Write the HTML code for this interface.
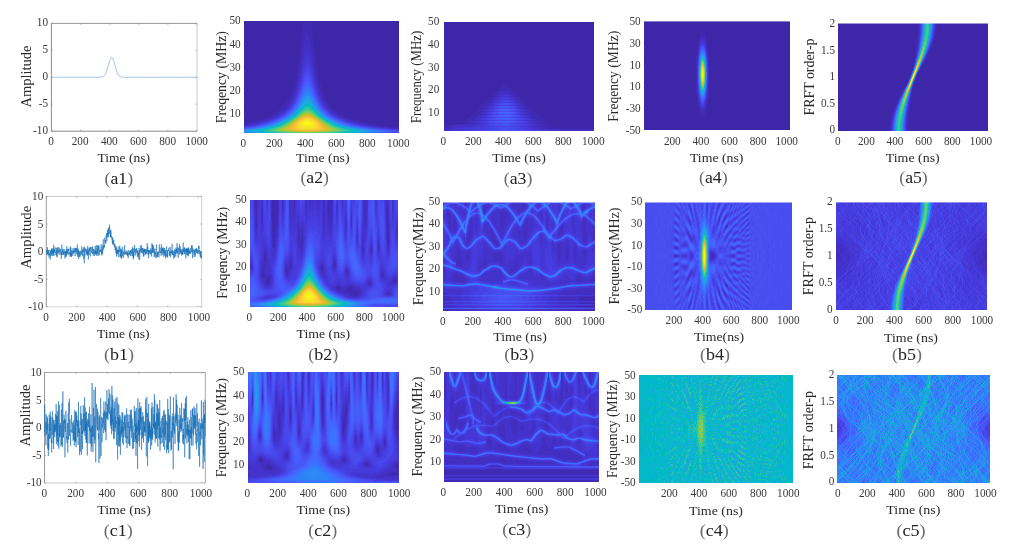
<!DOCTYPE html>
<html><head><meta charset="utf-8"><style>
html,body{margin:0;padding:0;background:#fff;width:1016px;height:552px;overflow:hidden}
canvas{position:absolute;display:block;background:#3e26a8}
svg{position:absolute;left:0;top:0}
text{font-family:"Liberation Serif", serif}
</style></head><body>
<canvas id="a2" width="155" height="112" style="left:244px;top:21px;width:155px;height:112px;background:radial-gradient(ellipse 22px 26px at 64px 104px,#f9fb15 0%,#fcbd3d 35%,#21c1a5 65%,#2f86f2 85%,rgba(62,38,168,0) 100%),radial-gradient(ellipse 80px 14px at 64px 110px,#35a4e8 0%,rgba(62,38,168,0) 100%),#3e26a8"></canvas><canvas id="a3" width="150" height="109" style="left:444px;top:22px;width:150px;height:109px;background:#3f29af"></canvas><canvas id="a4" width="146" height="109" style="left:644px;top:21px;width:146px;height:109px;background:radial-gradient(ellipse 5px 32px at 59px 53px,#f9fb15 0%,#21c1a5 40%,#2f86f2 70%,rgba(62,38,168,0) 100%),#3e26a8"></canvas><canvas id="a5" width="150" height="108" style="left:838px;top:23px;width:150px;height:108px;background:#3e2eab"></canvas><canvas id="b2" width="148" height="107" style="left:250px;top:200px;width:148px;height:107px;background:radial-gradient(ellipse 20px 26px at 58px 100px,#f9fb15 0%,#fcbd3d 35%,#21c1a5 65%,#2f86f2 85%,rgba(72,74,212,0) 100%),#484ad4"></canvas><canvas id="b3" width="152" height="109" style="left:443px;top:202px;width:152px;height:109px;background:#4440db"></canvas><canvas id="b4" width="147" height="108" style="left:645px;top:202px;width:147px;height:108px;background:radial-gradient(ellipse 5px 32px at 59px 54px,#f9fb15 0%,#21c1a5 40%,#2f86f2 70%,rgba(72,81,238,0) 100%),#4851ee"></canvas><canvas id="b5" width="151" height="108" style="left:836px;top:202px;width:151px;height:108px;background:#4745de"></canvas><canvas id="c2" width="151" height="111" style="left:248px;top:372px;width:151px;height:111px;background:#444ce8"></canvas><canvas id="c3" width="155" height="110" style="left:444px;top:372px;width:155px;height:110px;background:#433bd3"></canvas><canvas id="c4" width="154" height="108" style="left:639px;top:375px;width:154px;height:108px;background:#0fb8c6"></canvas><canvas id="c5" width="153" height="108" style="left:837px;top:375px;width:153px;height:108px;background:#2e88f1"></canvas>
<svg width="1016" height="552" viewBox="0 0 1016 552">
<text x="48.0" y="25.9" font-size="12.2" text-anchor="end" fill="#3a3a3a" textLength="11.22" lengthAdjust="spacingAndGlyphs">10</text>
<text x="48.0" y="52.9" font-size="12.2" text-anchor="end" fill="#3a3a3a" textLength="5.61" lengthAdjust="spacingAndGlyphs">5</text>
<text x="48.0" y="79.8" font-size="12.2" text-anchor="end" fill="#3a3a3a" textLength="5.61" lengthAdjust="spacingAndGlyphs">0</text>
<text x="48.0" y="106.8" font-size="12.2" text-anchor="end" fill="#3a3a3a" textLength="9.35" lengthAdjust="spacingAndGlyphs">-5</text>
<text x="48.0" y="133.7" font-size="12.2" text-anchor="end" fill="#3a3a3a" textLength="14.96" lengthAdjust="spacingAndGlyphs">-10</text>
<text x="51.0" y="144.8" font-size="12.2" text-anchor="middle" fill="#3a3a3a" textLength="5.61" lengthAdjust="spacingAndGlyphs">0</text>
<text x="80.1" y="144.8" font-size="12.2" text-anchor="middle" fill="#3a3a3a" textLength="16.84" lengthAdjust="spacingAndGlyphs">200</text>
<text x="109.3" y="144.8" font-size="12.2" text-anchor="middle" fill="#3a3a3a" textLength="16.84" lengthAdjust="spacingAndGlyphs">400</text>
<text x="138.4" y="144.8" font-size="12.2" text-anchor="middle" fill="#3a3a3a" textLength="16.84" lengthAdjust="spacingAndGlyphs">600</text>
<text x="167.6" y="144.8" font-size="12.2" text-anchor="middle" fill="#3a3a3a" textLength="16.84" lengthAdjust="spacingAndGlyphs">800</text>
<text x="196.7" y="144.8" font-size="12.2" text-anchor="middle" fill="#3a3a3a" textLength="22.45" lengthAdjust="spacingAndGlyphs">1000</text>
<text x="123.8" y="162.0" font-size="13.3" text-anchor="middle" fill="#2a2a2a" textLength="52.5" lengthAdjust="spacingAndGlyphs">Time (ns)</text>
<text x="-76.5" y="30.6" font-size="14.0" text-anchor="middle" fill="#2a2a2a" transform="rotate(-90)" textLength="62" lengthAdjust="spacingAndGlyphs">Amplitude</text>
<text x="118.8" y="183.9" font-size="16.5" text-anchor="middle" fill="#222" textLength="28.5" lengthAdjust="spacingAndGlyphs"><tspan fill="#6a6a6a">(</tspan>a1<tspan fill="#6a6a6a">)</tspan></text>
<text x="240.7" y="24.4" font-size="12.2" text-anchor="end" fill="#3a3a3a" textLength="11.22" lengthAdjust="spacingAndGlyphs">50</text>
<text x="240.7" y="47.5" font-size="12.2" text-anchor="end" fill="#3a3a3a" textLength="11.22" lengthAdjust="spacingAndGlyphs">40</text>
<text x="240.7" y="70.6" font-size="12.2" text-anchor="end" fill="#3a3a3a" textLength="11.22" lengthAdjust="spacingAndGlyphs">30</text>
<text x="240.7" y="93.7" font-size="12.2" text-anchor="end" fill="#3a3a3a" textLength="11.22" lengthAdjust="spacingAndGlyphs">20</text>
<text x="240.7" y="116.8" font-size="12.2" text-anchor="end" fill="#3a3a3a" textLength="11.22" lengthAdjust="spacingAndGlyphs">10</text>
<text x="243.3" y="146.6" font-size="12.2" text-anchor="middle" fill="#3a3a3a" textLength="5.61" lengthAdjust="spacingAndGlyphs">0</text>
<text x="274.3" y="146.6" font-size="12.2" text-anchor="middle" fill="#3a3a3a" textLength="16.84" lengthAdjust="spacingAndGlyphs">200</text>
<text x="305.3" y="146.6" font-size="12.2" text-anchor="middle" fill="#3a3a3a" textLength="16.84" lengthAdjust="spacingAndGlyphs">400</text>
<text x="336.3" y="146.6" font-size="12.2" text-anchor="middle" fill="#3a3a3a" textLength="16.84" lengthAdjust="spacingAndGlyphs">600</text>
<text x="367.3" y="146.6" font-size="12.2" text-anchor="middle" fill="#3a3a3a" textLength="16.84" lengthAdjust="spacingAndGlyphs">800</text>
<text x="398.3" y="146.6" font-size="12.2" text-anchor="middle" fill="#3a3a3a" textLength="22.45" lengthAdjust="spacingAndGlyphs">1000</text>
<text x="322.8" y="162.0" font-size="13.3" text-anchor="middle" fill="#2a2a2a" textLength="53.5" lengthAdjust="spacingAndGlyphs">Time (ns)</text>
<text x="-77.2" y="225.5" font-size="14.0" text-anchor="middle" fill="#2a2a2a" transform="rotate(-90)" textLength="92" lengthAdjust="spacingAndGlyphs">Freqency (MHz)</text>
<text x="314.7" y="183.3" font-size="16.5" text-anchor="middle" fill="#222" textLength="28.5" lengthAdjust="spacingAndGlyphs"><tspan fill="#6a6a6a">(</tspan>a2<tspan fill="#6a6a6a">)</tspan></text>
<text x="439.3" y="25.1" font-size="12.2" text-anchor="end" fill="#3a3a3a" textLength="11.22" lengthAdjust="spacingAndGlyphs">50</text>
<text x="439.3" y="47.9" font-size="12.2" text-anchor="end" fill="#3a3a3a" textLength="11.22" lengthAdjust="spacingAndGlyphs">40</text>
<text x="439.3" y="70.6" font-size="12.2" text-anchor="end" fill="#3a3a3a" textLength="11.22" lengthAdjust="spacingAndGlyphs">30</text>
<text x="439.3" y="93.4" font-size="12.2" text-anchor="end" fill="#3a3a3a" textLength="11.22" lengthAdjust="spacingAndGlyphs">20</text>
<text x="439.3" y="116.1" font-size="12.2" text-anchor="end" fill="#3a3a3a" textLength="11.22" lengthAdjust="spacingAndGlyphs">10</text>
<text x="443.3" y="145.1" font-size="12.2" text-anchor="middle" fill="#3a3a3a" textLength="5.61" lengthAdjust="spacingAndGlyphs">0</text>
<text x="473.3" y="145.1" font-size="12.2" text-anchor="middle" fill="#3a3a3a" textLength="16.84" lengthAdjust="spacingAndGlyphs">200</text>
<text x="503.3" y="145.1" font-size="12.2" text-anchor="middle" fill="#3a3a3a" textLength="16.84" lengthAdjust="spacingAndGlyphs">400</text>
<text x="533.3" y="145.1" font-size="12.2" text-anchor="middle" fill="#3a3a3a" textLength="16.84" lengthAdjust="spacingAndGlyphs">600</text>
<text x="563.3" y="145.1" font-size="12.2" text-anchor="middle" fill="#3a3a3a" textLength="16.84" lengthAdjust="spacingAndGlyphs">800</text>
<text x="593.3" y="145.1" font-size="12.2" text-anchor="middle" fill="#3a3a3a" textLength="22.45" lengthAdjust="spacingAndGlyphs">1000</text>
<text x="519.0" y="162.2" font-size="13.3" text-anchor="middle" fill="#2a2a2a" textLength="53.5" lengthAdjust="spacingAndGlyphs">Time (ns)</text>
<text x="-77.0" y="421.3" font-size="14.0" text-anchor="middle" fill="#2a2a2a" transform="rotate(-90)" textLength="92.4" lengthAdjust="spacingAndGlyphs">Frequency (MHz)</text>
<text x="518.1" y="184.3" font-size="16.5" text-anchor="middle" fill="#222" textLength="28.5" lengthAdjust="spacingAndGlyphs"><tspan fill="#6a6a6a">(</tspan>a3<tspan fill="#6a6a6a">)</tspan></text>
<text x="640.7" y="25.1" font-size="12.2" text-anchor="end" fill="#3a3a3a" textLength="11.22" lengthAdjust="spacingAndGlyphs">50</text>
<text x="640.7" y="46.8" font-size="12.2" text-anchor="end" fill="#3a3a3a" textLength="11.22" lengthAdjust="spacingAndGlyphs">30</text>
<text x="640.7" y="68.5" font-size="12.2" text-anchor="end" fill="#3a3a3a" textLength="11.22" lengthAdjust="spacingAndGlyphs">10</text>
<text x="640.7" y="90.2" font-size="12.2" text-anchor="end" fill="#3a3a3a" textLength="11.22" lengthAdjust="spacingAndGlyphs">10</text>
<text x="640.7" y="111.9" font-size="12.2" text-anchor="end" fill="#3a3a3a" textLength="14.96" lengthAdjust="spacingAndGlyphs">-30</text>
<text x="640.7" y="133.6" font-size="12.2" text-anchor="end" fill="#3a3a3a" textLength="14.96" lengthAdjust="spacingAndGlyphs">-50</text>
<text x="672.3" y="144.8" font-size="12.2" text-anchor="middle" fill="#3a3a3a" textLength="16.84" lengthAdjust="spacingAndGlyphs">200</text>
<text x="700.9" y="144.8" font-size="12.2" text-anchor="middle" fill="#3a3a3a" textLength="16.84" lengthAdjust="spacingAndGlyphs">400</text>
<text x="729.5" y="144.8" font-size="12.2" text-anchor="middle" fill="#3a3a3a" textLength="16.84" lengthAdjust="spacingAndGlyphs">600</text>
<text x="758.1" y="144.8" font-size="12.2" text-anchor="middle" fill="#3a3a3a" textLength="16.84" lengthAdjust="spacingAndGlyphs">800</text>
<text x="786.7" y="144.8" font-size="12.2" text-anchor="middle" fill="#3a3a3a" textLength="22.45" lengthAdjust="spacingAndGlyphs">1000</text>
<text x="716.7" y="162.0" font-size="13.3" text-anchor="middle" fill="#2a2a2a" textLength="53.5" lengthAdjust="spacingAndGlyphs">Time (ns)</text>
<text x="-76.2" y="618.0" font-size="14.0" text-anchor="middle" fill="#2a2a2a" transform="rotate(-90)" textLength="91" lengthAdjust="spacingAndGlyphs">Freqency (MHz)</text>
<text x="713.3" y="183.3" font-size="16.5" text-anchor="middle" fill="#222" textLength="28.5" lengthAdjust="spacingAndGlyphs"><tspan fill="#6a6a6a">(</tspan>a4<tspan fill="#6a6a6a">)</tspan></text>
<text x="835.0" y="26.8" font-size="12.2" text-anchor="end" fill="#3a3a3a" textLength="5.61" lengthAdjust="spacingAndGlyphs">2</text>
<text x="835.0" y="53.5" font-size="12.2" text-anchor="end" fill="#3a3a3a" textLength="14.03" lengthAdjust="spacingAndGlyphs">1.5</text>
<text x="835.0" y="80.1" font-size="12.2" text-anchor="end" fill="#3a3a3a" textLength="5.61" lengthAdjust="spacingAndGlyphs">1</text>
<text x="835.0" y="106.8" font-size="12.2" text-anchor="end" fill="#3a3a3a" textLength="14.03" lengthAdjust="spacingAndGlyphs">0.5</text>
<text x="835.0" y="133.4" font-size="12.2" text-anchor="end" fill="#3a3a3a" textLength="5.61" lengthAdjust="spacingAndGlyphs">0</text>
<text x="837.7" y="144.8" font-size="12.2" text-anchor="middle" fill="#3a3a3a" textLength="5.61" lengthAdjust="spacingAndGlyphs">0</text>
<text x="866.4" y="144.8" font-size="12.2" text-anchor="middle" fill="#3a3a3a" textLength="16.84" lengthAdjust="spacingAndGlyphs">200</text>
<text x="895.0" y="144.8" font-size="12.2" text-anchor="middle" fill="#3a3a3a" textLength="16.84" lengthAdjust="spacingAndGlyphs">400</text>
<text x="923.7" y="144.8" font-size="12.2" text-anchor="middle" fill="#3a3a3a" textLength="16.84" lengthAdjust="spacingAndGlyphs">600</text>
<text x="952.3" y="144.8" font-size="12.2" text-anchor="middle" fill="#3a3a3a" textLength="16.84" lengthAdjust="spacingAndGlyphs">800</text>
<text x="981.0" y="144.8" font-size="12.2" text-anchor="middle" fill="#3a3a3a" textLength="22.45" lengthAdjust="spacingAndGlyphs">1000</text>
<text x="912.7" y="162.0" font-size="13.3" text-anchor="middle" fill="#2a2a2a" textLength="54" lengthAdjust="spacingAndGlyphs">Time (ns)</text>
<text x="-77.0" y="813.8" font-size="14.0" text-anchor="middle" fill="#2a2a2a" transform="rotate(-90)" textLength="77" lengthAdjust="spacingAndGlyphs">FRFT order-p</text>
<text x="913.5" y="183.3" font-size="16.5" text-anchor="middle" fill="#222" textLength="28.5" lengthAdjust="spacingAndGlyphs"><tspan fill="#6a6a6a">(</tspan>a5<tspan fill="#6a6a6a">)</tspan></text>
<text x="43.3" y="200.4" font-size="12.2" text-anchor="end" fill="#3a3a3a" textLength="11.22" lengthAdjust="spacingAndGlyphs">10</text>
<text x="43.3" y="227.9" font-size="12.2" text-anchor="end" fill="#3a3a3a" textLength="5.61" lengthAdjust="spacingAndGlyphs">5</text>
<text x="43.3" y="255.4" font-size="12.2" text-anchor="end" fill="#3a3a3a" textLength="5.61" lengthAdjust="spacingAndGlyphs">0</text>
<text x="43.3" y="282.9" font-size="12.2" text-anchor="end" fill="#3a3a3a" textLength="9.35" lengthAdjust="spacingAndGlyphs">-5</text>
<text x="43.3" y="310.4" font-size="12.2" text-anchor="end" fill="#3a3a3a" textLength="14.96" lengthAdjust="spacingAndGlyphs">-10</text>
<text x="46.0" y="320.8" font-size="12.2" text-anchor="middle" fill="#3a3a3a" textLength="5.61" lengthAdjust="spacingAndGlyphs">0</text>
<text x="76.6" y="320.8" font-size="12.2" text-anchor="middle" fill="#3a3a3a" textLength="16.84" lengthAdjust="spacingAndGlyphs">200</text>
<text x="107.2" y="320.8" font-size="12.2" text-anchor="middle" fill="#3a3a3a" textLength="16.84" lengthAdjust="spacingAndGlyphs">400</text>
<text x="137.8" y="320.8" font-size="12.2" text-anchor="middle" fill="#3a3a3a" textLength="16.84" lengthAdjust="spacingAndGlyphs">600</text>
<text x="168.4" y="320.8" font-size="12.2" text-anchor="middle" fill="#3a3a3a" textLength="16.84" lengthAdjust="spacingAndGlyphs">800</text>
<text x="199.0" y="320.8" font-size="12.2" text-anchor="middle" fill="#3a3a3a" textLength="22.45" lengthAdjust="spacingAndGlyphs">1000</text>
<text x="123.3" y="338.3" font-size="13.3" text-anchor="middle" fill="#2a2a2a" textLength="52.5" lengthAdjust="spacingAndGlyphs">Time (ns)</text>
<text x="-237.3" y="30.7" font-size="14.0" text-anchor="middle" fill="#2a2a2a" transform="rotate(-90)" textLength="63" lengthAdjust="spacingAndGlyphs">Amplitude</text>
<text x="119.0" y="360.3" font-size="16.5" text-anchor="middle" fill="#222" textLength="30" lengthAdjust="spacingAndGlyphs"><tspan fill="#6a6a6a">(</tspan>b1<tspan fill="#6a6a6a">)</tspan></text>
<text x="246.7" y="203.1" font-size="12.2" text-anchor="end" fill="#3a3a3a" textLength="11.22" lengthAdjust="spacingAndGlyphs">50</text>
<text x="246.7" y="225.4" font-size="12.2" text-anchor="end" fill="#3a3a3a" textLength="11.22" lengthAdjust="spacingAndGlyphs">40</text>
<text x="246.7" y="247.6" font-size="12.2" text-anchor="end" fill="#3a3a3a" textLength="11.22" lengthAdjust="spacingAndGlyphs">30</text>
<text x="246.7" y="269.9" font-size="12.2" text-anchor="end" fill="#3a3a3a" textLength="11.22" lengthAdjust="spacingAndGlyphs">20</text>
<text x="246.7" y="292.1" font-size="12.2" text-anchor="end" fill="#3a3a3a" textLength="11.22" lengthAdjust="spacingAndGlyphs">10</text>
<text x="249.3" y="321.4" font-size="12.2" text-anchor="middle" fill="#3a3a3a" textLength="5.61" lengthAdjust="spacingAndGlyphs">0</text>
<text x="278.1" y="321.4" font-size="12.2" text-anchor="middle" fill="#3a3a3a" textLength="16.84" lengthAdjust="spacingAndGlyphs">200</text>
<text x="306.9" y="321.4" font-size="12.2" text-anchor="middle" fill="#3a3a3a" textLength="16.84" lengthAdjust="spacingAndGlyphs">400</text>
<text x="335.7" y="321.4" font-size="12.2" text-anchor="middle" fill="#3a3a3a" textLength="16.84" lengthAdjust="spacingAndGlyphs">600</text>
<text x="364.5" y="321.4" font-size="12.2" text-anchor="middle" fill="#3a3a3a" textLength="16.84" lengthAdjust="spacingAndGlyphs">800</text>
<text x="393.3" y="321.4" font-size="12.2" text-anchor="middle" fill="#3a3a3a" textLength="22.45" lengthAdjust="spacingAndGlyphs">1000</text>
<text x="323.3" y="338.3" font-size="13.3" text-anchor="middle" fill="#2a2a2a" textLength="53.5" lengthAdjust="spacingAndGlyphs">Time (ns)</text>
<text x="-252.8" y="227.3" font-size="14.0" text-anchor="middle" fill="#2a2a2a" transform="rotate(-90)" textLength="92" lengthAdjust="spacingAndGlyphs">Freqency (MHz)</text>
<text x="323.3" y="360.3" font-size="16.5" text-anchor="middle" fill="#222" textLength="30" lengthAdjust="spacingAndGlyphs"><tspan fill="#6a6a6a">(</tspan>b2<tspan fill="#6a6a6a">)</tspan></text>
<text x="440.0" y="204.8" font-size="12.2" text-anchor="end" fill="#3a3a3a" textLength="11.22" lengthAdjust="spacingAndGlyphs">50</text>
<text x="440.0" y="227.3" font-size="12.2" text-anchor="end" fill="#3a3a3a" textLength="11.22" lengthAdjust="spacingAndGlyphs">40</text>
<text x="440.0" y="249.8" font-size="12.2" text-anchor="end" fill="#3a3a3a" textLength="11.22" lengthAdjust="spacingAndGlyphs">30</text>
<text x="440.0" y="272.3" font-size="12.2" text-anchor="end" fill="#3a3a3a" textLength="11.22" lengthAdjust="spacingAndGlyphs">20</text>
<text x="440.0" y="294.8" font-size="12.2" text-anchor="end" fill="#3a3a3a" textLength="11.22" lengthAdjust="spacingAndGlyphs">10</text>
<text x="442.7" y="325.4" font-size="12.2" text-anchor="middle" fill="#3a3a3a" textLength="5.61" lengthAdjust="spacingAndGlyphs">0</text>
<text x="472.8" y="325.4" font-size="12.2" text-anchor="middle" fill="#3a3a3a" textLength="16.84" lengthAdjust="spacingAndGlyphs">200</text>
<text x="502.9" y="325.4" font-size="12.2" text-anchor="middle" fill="#3a3a3a" textLength="16.84" lengthAdjust="spacingAndGlyphs">400</text>
<text x="533.1" y="325.4" font-size="12.2" text-anchor="middle" fill="#3a3a3a" textLength="16.84" lengthAdjust="spacingAndGlyphs">600</text>
<text x="563.2" y="325.4" font-size="12.2" text-anchor="middle" fill="#3a3a3a" textLength="16.84" lengthAdjust="spacingAndGlyphs">800</text>
<text x="593.3" y="325.4" font-size="12.2" text-anchor="middle" fill="#3a3a3a" textLength="22.45" lengthAdjust="spacingAndGlyphs">1000</text>
<text x="520.0" y="341.0" font-size="13.3" text-anchor="middle" fill="#2a2a2a" textLength="53.5" lengthAdjust="spacingAndGlyphs">Time (ns)</text>
<text x="-256.2" y="422.9" font-size="14.0" text-anchor="middle" fill="#2a2a2a" transform="rotate(-90)" textLength="98" lengthAdjust="spacingAndGlyphs">Frequency(MHz)</text>
<text x="519.3" y="360.3" font-size="16.5" text-anchor="middle" fill="#222" textLength="30" lengthAdjust="spacingAndGlyphs"><tspan fill="#6a6a6a">(</tspan>b3<tspan fill="#6a6a6a">)</tspan></text>
<text x="642.3" y="205.4" font-size="12.2" text-anchor="end" fill="#3a3a3a" textLength="11.22" lengthAdjust="spacingAndGlyphs">50</text>
<text x="642.3" y="227.0" font-size="12.2" text-anchor="end" fill="#3a3a3a" textLength="11.22" lengthAdjust="spacingAndGlyphs">30</text>
<text x="642.3" y="248.5" font-size="12.2" text-anchor="end" fill="#3a3a3a" textLength="11.22" lengthAdjust="spacingAndGlyphs">10</text>
<text x="642.3" y="270.0" font-size="12.2" text-anchor="end" fill="#3a3a3a" textLength="14.96" lengthAdjust="spacingAndGlyphs">-10</text>
<text x="642.3" y="291.6" font-size="12.2" text-anchor="end" fill="#3a3a3a" textLength="14.96" lengthAdjust="spacingAndGlyphs">-30</text>
<text x="642.3" y="313.1" font-size="12.2" text-anchor="end" fill="#3a3a3a" textLength="14.96" lengthAdjust="spacingAndGlyphs">-50</text>
<text x="674.0" y="324.1" font-size="12.2" text-anchor="middle" fill="#3a3a3a" textLength="16.84" lengthAdjust="spacingAndGlyphs">200</text>
<text x="702.6" y="324.1" font-size="12.2" text-anchor="middle" fill="#3a3a3a" textLength="16.84" lengthAdjust="spacingAndGlyphs">400</text>
<text x="731.1" y="324.1" font-size="12.2" text-anchor="middle" fill="#3a3a3a" textLength="16.84" lengthAdjust="spacingAndGlyphs">600</text>
<text x="759.7" y="324.1" font-size="12.2" text-anchor="middle" fill="#3a3a3a" textLength="16.84" lengthAdjust="spacingAndGlyphs">800</text>
<text x="788.3" y="324.1" font-size="12.2" text-anchor="middle" fill="#3a3a3a" textLength="22.45" lengthAdjust="spacingAndGlyphs">1000</text>
<text x="719.0" y="341.0" font-size="13.3" text-anchor="middle" fill="#2a2a2a" textLength="50" lengthAdjust="spacingAndGlyphs">Time(ns)</text>
<text x="-256.0" y="619.0" font-size="14.0" text-anchor="middle" fill="#2a2a2a" transform="rotate(-90)" textLength="97" lengthAdjust="spacingAndGlyphs">Frequency(MHz)</text>
<text x="715.0" y="360.3" font-size="16.5" text-anchor="middle" fill="#222" textLength="30" lengthAdjust="spacingAndGlyphs"><tspan fill="#6a6a6a">(</tspan>b4<tspan fill="#6a6a6a">)</tspan></text>
<text x="832.7" y="205.4" font-size="12.2" text-anchor="end" fill="#3a3a3a" textLength="5.61" lengthAdjust="spacingAndGlyphs">2</text>
<text x="832.7" y="232.3" font-size="12.2" text-anchor="end" fill="#3a3a3a" textLength="14.03" lengthAdjust="spacingAndGlyphs">1.5</text>
<text x="832.7" y="259.3" font-size="12.2" text-anchor="end" fill="#3a3a3a" textLength="5.61" lengthAdjust="spacingAndGlyphs">1</text>
<text x="832.7" y="286.2" font-size="12.2" text-anchor="end" fill="#3a3a3a" textLength="14.03" lengthAdjust="spacingAndGlyphs">0.5</text>
<text x="832.7" y="313.1" font-size="12.2" text-anchor="end" fill="#3a3a3a" textLength="5.61" lengthAdjust="spacingAndGlyphs">0</text>
<text x="836.0" y="324.1" font-size="12.2" text-anchor="middle" fill="#3a3a3a" textLength="5.61" lengthAdjust="spacingAndGlyphs">0</text>
<text x="865.2" y="324.1" font-size="12.2" text-anchor="middle" fill="#3a3a3a" textLength="16.84" lengthAdjust="spacingAndGlyphs">200</text>
<text x="894.4" y="324.1" font-size="12.2" text-anchor="middle" fill="#3a3a3a" textLength="16.84" lengthAdjust="spacingAndGlyphs">400</text>
<text x="923.6" y="324.1" font-size="12.2" text-anchor="middle" fill="#3a3a3a" textLength="16.84" lengthAdjust="spacingAndGlyphs">600</text>
<text x="952.8" y="324.1" font-size="12.2" text-anchor="middle" fill="#3a3a3a" textLength="16.84" lengthAdjust="spacingAndGlyphs">800</text>
<text x="982.0" y="324.1" font-size="12.2" text-anchor="middle" fill="#3a3a3a" textLength="22.45" lengthAdjust="spacingAndGlyphs">1000</text>
<text x="911.0" y="341.6" font-size="13.3" text-anchor="middle" fill="#2a2a2a" textLength="54" lengthAdjust="spacingAndGlyphs">Time (ns)</text>
<text x="-256.1" y="813.2" font-size="14.0" text-anchor="middle" fill="#2a2a2a" transform="rotate(-90)" textLength="78.5" lengthAdjust="spacingAndGlyphs">FRFT order-p</text>
<text x="907.0" y="360.3" font-size="16.5" text-anchor="middle" fill="#222" textLength="30" lengthAdjust="spacingAndGlyphs"><tspan fill="#6a6a6a">(</tspan>b5<tspan fill="#6a6a6a">)</tspan></text>
<text x="41.7" y="376.1" font-size="12.2" text-anchor="end" fill="#3a3a3a" textLength="11.22" lengthAdjust="spacingAndGlyphs">10</text>
<text x="41.7" y="403.6" font-size="12.2" text-anchor="end" fill="#3a3a3a" textLength="5.61" lengthAdjust="spacingAndGlyphs">5</text>
<text x="41.7" y="431.1" font-size="12.2" text-anchor="end" fill="#3a3a3a" textLength="5.61" lengthAdjust="spacingAndGlyphs">0</text>
<text x="41.7" y="458.6" font-size="12.2" text-anchor="end" fill="#3a3a3a" textLength="9.35" lengthAdjust="spacingAndGlyphs">-5</text>
<text x="41.7" y="486.1" font-size="12.2" text-anchor="end" fill="#3a3a3a" textLength="14.96" lengthAdjust="spacingAndGlyphs">-10</text>
<text x="44.3" y="497.1" font-size="12.2" text-anchor="middle" fill="#3a3a3a" textLength="5.61" lengthAdjust="spacingAndGlyphs">0</text>
<text x="75.6" y="497.1" font-size="12.2" text-anchor="middle" fill="#3a3a3a" textLength="16.84" lengthAdjust="spacingAndGlyphs">200</text>
<text x="107.0" y="497.1" font-size="12.2" text-anchor="middle" fill="#3a3a3a" textLength="16.84" lengthAdjust="spacingAndGlyphs">400</text>
<text x="138.3" y="497.1" font-size="12.2" text-anchor="middle" fill="#3a3a3a" textLength="16.84" lengthAdjust="spacingAndGlyphs">600</text>
<text x="169.7" y="497.1" font-size="12.2" text-anchor="middle" fill="#3a3a3a" textLength="16.84" lengthAdjust="spacingAndGlyphs">800</text>
<text x="201.0" y="497.1" font-size="12.2" text-anchor="middle" fill="#3a3a3a" textLength="22.45" lengthAdjust="spacingAndGlyphs">1000</text>
<text x="124.0" y="514.0" font-size="13.3" text-anchor="middle" fill="#2a2a2a" textLength="53.5" lengthAdjust="spacingAndGlyphs">Time (ns)</text>
<text x="-415.5" y="30.0" font-size="14.0" text-anchor="middle" fill="#2a2a2a" transform="rotate(-90)" textLength="62" lengthAdjust="spacingAndGlyphs">Amplitude</text>
<text x="118.3" y="536.0" font-size="16.5" text-anchor="middle" fill="#222" textLength="29" lengthAdjust="spacingAndGlyphs"><tspan fill="#6a6a6a">(</tspan>c1<tspan fill="#6a6a6a">)</tspan></text>
<text x="244.3" y="375.4" font-size="12.2" text-anchor="end" fill="#3a3a3a" textLength="11.22" lengthAdjust="spacingAndGlyphs">50</text>
<text x="244.3" y="398.6" font-size="12.2" text-anchor="end" fill="#3a3a3a" textLength="11.22" lengthAdjust="spacingAndGlyphs">40</text>
<text x="244.3" y="421.8" font-size="12.2" text-anchor="end" fill="#3a3a3a" textLength="11.22" lengthAdjust="spacingAndGlyphs">30</text>
<text x="244.3" y="444.9" font-size="12.2" text-anchor="end" fill="#3a3a3a" textLength="11.22" lengthAdjust="spacingAndGlyphs">20</text>
<text x="244.3" y="468.1" font-size="12.2" text-anchor="end" fill="#3a3a3a" textLength="11.22" lengthAdjust="spacingAndGlyphs">10</text>
<text x="247.3" y="497.1" font-size="12.2" text-anchor="middle" fill="#3a3a3a" textLength="5.61" lengthAdjust="spacingAndGlyphs">0</text>
<text x="277.7" y="497.1" font-size="12.2" text-anchor="middle" fill="#3a3a3a" textLength="16.84" lengthAdjust="spacingAndGlyphs">200</text>
<text x="308.1" y="497.1" font-size="12.2" text-anchor="middle" fill="#3a3a3a" textLength="16.84" lengthAdjust="spacingAndGlyphs">400</text>
<text x="338.4" y="497.1" font-size="12.2" text-anchor="middle" fill="#3a3a3a" textLength="16.84" lengthAdjust="spacingAndGlyphs">600</text>
<text x="368.8" y="497.1" font-size="12.2" text-anchor="middle" fill="#3a3a3a" textLength="16.84" lengthAdjust="spacingAndGlyphs">800</text>
<text x="399.2" y="497.1" font-size="12.2" text-anchor="middle" fill="#3a3a3a" textLength="22.45" lengthAdjust="spacingAndGlyphs">1000</text>
<text x="323.3" y="514.0" font-size="13.3" text-anchor="middle" fill="#2a2a2a" textLength="53.5" lengthAdjust="spacingAndGlyphs">Time (ns)</text>
<text x="-427.7" y="226.0" font-size="14.0" text-anchor="middle" fill="#2a2a2a" transform="rotate(-90)" textLength="99" lengthAdjust="spacingAndGlyphs">Frequency (MHz)</text>
<text x="322.7" y="536.3" font-size="16.5" text-anchor="middle" fill="#222" textLength="29" lengthAdjust="spacingAndGlyphs"><tspan fill="#6a6a6a">(</tspan>c2<tspan fill="#6a6a6a">)</tspan></text>
<text x="441.0" y="375.4" font-size="12.2" text-anchor="end" fill="#3a3a3a" textLength="11.22" lengthAdjust="spacingAndGlyphs">50</text>
<text x="441.0" y="397.8" font-size="12.2" text-anchor="end" fill="#3a3a3a" textLength="11.22" lengthAdjust="spacingAndGlyphs">40</text>
<text x="441.0" y="420.1" font-size="12.2" text-anchor="end" fill="#3a3a3a" textLength="11.22" lengthAdjust="spacingAndGlyphs">30</text>
<text x="441.0" y="442.5" font-size="12.2" text-anchor="end" fill="#3a3a3a" textLength="11.22" lengthAdjust="spacingAndGlyphs">20</text>
<text x="441.0" y="464.8" font-size="12.2" text-anchor="end" fill="#3a3a3a" textLength="11.22" lengthAdjust="spacingAndGlyphs">10</text>
<text x="443.3" y="496.1" font-size="12.2" text-anchor="middle" fill="#3a3a3a" textLength="5.61" lengthAdjust="spacingAndGlyphs">0</text>
<text x="473.7" y="496.1" font-size="12.2" text-anchor="middle" fill="#3a3a3a" textLength="16.84" lengthAdjust="spacingAndGlyphs">200</text>
<text x="504.2" y="496.1" font-size="12.2" text-anchor="middle" fill="#3a3a3a" textLength="16.84" lengthAdjust="spacingAndGlyphs">400</text>
<text x="534.6" y="496.1" font-size="12.2" text-anchor="middle" fill="#3a3a3a" textLength="16.84" lengthAdjust="spacingAndGlyphs">600</text>
<text x="565.1" y="496.1" font-size="12.2" text-anchor="middle" fill="#3a3a3a" textLength="16.84" lengthAdjust="spacingAndGlyphs">800</text>
<text x="595.5" y="496.1" font-size="12.2" text-anchor="middle" fill="#3a3a3a" textLength="22.45" lengthAdjust="spacingAndGlyphs">1000</text>
<text x="521.7" y="513.0" font-size="13.3" text-anchor="middle" fill="#2a2a2a" textLength="53.5" lengthAdjust="spacingAndGlyphs">Time (ns)</text>
<text x="-426.6" y="421.6" font-size="14.0" text-anchor="middle" fill="#2a2a2a" transform="rotate(-90)" textLength="100" lengthAdjust="spacingAndGlyphs">Frequency (MHz)</text>
<text x="516.7" y="534.5" font-size="16.5" text-anchor="middle" fill="#222" textLength="29" lengthAdjust="spacingAndGlyphs"><tspan fill="#6a6a6a">(</tspan>c3<tspan fill="#6a6a6a">)</tspan></text>
<text x="635.7" y="378.8" font-size="12.2" text-anchor="end" fill="#3a3a3a" textLength="11.22" lengthAdjust="spacingAndGlyphs">50</text>
<text x="635.7" y="400.3" font-size="12.2" text-anchor="end" fill="#3a3a3a" textLength="11.22" lengthAdjust="spacingAndGlyphs">30</text>
<text x="635.7" y="421.7" font-size="12.2" text-anchor="end" fill="#3a3a3a" textLength="11.22" lengthAdjust="spacingAndGlyphs">10</text>
<text x="635.7" y="443.2" font-size="12.2" text-anchor="end" fill="#3a3a3a" textLength="14.96" lengthAdjust="spacingAndGlyphs">-10</text>
<text x="635.7" y="464.7" font-size="12.2" text-anchor="end" fill="#3a3a3a" textLength="14.96" lengthAdjust="spacingAndGlyphs">-30</text>
<text x="635.7" y="486.1" font-size="12.2" text-anchor="end" fill="#3a3a3a" textLength="14.96" lengthAdjust="spacingAndGlyphs">-50</text>
<text x="669.3" y="497.1" font-size="12.2" text-anchor="middle" fill="#3a3a3a" textLength="16.84" lengthAdjust="spacingAndGlyphs">200</text>
<text x="699.0" y="497.1" font-size="12.2" text-anchor="middle" fill="#3a3a3a" textLength="16.84" lengthAdjust="spacingAndGlyphs">400</text>
<text x="728.8" y="497.1" font-size="12.2" text-anchor="middle" fill="#3a3a3a" textLength="16.84" lengthAdjust="spacingAndGlyphs">600</text>
<text x="758.5" y="497.1" font-size="12.2" text-anchor="middle" fill="#3a3a3a" textLength="16.84" lengthAdjust="spacingAndGlyphs">800</text>
<text x="788.3" y="497.1" font-size="12.2" text-anchor="middle" fill="#3a3a3a" textLength="22.45" lengthAdjust="spacingAndGlyphs">1000</text>
<text x="716.0" y="515.0" font-size="13.3" text-anchor="middle" fill="#2a2a2a" textLength="54" lengthAdjust="spacingAndGlyphs">Time (ns)</text>
<text x="-429.0" y="616.8" font-size="14.0" text-anchor="middle" fill="#2a2a2a" transform="rotate(-90)" textLength="98" lengthAdjust="spacingAndGlyphs">Frequency (MHz)</text>
<text x="714.3" y="536.0" font-size="16.5" text-anchor="middle" fill="#222" textLength="29" lengthAdjust="spacingAndGlyphs"><tspan fill="#6a6a6a">(</tspan>c4<tspan fill="#6a6a6a">)</tspan></text>
<text x="834.3" y="377.8" font-size="12.2" text-anchor="end" fill="#3a3a3a" textLength="5.61" lengthAdjust="spacingAndGlyphs">2</text>
<text x="834.3" y="404.7" font-size="12.2" text-anchor="end" fill="#3a3a3a" textLength="14.03" lengthAdjust="spacingAndGlyphs">1.5</text>
<text x="834.3" y="431.6" font-size="12.2" text-anchor="end" fill="#3a3a3a" textLength="5.61" lengthAdjust="spacingAndGlyphs">1</text>
<text x="834.3" y="458.5" font-size="12.2" text-anchor="end" fill="#3a3a3a" textLength="14.03" lengthAdjust="spacingAndGlyphs">0.5</text>
<text x="834.3" y="485.4" font-size="12.2" text-anchor="end" fill="#3a3a3a" textLength="5.61" lengthAdjust="spacingAndGlyphs">0</text>
<text x="837.7" y="497.1" font-size="12.2" text-anchor="middle" fill="#3a3a3a" textLength="5.61" lengthAdjust="spacingAndGlyphs">0</text>
<text x="867.3" y="497.1" font-size="12.2" text-anchor="middle" fill="#3a3a3a" textLength="16.84" lengthAdjust="spacingAndGlyphs">200</text>
<text x="896.8" y="497.1" font-size="12.2" text-anchor="middle" fill="#3a3a3a" textLength="16.84" lengthAdjust="spacingAndGlyphs">400</text>
<text x="926.4" y="497.1" font-size="12.2" text-anchor="middle" fill="#3a3a3a" textLength="16.84" lengthAdjust="spacingAndGlyphs">600</text>
<text x="955.9" y="497.1" font-size="12.2" text-anchor="middle" fill="#3a3a3a" textLength="16.84" lengthAdjust="spacingAndGlyphs">800</text>
<text x="985.5" y="497.1" font-size="12.2" text-anchor="middle" fill="#3a3a3a" textLength="22.45" lengthAdjust="spacingAndGlyphs">1000</text>
<text x="913.3" y="514.0" font-size="13.3" text-anchor="middle" fill="#2a2a2a" textLength="54" lengthAdjust="spacingAndGlyphs">Time (ns)</text>
<text x="-430.1" y="812.6" font-size="14.0" text-anchor="middle" fill="#2a2a2a" transform="rotate(-90)" textLength="78.5" lengthAdjust="spacingAndGlyphs">FRFT order-p</text>
<text x="911.0" y="536.0" font-size="16.5" text-anchor="middle" fill="#222" textLength="29" lengthAdjust="spacingAndGlyphs"><tspan fill="#6a6a6a">(</tspan>c5<tspan fill="#6a6a6a">)</tspan></text>
<path d="M51.4 23.4V131.2" fill="none" stroke="#8a8a8a" stroke-width="1"/>
<path d="M51.4 23.4H197.0" fill="none" stroke="#999" stroke-width="1"/>
<path d="M51.4 131.2H197.0" fill="none" stroke="#8a8a8a" stroke-width="1"/>
<path d="M197.0 23.4V131.2" fill="none" stroke="#c8c8c8" stroke-width="1"/>
<path d="M51.4 131.2v-1.5M51.4 23.4v1.5M80.5 131.2v-1.5M80.5 23.4v1.5M109.6 131.2v-1.5M109.6 23.4v1.5M138.8 131.2v-1.5M138.8 23.4v1.5M167.9 131.2v-1.5M167.9 23.4v1.5M197.0 131.2v-1.5M197.0 23.4v1.5M51.4 23.4h1.5M197.0 23.4h-1.5M51.4 50.3h1.5M197.0 50.3h-1.5M51.4 77.3h1.5M197.0 77.3h-1.5M51.4 104.2h1.5M197.0 104.2h-1.5M51.4 131.2h1.5M197.0 131.2h-1.5" fill="none" stroke="#8a8a8a" stroke-width="0.6"/>
<polyline points="51.4,77.3 51.5,77.3 51.7,77.3 51.8,77.3 52.0,77.3 52.1,77.3 52.3,77.3 52.4,77.3 52.6,77.3 52.7,77.3 52.9,77.3 53.0,77.3 53.1,77.3 53.3,77.3 53.4,77.3 53.6,77.3 53.7,77.3 53.9,77.3 54.0,77.3 54.2,77.3 54.3,77.3 54.5,77.3 54.6,77.3 54.7,77.3 54.9,77.3 55.0,77.3 55.2,77.3 55.3,77.3 55.5,77.3 55.6,77.3 55.8,77.3 55.9,77.3 56.1,77.3 56.2,77.3 56.4,77.3 56.5,77.3 56.6,77.3 56.8,77.3 56.9,77.3 57.1,77.3 57.2,77.3 57.4,77.3 57.5,77.3 57.7,77.3 57.8,77.3 58.0,77.3 58.1,77.3 58.2,77.3 58.4,77.3 58.5,77.3 58.7,77.3 58.8,77.3 59.0,77.3 59.1,77.3 59.3,77.3 59.4,77.3 59.6,77.3 59.7,77.3 59.8,77.3 60.0,77.3 60.1,77.3 60.3,77.3 60.4,77.3 60.6,77.3 60.7,77.3 60.9,77.3 61.0,77.3 61.2,77.3 61.3,77.3 61.4,77.3 61.6,77.3 61.7,77.3 61.9,77.3 62.0,77.3 62.2,77.3 62.3,77.3 62.5,77.3 62.6,77.3 62.8,77.3 62.9,77.3 63.0,77.3 63.2,77.3 63.3,77.3 63.5,77.3 63.6,77.3 63.8,77.3 63.9,77.3 64.1,77.3 64.2,77.3 64.4,77.3 64.5,77.3 64.6,77.3 64.8,77.3 64.9,77.3 65.1,77.3 65.2,77.3 65.4,77.3 65.5,77.3 65.7,77.3 65.8,77.3 66.0,77.3 66.1,77.3 66.3,77.3 66.4,77.3 66.5,77.3 66.7,77.3 66.8,77.3 67.0,77.3 67.1,77.3 67.3,77.3 67.4,77.3 67.6,77.3 67.7,77.3 67.9,77.3 68.0,77.3 68.1,77.3 68.3,77.3 68.4,77.3 68.6,77.3 68.7,77.3 68.9,77.3 69.0,77.3 69.2,77.3 69.3,77.3 69.5,77.3 69.6,77.3 69.7,77.3 69.9,77.3 70.0,77.3 70.2,77.3 70.3,77.3 70.5,77.3 70.6,77.3 70.8,77.3 70.9,77.3 71.1,77.3 71.2,77.3 71.3,77.3 71.5,77.3 71.6,77.3 71.8,77.3 71.9,77.3 72.1,77.3 72.2,77.3 72.4,77.3 72.5,77.3 72.7,77.3 72.8,77.3 72.9,77.3 73.1,77.3 73.2,77.3 73.4,77.3 73.5,77.3 73.7,77.3 73.8,77.3 74.0,77.3 74.1,77.3 74.3,77.3 74.4,77.3 74.6,77.3 74.7,77.3 74.8,77.3 75.0,77.3 75.1,77.3 75.3,77.3 75.4,77.3 75.6,77.3 75.7,77.3 75.9,77.3 76.0,77.3 76.2,77.3 76.3,77.3 76.4,77.3 76.6,77.3 76.7,77.3 76.9,77.3 77.0,77.3 77.2,77.3 77.3,77.3 77.5,77.3 77.6,77.3 77.8,77.3 77.9,77.3 78.0,77.3 78.2,77.3 78.3,77.3 78.5,77.3 78.6,77.3 78.8,77.3 78.9,77.3 79.1,77.3 79.2,77.3 79.4,77.3 79.5,77.3 79.6,77.3 79.8,77.3 79.9,77.3 80.1,77.3 80.2,77.3 80.4,77.3 80.5,77.3 80.7,77.3 80.8,77.3 81.0,77.3 81.1,77.3 81.2,77.3 81.4,77.3 81.5,77.3 81.7,77.3 81.8,77.3 82.0,77.3 82.1,77.3 82.3,77.3 82.4,77.3 82.6,77.3 82.7,77.3 82.8,77.3 83.0,77.3 83.1,77.3 83.3,77.3 83.4,77.3 83.6,77.3 83.7,77.3 83.9,77.3 84.0,77.3 84.2,77.3 84.3,77.3 84.5,77.3 84.6,77.3 84.7,77.3 84.9,77.3 85.0,77.3 85.2,77.3 85.3,77.3 85.5,77.3 85.6,77.3 85.8,77.3 85.9,77.3 86.1,77.3 86.2,77.3 86.3,77.3 86.5,77.3 86.6,77.3 86.8,77.3 86.9,77.3 87.1,77.3 87.2,77.3 87.4,77.3 87.5,77.3 87.7,77.3 87.8,77.3 87.9,77.3 88.1,77.3 88.2,77.3 88.4,77.3 88.5,77.3 88.7,77.3 88.8,77.3 89.0,77.3 89.1,77.3 89.3,77.3 89.4,77.3 89.5,77.3 89.7,77.3 89.8,77.3 90.0,77.3 90.1,77.3 90.3,77.3 90.4,77.3 90.6,77.3 90.7,77.3 90.9,77.3 91.0,77.3 91.1,77.3 91.3,77.3 91.4,77.3 91.6,77.3 91.7,77.3 91.9,77.3 92.0,77.3 92.2,77.3 92.3,77.3 92.5,77.3 92.6,77.3 92.8,77.3 92.9,77.3 93.0,77.3 93.2,77.3 93.3,77.3 93.5,77.3 93.6,77.3 93.8,77.3 93.9,77.3 94.1,77.3 94.2,77.3 94.4,77.3 94.5,77.3 94.6,77.3 94.8,77.3 94.9,77.3 95.1,77.3 95.2,77.3 95.4,77.3 95.5,77.3 95.7,77.3 95.8,77.3 96.0,77.3 96.1,77.3 96.2,77.3 96.4,77.3 96.5,77.3 96.7,77.3 96.8,77.3 97.0,77.3 97.1,77.3 97.3,77.3 97.4,77.3 97.6,77.3 97.7,77.3 97.8,77.3 98.0,77.3 98.1,77.3 98.3,77.3 98.4,77.3 98.6,77.3 98.7,77.3 98.9,77.3 99.0,77.3 99.2,77.3 99.3,77.3 99.4,77.3 99.6,77.3 99.7,77.3 99.9,77.3 100.0,77.3 100.2,77.3 100.3,77.2 100.5,77.2 100.6,77.2 100.8,77.2 100.9,77.2 101.0,77.2 101.2,77.2 101.3,77.2 101.5,77.1 101.6,77.1 101.8,77.1 101.9,77.0 102.1,77.0 102.2,77.0 102.4,76.9 102.5,76.9 102.7,76.8 102.8,76.8 102.9,76.7 103.1,76.6 103.2,76.5 103.4,76.4 103.5,76.3 103.7,76.2 103.8,76.1 104.0,76.0 104.1,75.9 104.3,75.7 104.4,75.5 104.5,75.4 104.7,75.2 104.8,75.0 105.0,74.7 105.1,74.5 105.3,74.3 105.4,74.0 105.6,73.7 105.7,73.4 105.9,73.1 106.0,72.7 106.1,72.4 106.3,72.0 106.4,71.6 106.6,71.2 106.7,70.8 106.9,70.4 107.0,69.9 107.2,69.5 107.3,69.0 107.5,68.5 107.6,68.0 107.7,67.5 107.9,67.0 108.0,66.4 108.2,65.9 108.3,65.4 108.5,64.8 108.6,64.3 108.8,63.8 108.9,63.3 109.1,62.7 109.2,62.2 109.3,61.7 109.5,61.3 109.6,60.8 109.8,60.4 109.9,60.0 110.1,59.6 110.2,59.2 110.4,58.9 110.5,58.6 110.7,58.3 110.8,58.0 111.0,57.8 111.1,57.7 111.2,57.5 111.4,57.4 111.5,57.4 111.7,57.4 111.8,57.4 112.0,57.4 112.1,57.5 112.3,57.7 112.4,57.8 112.6,58.0 112.7,58.3 112.8,58.6 113.0,58.9 113.1,59.2 113.3,59.6 113.4,60.0 113.6,60.4 113.7,60.8 113.9,61.3 114.0,61.7 114.2,62.2 114.3,62.7 114.4,63.3 114.6,63.8 114.7,64.3 114.9,64.8 115.0,65.4 115.2,65.9 115.3,66.4 115.5,67.0 115.6,67.5 115.8,68.0 115.9,68.5 116.0,69.0 116.2,69.5 116.3,69.9 116.5,70.4 116.6,70.8 116.8,71.2 116.9,71.6 117.1,72.0 117.2,72.4 117.4,72.7 117.5,73.1 117.6,73.4 117.8,73.7 117.9,74.0 118.1,74.3 118.2,74.5 118.4,74.7 118.5,75.0 118.7,75.2 118.8,75.4 119.0,75.5 119.1,75.7 119.2,75.9 119.4,76.0 119.5,76.1 119.7,76.2 119.8,76.3 120.0,76.4 120.1,76.5 120.3,76.6 120.4,76.7 120.6,76.8 120.7,76.8 120.9,76.9 121.0,76.9 121.1,77.0 121.3,77.0 121.4,77.0 121.6,77.1 121.7,77.1 121.9,77.1 122.0,77.2 122.2,77.2 122.3,77.2 122.5,77.2 122.6,77.2 122.7,77.2 122.9,77.2 123.0,77.2 123.2,77.3 123.3,77.3 123.5,77.3 123.6,77.3 123.8,77.3 123.9,77.3 124.1,77.3 124.2,77.3 124.3,77.3 124.5,77.3 124.6,77.3 124.8,77.3 124.9,77.3 125.1,77.3 125.2,77.3 125.4,77.3 125.5,77.3 125.7,77.3 125.8,77.3 125.9,77.3 126.1,77.3 126.2,77.3 126.4,77.3 126.5,77.3 126.7,77.3 126.8,77.3 127.0,77.3 127.1,77.3 127.3,77.3 127.4,77.3 127.5,77.3 127.7,77.3 127.8,77.3 128.0,77.3 128.1,77.3 128.3,77.3 128.4,77.3 128.6,77.3 128.7,77.3 128.9,77.3 129.0,77.3 129.2,77.3 129.3,77.3 129.4,77.3 129.6,77.3 129.7,77.3 129.9,77.3 130.0,77.3 130.2,77.3 130.3,77.3 130.5,77.3 130.6,77.3 130.8,77.3 130.9,77.3 131.0,77.3 131.2,77.3 131.3,77.3 131.5,77.3 131.6,77.3 131.8,77.3 131.9,77.3 132.1,77.3 132.2,77.3 132.4,77.3 132.5,77.3 132.6,77.3 132.8,77.3 132.9,77.3 133.1,77.3 133.2,77.3 133.4,77.3 133.5,77.3 133.7,77.3 133.8,77.3 134.0,77.3 134.1,77.3 134.2,77.3 134.4,77.3 134.5,77.3 134.7,77.3 134.8,77.3 135.0,77.3 135.1,77.3 135.3,77.3 135.4,77.3 135.6,77.3 135.7,77.3 135.8,77.3 136.0,77.3 136.1,77.3 136.3,77.3 136.4,77.3 136.6,77.3 136.7,77.3 136.9,77.3 137.0,77.3 137.2,77.3 137.3,77.3 137.4,77.3 137.6,77.3 137.7,77.3 137.9,77.3 138.0,77.3 138.2,77.3 138.3,77.3 138.5,77.3 138.6,77.3 138.8,77.3 138.9,77.3 139.1,77.3 139.2,77.3 139.3,77.3 139.5,77.3 139.6,77.3 139.8,77.3 139.9,77.3 140.1,77.3 140.2,77.3 140.4,77.3 140.5,77.3 140.7,77.3 140.8,77.3 140.9,77.3 141.1,77.3 141.2,77.3 141.4,77.3 141.5,77.3 141.7,77.3 141.8,77.3 142.0,77.3 142.1,77.3 142.3,77.3 142.4,77.3 142.5,77.3 142.7,77.3 142.8,77.3 143.0,77.3 143.1,77.3 143.3,77.3 143.4,77.3 143.6,77.3 143.7,77.3 143.9,77.3 144.0,77.3 144.1,77.3 144.3,77.3 144.4,77.3 144.6,77.3 144.7,77.3 144.9,77.3 145.0,77.3 145.2,77.3 145.3,77.3 145.5,77.3 145.6,77.3 145.7,77.3 145.9,77.3 146.0,77.3 146.2,77.3 146.3,77.3 146.5,77.3 146.6,77.3 146.8,77.3 146.9,77.3 147.1,77.3 147.2,77.3 147.4,77.3 147.5,77.3 147.6,77.3 147.8,77.3 147.9,77.3 148.1,77.3 148.2,77.3 148.4,77.3 148.5,77.3 148.7,77.3 148.8,77.3 149.0,77.3 149.1,77.3 149.2,77.3 149.4,77.3 149.5,77.3 149.7,77.3 149.8,77.3 150.0,77.3 150.1,77.3 150.3,77.3 150.4,77.3 150.6,77.3 150.7,77.3 150.8,77.3 151.0,77.3 151.1,77.3 151.3,77.3 151.4,77.3 151.6,77.3 151.7,77.3 151.9,77.3 152.0,77.3 152.2,77.3 152.3,77.3 152.4,77.3 152.6,77.3 152.7,77.3 152.9,77.3 153.0,77.3 153.2,77.3 153.3,77.3 153.5,77.3 153.6,77.3 153.8,77.3 153.9,77.3 154.0,77.3 154.2,77.3 154.3,77.3 154.5,77.3 154.6,77.3 154.8,77.3 154.9,77.3 155.1,77.3 155.2,77.3 155.4,77.3 155.5,77.3 155.6,77.3 155.8,77.3 155.9,77.3 156.1,77.3 156.2,77.3 156.4,77.3 156.5,77.3 156.7,77.3 156.8,77.3 157.0,77.3 157.1,77.3 157.3,77.3 157.4,77.3 157.5,77.3 157.7,77.3 157.8,77.3 158.0,77.3 158.1,77.3 158.3,77.3 158.4,77.3 158.6,77.3 158.7,77.3 158.9,77.3 159.0,77.3 159.1,77.3 159.3,77.3 159.4,77.3 159.6,77.3 159.7,77.3 159.9,77.3 160.0,77.3 160.2,77.3 160.3,77.3 160.5,77.3 160.6,77.3 160.7,77.3 160.9,77.3 161.0,77.3 161.2,77.3 161.3,77.3 161.5,77.3 161.6,77.3 161.8,77.3 161.9,77.3 162.1,77.3 162.2,77.3 162.3,77.3 162.5,77.3 162.6,77.3 162.8,77.3 162.9,77.3 163.1,77.3 163.2,77.3 163.4,77.3 163.5,77.3 163.7,77.3 163.8,77.3 163.9,77.3 164.1,77.3 164.2,77.3 164.4,77.3 164.5,77.3 164.7,77.3 164.8,77.3 165.0,77.3 165.1,77.3 165.3,77.3 165.4,77.3 165.6,77.3 165.7,77.3 165.8,77.3 166.0,77.3 166.1,77.3 166.3,77.3 166.4,77.3 166.6,77.3 166.7,77.3 166.9,77.3 167.0,77.3 167.2,77.3 167.3,77.3 167.4,77.3 167.6,77.3 167.7,77.3 167.9,77.3 168.0,77.3 168.2,77.3 168.3,77.3 168.5,77.3 168.6,77.3 168.8,77.3 168.9,77.3 169.0,77.3 169.2,77.3 169.3,77.3 169.5,77.3 169.6,77.3 169.8,77.3 169.9,77.3 170.1,77.3 170.2,77.3 170.4,77.3 170.5,77.3 170.6,77.3 170.8,77.3 170.9,77.3 171.1,77.3 171.2,77.3 171.4,77.3 171.5,77.3 171.7,77.3 171.8,77.3 172.0,77.3 172.1,77.3 172.2,77.3 172.4,77.3 172.5,77.3 172.7,77.3 172.8,77.3 173.0,77.3 173.1,77.3 173.3,77.3 173.4,77.3 173.6,77.3 173.7,77.3 173.8,77.3 174.0,77.3 174.1,77.3 174.3,77.3 174.4,77.3 174.6,77.3 174.7,77.3 174.9,77.3 175.0,77.3 175.2,77.3 175.3,77.3 175.5,77.3 175.6,77.3 175.7,77.3 175.9,77.3 176.0,77.3 176.2,77.3 176.3,77.3 176.5,77.3 176.6,77.3 176.8,77.3 176.9,77.3 177.1,77.3 177.2,77.3 177.3,77.3 177.5,77.3 177.6,77.3 177.8,77.3 177.9,77.3 178.1,77.3 178.2,77.3 178.4,77.3 178.5,77.3 178.7,77.3 178.8,77.3 178.9,77.3 179.1,77.3 179.2,77.3 179.4,77.3 179.5,77.3 179.7,77.3 179.8,77.3 180.0,77.3 180.1,77.3 180.3,77.3 180.4,77.3 180.5,77.3 180.7,77.3 180.8,77.3 181.0,77.3 181.1,77.3 181.3,77.3 181.4,77.3 181.6,77.3 181.7,77.3 181.9,77.3 182.0,77.3 182.1,77.3 182.3,77.3 182.4,77.3 182.6,77.3 182.7,77.3 182.9,77.3 183.0,77.3 183.2,77.3 183.3,77.3 183.5,77.3 183.6,77.3 183.8,77.3 183.9,77.3 184.0,77.3 184.2,77.3 184.3,77.3 184.5,77.3 184.6,77.3 184.8,77.3 184.9,77.3 185.1,77.3 185.2,77.3 185.4,77.3 185.5,77.3 185.6,77.3 185.8,77.3 185.9,77.3 186.1,77.3 186.2,77.3 186.4,77.3 186.5,77.3 186.7,77.3 186.8,77.3 187.0,77.3 187.1,77.3 187.2,77.3 187.4,77.3 187.5,77.3 187.7,77.3 187.8,77.3 188.0,77.3 188.1,77.3 188.3,77.3 188.4,77.3 188.6,77.3 188.7,77.3 188.8,77.3 189.0,77.3 189.1,77.3 189.3,77.3 189.4,77.3 189.6,77.3 189.7,77.3 189.9,77.3 190.0,77.3 190.2,77.3 190.3,77.3 190.4,77.3 190.6,77.3 190.7,77.3 190.9,77.3 191.0,77.3 191.2,77.3 191.3,77.3 191.5,77.3 191.6,77.3 191.8,77.3 191.9,77.3 192.0,77.3 192.2,77.3 192.3,77.3 192.5,77.3 192.6,77.3 192.8,77.3 192.9,77.3 193.1,77.3 193.2,77.3 193.4,77.3 193.5,77.3 193.7,77.3 193.8,77.3 193.9,77.3 194.1,77.3 194.2,77.3 194.4,77.3 194.5,77.3 194.7,77.3 194.8,77.3 195.0,77.3 195.1,77.3 195.3,77.3 195.4,77.3 195.5,77.3 195.7,77.3 195.8,77.3 196.0,77.3 196.1,77.3 196.3,77.3 196.4,77.3 196.6,77.3 196.7,77.3 196.9,77.3 197.0,77.3" fill="none" stroke="#6aa5dc" stroke-width="0.7" stroke-linejoin="round"/>
<path d="M46.3 196.4V306.8" fill="none" stroke="#999" stroke-width="1"/>
<path d="M46.3 196.4H201.7" fill="none" stroke="#c8c8c8" stroke-width="1"/>
<path d="M46.3 306.8H201.7" fill="none" stroke="#d8d8d8" stroke-width="1"/>
<path d="M201.7 196.4V306.8" fill="none" stroke="#d0d0d0" stroke-width="1"/>
<path d="M46.3 306.8v-1.5M46.3 196.4v1.5M76.7 306.8v-1.5M76.7 196.4v1.5M107.1 306.8v-1.5M107.1 196.4v1.5M137.4 306.8v-1.5M137.4 196.4v1.5M167.8 306.8v-1.5M167.8 196.4v1.5M198.2 306.8v-1.5M198.2 196.4v1.5M46.3 196.4h1.5M201.7 196.4h-1.5M46.3 224.0h1.5M201.7 224.0h-1.5M46.3 251.6h1.5M201.7 251.6h-1.5M46.3 279.2h1.5M201.7 279.2h-1.5M46.3 306.8h1.5M201.7 306.8h-1.5" fill="none" stroke="#8a8a8a" stroke-width="0.6"/>
<polyline points="46.3,251.6 46.5,250.4 46.6,252.8 46.8,254.4 46.9,253.6 47.1,255.1 47.2,251.2 47.4,247.2 47.5,253.0 47.7,254.0 47.8,250.0 48.0,249.9 48.1,251.6 48.3,254.9 48.4,251.3 48.6,250.0 48.7,255.3 48.9,254.6 49.0,257.2 49.2,257.6 49.3,257.0 49.5,253.7 49.6,255.0 49.8,251.8 49.9,249.9 50.1,253.4 50.2,259.6 50.4,254.6 50.6,250.8 50.7,252.2 50.9,256.2 51.0,253.9 51.2,255.2 51.3,253.9 51.5,248.6 51.6,253.9 51.8,251.9 51.9,248.7 52.1,253.2 52.2,252.6 52.4,250.6 52.5,251.8 52.7,256.0 52.8,250.7 53.0,248.0 53.1,255.7 53.3,249.5 53.4,250.9 53.6,253.5 53.7,244.9 53.9,248.6 54.0,255.7 54.2,251.6 54.4,249.6 54.5,251.7 54.7,249.8 54.8,251.5 55.0,248.9 55.1,247.3 55.3,252.9 55.4,252.0 55.6,252.3 55.7,252.1 55.9,255.1 56.0,254.3 56.2,252.1 56.3,248.1 56.5,247.8 56.6,256.3 56.8,254.0 56.9,250.3 57.1,257.4 57.2,254.6 57.4,251.0 57.5,247.5 57.7,249.0 57.8,252.6 58.0,253.5 58.1,251.7 58.3,247.0 58.5,252.4 58.6,253.0 58.8,250.5 58.9,251.6 59.1,253.0 59.2,254.8 59.4,252.5 59.5,252.4 59.7,247.9 59.8,249.2 60.0,251.2 60.1,250.1 60.3,251.7 60.4,249.1 60.6,250.2 60.7,251.1 60.9,254.7 61.0,251.6 61.2,257.2 61.3,258.9 61.5,253.0 61.6,254.9 61.8,250.4 61.9,244.5 62.1,253.5 62.3,254.7 62.4,250.5 62.6,249.9 62.7,252.3 62.9,252.4 63.0,248.8 63.2,250.1 63.3,255.0 63.5,252.0 63.6,251.9 63.8,254.5 63.9,252.0 64.1,253.4 64.2,249.2 64.4,250.1 64.5,252.0 64.7,252.9 64.8,252.8 65.0,258.6 65.1,255.1 65.3,251.9 65.4,256.9 65.6,251.4 65.7,255.1 65.9,251.2 66.0,253.1 66.2,249.4 66.4,251.3 66.5,256.5 66.7,247.7 66.8,246.1 67.0,251.9 67.1,252.4 67.3,252.9 67.4,253.9 67.6,249.1 67.7,252.2 67.9,252.9 68.0,253.5 68.2,255.0 68.3,254.8 68.5,248.7 68.6,250.7 68.8,249.0 68.9,251.1 69.1,254.1 69.2,253.0 69.4,253.2 69.5,252.1 69.7,252.5 69.8,252.8 70.0,256.9 70.1,253.8 70.3,246.5 70.5,253.2 70.6,256.2 70.8,249.5 70.9,247.5 71.1,255.8 71.2,253.0 71.4,254.0 71.5,257.1 71.7,250.1 71.8,250.5 72.0,252.3 72.1,253.5 72.3,250.9 72.4,252.7 72.6,252.5 72.7,255.9 72.9,255.0 73.0,248.1 73.2,252.2 73.3,251.4 73.5,251.2 73.6,253.6 73.8,252.9 73.9,249.9 74.1,252.1 74.3,252.7 74.4,251.0 74.6,247.8 74.7,248.8 74.9,250.2 75.0,254.0 75.2,256.1 75.3,248.6 75.5,247.9 75.6,252.0 75.8,249.9 75.9,248.7 76.1,248.1 76.2,249.4 76.4,251.5 76.5,248.2 76.7,254.2 76.8,249.8 77.0,249.0 77.1,248.9 77.3,244.5 77.4,246.3 77.6,256.1 77.7,256.9 77.9,249.6 78.0,254.5 78.2,251.9 78.4,248.6 78.5,257.5 78.7,259.1 78.8,251.1 79.0,251.1 79.1,252.6 79.3,251.5 79.4,254.8 79.6,256.8 79.7,252.5 79.9,255.2 80.0,257.0 80.2,250.7 80.3,250.7 80.5,251.1 80.6,254.5 80.8,254.3 80.9,255.3 81.1,254.4 81.2,251.7 81.4,253.4 81.5,251.7 81.7,248.6 81.8,246.3 82.0,254.5 82.1,250.3 82.3,250.4 82.5,252.6 82.6,256.3 82.8,253.4 82.9,249.1 83.1,251.3 83.2,252.0 83.4,252.1 83.5,247.5 83.7,252.1 83.8,258.9 84.0,254.7 84.1,258.5 84.3,263.3 84.4,253.7 84.6,246.7 84.7,251.2 84.9,256.4 85.0,254.3 85.2,248.2 85.3,250.5 85.5,251.7 85.6,251.8 85.8,251.3 85.9,249.1 86.1,249.0 86.3,251.6 86.4,254.2 86.6,251.3 86.7,252.2 86.9,249.4 87.0,255.0 87.2,252.4 87.3,252.1 87.5,255.6 87.6,245.9 87.8,246.2 87.9,253.1 88.1,248.6 88.2,251.1 88.4,259.6 88.5,252.3 88.7,250.5 88.8,252.2 89.0,254.8 89.1,253.3 89.3,251.5 89.4,247.7 89.6,250.5 89.7,250.9 89.9,247.3 90.0,252.0 90.2,254.7 90.4,256.5 90.5,247.3 90.7,247.1 90.8,248.7 91.0,249.1 91.1,251.0 91.3,251.1 91.4,252.3 91.6,252.7 91.7,250.9 91.9,246.7 92.0,249.2 92.2,251.8 92.3,254.1 92.5,253.1 92.6,246.6 92.8,249.2 92.9,251.6 93.1,252.9 93.2,255.6 93.4,251.7 93.5,248.9 93.7,252.4 93.8,253.1 94.0,251.6 94.2,252.2 94.3,256.1 94.5,254.0 94.6,253.1 94.8,249.8 94.9,253.5 95.1,249.9 95.2,246.1 95.4,252.5 95.5,254.0 95.7,250.7 95.8,251.7 96.0,255.3 96.1,249.6 96.3,245.0 96.4,251.5 96.6,253.6 96.7,254.1 96.9,251.2 97.0,256.1 97.2,254.7 97.3,248.2 97.5,253.5 97.6,248.5 97.8,245.6 97.9,250.8 98.1,249.0 98.3,245.2 98.4,251.2 98.6,254.4 98.7,255.8 98.9,251.5 99.0,245.8 99.2,248.1 99.3,254.3 99.5,254.8 99.6,252.5 99.8,250.4 99.9,251.5 100.1,250.3 100.2,249.8 100.4,251.8 100.5,251.0 100.7,249.8 100.8,251.0 101.0,248.2 101.1,244.1 101.3,246.9 101.4,251.2 101.6,254.4 101.7,249.5 101.9,255.6 102.0,254.6 102.2,246.1 102.4,245.6 102.5,249.8 102.7,253.6 102.8,249.9 103.0,249.8 103.1,244.9 103.3,239.2 103.4,245.2 103.6,249.6 103.7,249.7 103.9,245.5 104.0,246.1 104.2,247.7 104.3,244.9 104.5,246.4 104.6,240.3 104.8,237.6 104.9,239.1 105.1,242.3 105.2,239.9 105.4,240.6 105.5,241.4 105.7,240.5 105.8,243.9 106.0,242.8 106.2,235.6 106.3,237.5 106.5,235.6 106.6,233.3 106.8,241.1 106.9,238.8 107.1,233.5 107.2,233.3 107.4,234.8 107.5,230.1 107.7,232.0 107.8,237.3 108.0,235.9 108.1,228.7 108.3,231.3 108.4,236.9 108.6,228.5 108.7,227.4 108.9,227.9 109.0,231.1 109.2,234.0 109.3,233.0 109.5,224.7 109.6,229.3 109.8,228.2 109.9,231.9 110.1,232.8 110.3,237.4 110.4,233.7 110.6,230.0 110.7,236.4 110.9,230.6 111.0,232.2 111.2,237.9 111.3,237.0 111.5,236.4 111.6,236.0 111.8,238.2 111.9,239.5 112.1,238.4 112.2,241.4 112.4,243.2 112.5,238.4 112.7,237.1 112.8,244.4 113.0,241.3 113.1,243.2 113.3,244.3 113.4,240.5 113.6,242.5 113.7,239.6 113.9,244.8 114.1,243.6 114.2,245.1 114.4,247.3 114.5,243.9 114.7,245.7 114.8,244.3 115.0,246.9 115.1,250.3 115.3,248.4 115.4,246.4 115.6,245.7 115.7,249.8 115.9,250.5 116.0,253.2 116.2,248.0 116.3,252.3 116.5,256.5 116.6,249.3 116.8,246.6 116.9,254.7 117.1,254.6 117.2,253.0 117.4,253.9 117.5,249.8 117.7,253.4 117.8,252.8 118.0,249.8 118.2,252.4 118.3,250.7 118.5,253.2 118.6,257.1 118.8,255.9 118.9,246.4 119.1,250.7 119.2,251.6 119.4,250.5 119.5,251.8 119.7,250.0 119.8,245.8 120.0,254.3 120.1,257.5 120.3,255.3 120.4,255.9 120.6,249.1 120.7,248.6 120.9,254.6 121.0,257.5 121.2,251.2 121.3,248.9 121.5,258.9 121.6,252.7 121.8,252.7 121.9,250.1 122.1,253.7 122.3,253.7 122.4,256.5 122.6,255.2 122.7,246.8 122.9,248.5 123.0,252.8 123.2,255.3 123.3,257.8 123.5,253.6 123.6,251.5 123.8,251.7 123.9,252.4 124.1,255.0 124.2,252.4 124.4,251.4 124.5,246.9 124.7,245.1 124.8,251.9 125.0,254.4 125.1,251.9 125.3,253.8 125.4,253.9 125.6,252.7 125.7,254.3 125.9,250.5 126.1,251.2 126.2,251.2 126.4,252.0 126.5,254.5 126.7,254.7 126.8,252.9 127.0,253.2 127.1,250.8 127.3,252.1 127.4,255.6 127.6,252.4 127.7,255.8 127.9,253.8 128.0,253.4 128.2,258.1 128.3,252.2 128.5,250.4 128.6,252.6 128.8,252.8 128.9,253.4 129.1,254.5 129.2,253.4 129.4,252.6 129.5,252.3 129.7,255.0 129.8,251.5 130.0,250.4 130.2,252.9 130.3,252.1 130.5,251.0 130.6,256.1 130.8,251.2 130.9,250.0 131.1,250.7 131.2,250.4 131.4,253.8 131.5,252.5 131.7,249.7 131.8,249.4 132.0,251.7 132.1,256.1 132.3,250.5 132.4,247.0 132.6,247.6 132.7,251.6 132.9,256.4 133.0,248.5 133.2,252.7 133.3,259.5 133.5,251.9 133.6,255.5 133.8,257.6 133.9,252.9 134.1,247.8 134.3,252.3 134.4,251.1 134.6,244.9 134.7,246.2 134.9,251.5 135.0,253.0 135.2,255.7 135.3,254.3 135.5,249.9 135.6,250.5 135.8,250.6 135.9,248.8 136.1,253.6 136.2,252.2 136.4,249.0 136.5,249.2 136.7,247.9 136.8,250.3 137.0,252.4 137.1,250.5 137.3,255.4 137.4,256.9 137.6,250.6 137.7,250.5 137.9,251.8 138.1,256.6 138.2,254.0 138.4,252.9 138.5,255.5 138.7,259.2 138.8,253.3 139.0,248.0 139.1,250.3 139.3,254.1 139.4,250.7 139.6,250.3 139.7,260.1 139.9,253.2 140.0,249.1 140.2,249.1 140.3,245.7 140.5,247.2 140.6,250.7 140.8,250.2 140.9,249.2 141.1,253.0 141.2,252.5 141.4,247.6 141.5,245.3 141.7,251.3 141.8,252.7 142.0,249.8 142.2,248.0 142.3,250.2 142.5,247.9 142.6,253.6 142.8,253.3 142.9,252.0 143.1,248.5 143.2,248.3 143.4,256.6 143.5,255.2 143.7,250.1 143.8,254.4 144.0,256.3 144.1,248.9 144.3,248.7 144.4,251.0 144.6,252.1 144.7,249.3 144.9,251.0 145.0,248.9 145.2,254.2 145.3,254.7 145.5,251.4 145.6,253.5 145.8,249.5 146.0,250.8 146.1,254.3 146.3,252.3 146.4,251.8 146.6,249.2 146.7,253.3 146.9,253.4 147.0,247.3 147.2,243.2 147.3,244.6 147.5,251.4 147.6,250.6 147.8,246.4 147.9,251.7 148.1,255.3 148.2,251.1 148.4,250.0 148.5,254.3 148.7,258.2 148.8,255.9 149.0,250.2 149.1,253.4 149.3,252.9 149.4,250.1 149.6,250.1 149.7,251.9 149.9,250.9 150.1,253.6 150.2,254.2 150.4,254.1 150.5,248.4 150.7,251.2 150.8,254.3 151.0,253.3 151.1,251.6 151.3,250.1 151.4,256.2 151.6,256.6 151.7,251.8 151.9,243.3 152.0,247.4 152.2,252.6 152.3,248.4 152.5,244.7 152.6,252.1 152.8,252.9 152.9,247.7 153.1,248.9 153.2,250.3 153.4,252.4 153.5,245.2 153.7,245.5 153.8,248.7 154.0,250.7 154.2,257.1 154.3,250.9 154.5,251.2 154.6,250.6 154.8,248.6 154.9,253.6 155.1,256.6 155.2,251.5 155.4,253.2 155.5,253.8 155.7,252.6 155.8,254.4 156.0,258.1 156.1,248.9 156.3,249.5 156.4,248.0 156.6,244.4 156.7,251.6 156.9,257.7 157.0,255.4 157.2,255.7 157.3,253.0 157.5,252.5 157.6,257.0 157.8,252.3 158.0,255.4 158.1,251.7 158.3,251.4 158.4,252.8 158.6,252.1 158.7,253.1 158.9,254.3 159.0,257.3 159.2,251.9 159.3,244.8 159.5,244.5 159.6,246.4 159.8,249.9 159.9,252.8 160.1,247.6 160.2,250.8 160.4,252.5 160.5,252.1 160.7,251.8 160.8,252.6 161.0,252.2 161.1,255.7 161.3,252.3 161.4,244.3 161.6,250.9 161.7,253.3 161.9,249.0 162.1,249.5 162.2,255.2 162.4,252.7 162.5,248.0 162.7,251.1 162.8,250.4 163.0,247.2 163.1,252.5 163.3,253.2 163.4,251.4 163.6,248.3 163.7,256.8 163.9,255.6 164.0,252.3 164.2,250.3 164.3,248.0 164.5,248.3 164.6,255.4 164.8,250.4 164.9,252.0 165.1,254.0 165.2,249.8 165.4,255.1 165.5,258.4 165.7,254.0 165.9,256.2 166.0,254.2 166.2,250.6 166.3,249.8 166.5,246.4 166.6,252.2 166.8,257.0 166.9,254.4 167.1,255.1 167.2,255.7 167.4,250.2 167.5,254.3 167.7,257.8 167.8,250.3 168.0,250.9 168.1,251.2 168.3,250.5 168.4,250.0 168.6,250.7 168.7,247.8 168.9,249.8 169.0,249.9 169.2,250.8 169.3,256.0 169.5,253.3 169.6,251.3 169.8,252.3 170.0,255.0 170.1,247.0 170.3,250.2 170.4,256.7 170.6,257.4 170.7,252.7 170.9,252.2 171.0,253.6 171.2,252.2 171.3,252.9 171.5,250.6 171.6,253.2 171.8,252.8 171.9,246.8 172.1,243.8 172.2,253.6 172.4,255.0 172.5,253.0 172.7,250.1 172.8,254.9 173.0,253.8 173.1,251.5 173.3,255.3 173.4,254.8 173.6,253.9 173.7,258.6 173.9,257.3 174.1,253.0 174.2,250.8 174.4,252.7 174.5,257.6 174.7,253.5 174.8,248.8 175.0,249.2 175.1,252.5 175.3,254.0 175.4,250.1 175.6,252.9 175.7,256.6 175.9,253.6 176.0,247.6 176.2,249.3 176.3,249.1 176.5,251.8 176.6,249.3 176.8,253.4 176.9,251.9 177.1,243.1 177.2,248.4 177.4,253.5 177.5,252.3 177.7,249.9 177.9,247.6 178.0,253.3 178.2,257.7 178.3,252.9 178.5,251.6 178.6,250.7 178.8,247.8 178.9,249.3 179.1,249.8 179.2,254.7 179.4,248.9 179.5,244.0 179.7,248.3 179.8,251.5 180.0,249.9 180.1,246.4 180.3,253.8 180.4,253.0 180.6,249.2 180.7,249.6 180.9,252.5 181.0,251.2 181.2,252.1 181.3,251.3 181.5,252.2 181.6,255.6 181.8,251.5 182.0,248.9 182.1,254.7 182.3,252.4 182.4,250.0 182.6,254.1 182.7,252.4 182.9,254.3 183.0,248.3 183.2,242.5 183.3,245.1 183.5,251.6 183.6,249.5 183.8,251.2 183.9,250.3 184.1,247.7 184.2,254.3 184.4,249.9 184.5,250.2 184.7,247.4 184.8,250.6 185.0,254.1 185.1,250.5 185.3,249.2 185.4,251.3 185.6,249.7 185.7,254.1 185.9,258.4 186.1,249.4 186.2,248.2 186.4,251.8 186.5,250.8 186.7,248.4 186.8,252.7 187.0,255.0 187.1,251.0 187.3,249.0 187.4,254.8 187.6,248.7 187.7,253.2 187.9,255.5 188.0,247.6 188.2,251.5 188.3,256.4 188.5,253.2 188.6,247.7 188.8,247.8 188.9,252.8 189.1,250.2 189.2,249.3 189.4,253.4 189.5,250.9 189.7,251.3 189.9,253.7 190.0,253.4 190.2,251.3 190.3,251.4 190.5,253.9 190.6,252.6 190.8,248.2 190.9,250.4 191.1,248.4 191.2,247.9 191.4,248.1 191.5,245.3 191.7,252.4 191.8,250.6 192.0,251.6 192.1,245.2 192.3,245.8 192.4,258.1 192.6,255.6 192.7,249.1 192.9,248.5 193.0,249.3 193.2,251.6 193.3,249.8 193.5,250.0 193.6,250.4 193.8,250.0 194.0,257.3 194.1,251.8 194.3,253.3 194.4,249.4 194.6,252.0 194.7,254.5 194.9,251.0 195.0,254.0 195.2,255.7 195.3,256.6 195.5,252.4 195.6,249.0 195.8,248.8 195.9,251.2 196.1,248.6 196.2,250.9 196.4,252.4 196.5,249.1 196.7,248.2 196.8,252.3 197.0,253.1 197.1,251.5 197.3,252.2 197.4,253.6 197.6,249.3 197.8,251.5 197.9,251.3 198.1,253.7 198.2,250.6 198.4,250.7 198.5,251.9 198.7,245.8 198.8,248.9 199.0,246.0 199.1,247.9 199.3,253.9 199.4,253.0 199.6,250.1 199.7,251.3 199.9,251.2 200.0,253.5 200.2,256.6 200.3,254.3 200.5,257.7 200.6,251.8 200.8,253.1 200.9,254.9 201.1,251.9 201.2,251.1 201.4,256.3 201.5,258.3 201.7,255.3" fill="none" stroke="#0b66b3" stroke-width="0.5" stroke-linejoin="round"/>
<path d="M44.5 372.5V483.0" fill="none" stroke="#999" stroke-width="1"/>
<path d="M44.5 372.5H205.3" fill="none" stroke="#aaa" stroke-width="1"/>
<path d="M44.5 483.0H205.3" fill="none" stroke="#c8c8c8" stroke-width="1"/>
<path d="M205.3 372.5V483.0" fill="none" stroke="#aaa" stroke-width="1"/>
<path d="M44.5 483.0v-1.5M44.5 372.5v1.5M75.9 483.0v-1.5M75.9 372.5v1.5M107.4 483.0v-1.5M107.4 372.5v1.5M138.8 483.0v-1.5M138.8 372.5v1.5M170.2 483.0v-1.5M170.2 372.5v1.5M201.7 483.0v-1.5M201.7 372.5v1.5M44.5 372.5h1.5M205.3 372.5h-1.5M44.5 400.1h1.5M205.3 400.1h-1.5M44.5 427.8h1.5M205.3 427.8h-1.5M44.5 455.4h1.5M205.3 455.4h-1.5M44.5 483.0h1.5M205.3 483.0h-1.5" fill="none" stroke="#8a8a8a" stroke-width="0.6"/>
<polyline points="44.5,431.7 44.7,404.6 44.8,412.1 45.0,432.6 45.1,435.5 45.3,431.6 45.4,424.3 45.6,422.0 45.8,425.2 45.9,445.3 46.1,414.0 46.2,421.8 46.4,422.2 46.5,427.6 46.7,434.4 46.9,420.0 47.0,416.2 47.2,430.6 47.3,429.6 47.5,418.0 47.6,441.1 47.8,448.7 48.0,423.7 48.1,436.6 48.3,456.1 48.4,440.7 48.6,433.7 48.7,445.9 48.9,449.9 49.1,427.0 49.2,414.5 49.4,431.2 49.5,439.0 49.7,421.4 49.8,418.1 50.0,431.2 50.2,420.5 50.3,411.8 50.5,431.4 50.6,438.4 50.8,425.6 50.9,419.5 51.1,416.6 51.3,442.7 51.4,439.3 51.6,440.6 51.7,452.4 51.9,425.7 52.0,422.2 52.2,434.9 52.4,411.2 52.5,412.2 52.7,421.7 52.8,418.0 53.0,418.1 53.1,443.5 53.3,420.3 53.5,420.5 53.6,449.2 53.8,428.8 53.9,425.8 54.1,420.1 54.2,432.5 54.4,427.7 54.6,424.8 54.7,437.1 54.9,423.5 55.0,424.5 55.2,424.8 55.3,432.1 55.5,414.0 55.7,417.7 55.8,429.9 56.0,421.0 56.1,404.1 56.3,407.8 56.4,444.3 56.6,420.5 56.8,415.8 56.9,434.4 57.1,436.4 57.2,415.8 57.4,441.5 57.5,420.7 57.7,411.2 57.9,446.0 58.0,438.1 58.2,442.3 58.3,428.1 58.5,401.3 58.6,402.6 58.8,448.8 59.0,440.7 59.1,414.7 59.3,405.0 59.4,422.2 59.6,437.4 59.7,425.0 59.9,426.1 60.1,432.9 60.2,436.7 60.4,423.2 60.5,423.3 60.7,428.1 60.8,432.1 61.0,446.5 61.2,434.6 61.3,409.7 61.5,432.5 61.6,444.8 61.8,414.1 61.9,413.1 62.1,403.1 62.3,421.2 62.4,438.8 62.6,446.9 62.7,408.1 62.9,391.4 63.0,438.0 63.2,437.7 63.4,420.7 63.5,437.1 63.7,434.2 63.8,432.3 64.0,423.5 64.1,414.6 64.3,423.2 64.5,419.3 64.6,428.5 64.8,427.4 64.9,457.3 65.1,448.3 65.2,419.4 65.4,432.0 65.6,423.3 65.7,416.4 65.9,410.7 66.0,413.6 66.2,414.5 66.3,428.0 66.5,439.2 66.7,437.6 66.8,436.1 67.0,443.2 67.1,437.0 67.3,428.7 67.4,423.0 67.6,435.4 67.8,452.6 67.9,432.4 68.1,421.8 68.2,413.1 68.4,417.9 68.5,439.7 68.7,434.5 68.9,402.6 69.0,413.3 69.2,400.9 69.3,398.8 69.5,435.8 69.6,425.7 69.8,419.0 70.0,419.6 70.1,421.1 70.3,422.3 70.4,428.6 70.6,445.7 70.7,434.9 70.9,434.3 71.1,429.7 71.2,431.9 71.4,420.2 71.5,415.0 71.7,423.3 71.9,422.8 72.0,427.3 72.2,432.7 72.3,432.4 72.5,432.4 72.6,425.4 72.8,422.9 73.0,425.2 73.1,440.7 73.3,420.6 73.4,435.1 73.6,439.9 73.7,431.5 73.9,434.3 74.1,425.3 74.2,434.5 74.4,445.5 74.5,438.1 74.7,410.0 74.8,427.3 75.0,441.4 75.2,435.3 75.3,440.3 75.5,412.0 75.6,442.2 75.8,424.6 75.9,419.7 76.1,447.2 76.3,425.5 76.4,411.5 76.6,421.7 76.7,422.8 76.9,415.4 77.0,422.9 77.2,426.1 77.4,425.4 77.5,423.3 77.7,436.7 77.8,420.1 78.0,432.7 78.1,445.0 78.3,422.2 78.5,402.0 78.6,415.1 78.8,432.7 78.9,420.4 79.1,432.8 79.2,428.3 79.4,431.2 79.6,455.2 79.7,431.7 79.9,437.9 80.0,441.3 80.2,447.5 80.3,451.6 80.5,441.4 80.7,414.2 80.8,405.9 81.0,425.0 81.1,413.4 81.3,431.8 81.4,454.6 81.6,427.1 81.8,420.4 81.9,434.0 82.1,423.7 82.2,418.8 82.4,440.9 82.5,449.2 82.7,431.5 82.9,430.5 83.0,433.6 83.2,411.6 83.3,404.9 83.5,430.7 83.6,419.8 83.8,413.5 84.0,415.5 84.1,414.7 84.3,431.6 84.4,417.8 84.6,397.3 84.7,416.4 84.9,436.0 85.1,419.8 85.2,407.4 85.4,425.6 85.5,430.4 85.7,412.3 85.8,439.4 86.0,424.1 86.2,428.0 86.3,443.0 86.5,411.7 86.6,422.8 86.8,442.9 86.9,421.2 87.1,433.1 87.3,455.4 87.4,439.3 87.6,422.7 87.7,418.8 87.9,425.7 88.0,425.6 88.2,423.5 88.4,427.3 88.5,413.5 88.7,423.8 88.8,423.5 89.0,420.4 89.1,443.4 89.3,437.0 89.5,406.9 89.6,421.8 89.8,431.2 89.9,425.2 90.1,431.0 90.2,428.6 90.4,431.5 90.6,430.8 90.7,443.8 90.9,414.2 91.0,431.8 91.2,451.4 91.3,433.5 91.5,429.9 91.7,427.4 91.8,446.3 92.0,416.1 92.1,383.0 92.3,436.7 92.4,431.7 92.6,425.5 92.8,429.5 92.9,452.2 93.1,444.6 93.2,423.9 93.4,423.4 93.5,407.9 93.7,436.8 93.9,422.6 94.0,389.7 94.2,434.3 94.3,443.6 94.5,428.2 94.6,427.3 94.8,416.4 95.0,425.0 95.1,439.5 95.3,424.7 95.4,387.0 95.6,413.1 95.7,462.3 95.9,437.9 96.1,432.6 96.2,425.7 96.4,424.3 96.5,404.0 96.7,410.2 96.8,417.2 97.0,423.2 97.2,429.5 97.3,421.9 97.5,408.7 97.6,420.6 97.8,430.7 97.9,411.9 98.1,421.4 98.3,431.0 98.4,439.3 98.6,433.3 98.7,442.0 98.9,463.0 99.0,417.4 99.2,416.6 99.4,429.9 99.5,415.4 99.7,415.5 99.8,427.6 100.0,458.6 100.1,434.8 100.3,416.0 100.5,405.5 100.6,398.1 100.8,405.9 100.9,445.2 101.1,455.9 101.2,422.5 101.4,420.7 101.6,417.1 101.7,422.5 101.9,428.0 102.0,442.1 102.2,424.1 102.3,427.6 102.5,421.7 102.7,418.0 102.8,424.4 103.0,421.4 103.1,422.5 103.3,413.1 103.4,414.5 103.6,433.2 103.8,426.9 103.9,401.6 104.1,417.6 104.2,410.4 104.4,412.5 104.5,429.8 104.7,429.4 104.9,419.7 105.0,411.8 105.2,412.8 105.3,432.2 105.5,431.4 105.6,410.6 105.8,401.6 106.0,440.3 106.1,418.1 106.3,414.8 106.4,412.4 106.6,418.4 106.7,407.5 106.9,390.2 107.1,405.6 107.2,404.6 107.4,407.2 107.5,418.6 107.7,404.6 107.8,411.5 108.0,420.4 108.2,411.6 108.3,409.7 108.5,398.1 108.6,409.4 108.8,413.3 108.9,389.2 109.1,389.9 109.3,390.6 109.4,397.4 109.6,408.9 109.7,414.3 109.9,410.6 110.0,393.5 110.2,407.9 110.4,425.5 110.5,414.6 110.7,423.2 110.8,410.4 111.0,424.5 111.1,428.8 111.3,406.7 111.5,412.8 111.6,434.2 111.8,397.6 111.9,385.8 112.1,424.1 112.2,395.1 112.4,416.6 112.6,422.1 112.7,419.4 112.9,431.1 113.0,399.4 113.2,407.2 113.3,425.6 113.5,423.2 113.7,438.3 113.8,421.4 114.0,408.3 114.1,439.3 114.3,429.4 114.4,416.0 114.6,404.3 114.8,401.6 114.9,427.6 115.1,431.8 115.2,416.4 115.4,426.7 115.5,428.0 115.7,406.6 115.9,398.4 116.0,420.9 116.2,423.9 116.3,421.3 116.5,444.9 116.6,434.2 116.8,431.8 117.0,397.1 117.1,411.3 117.3,423.0 117.4,432.5 117.6,459.5 117.7,417.3 117.9,403.4 118.1,435.2 118.2,417.1 118.4,418.2 118.5,446.1 118.7,416.5 118.8,404.8 119.0,425.5 119.2,425.3 119.3,419.6 119.5,446.7 119.6,426.5 119.8,414.9 119.9,440.9 120.1,416.5 120.3,433.5 120.4,454.9 120.6,435.0 120.7,435.1 120.9,430.3 121.0,437.3 121.2,419.6 121.4,432.2 121.5,426.8 121.7,434.6 121.8,432.2 122.0,412.0 122.1,421.5 122.3,437.1 122.5,443.0 122.6,412.7 122.8,416.4 122.9,431.4 123.1,426.5 123.2,440.3 123.4,445.0 123.6,438.9 123.7,422.2 123.9,424.8 124.0,436.9 124.2,418.1 124.3,416.3 124.5,423.5 124.7,414.7 124.8,430.2 125.0,429.4 125.1,423.2 125.3,423.2 125.5,423.1 125.6,437.9 125.8,415.2 125.9,431.4 126.1,436.8 126.2,443.3 126.4,421.7 126.6,408.3 126.7,410.3 126.9,418.3 127.0,448.2 127.2,440.2 127.3,436.1 127.5,438.4 127.7,414.3 127.8,423.3 128.0,427.8 128.1,422.4 128.3,439.3 128.4,443.9 128.6,438.5 128.8,421.9 128.9,422.7 129.1,417.4 129.2,414.7 129.4,445.3 129.5,437.0 129.7,426.4 129.9,446.2 130.0,436.4 130.2,413.4 130.3,409.9 130.5,412.6 130.6,428.0 130.8,428.5 131.0,414.6 131.1,431.4 131.3,423.0 131.4,409.2 131.6,431.6 131.7,438.2 131.9,427.3 132.1,418.4 132.2,422.2 132.4,422.9 132.5,422.4 132.7,449.0 132.8,441.7 133.0,425.6 133.2,440.4 133.3,448.3 133.5,446.4 133.6,439.3 133.8,432.6 133.9,442.1 134.1,422.8 134.3,406.0 134.4,426.1 134.6,411.6 134.7,423.0 134.9,442.0 135.0,436.6 135.2,435.2 135.4,424.0 135.5,438.8 135.7,411.0 135.8,419.6 136.0,456.0 136.1,416.4 136.3,407.9 136.5,432.3 136.6,423.2 136.8,443.1 136.9,434.8 137.1,443.6 137.2,426.5 137.4,451.0 137.6,468.9 137.7,419.0 137.9,398.5 138.0,431.0 138.2,420.3 138.3,422.9 138.5,435.0 138.7,415.1 138.8,408.5 139.0,441.0 139.1,422.0 139.3,423.4 139.4,446.6 139.6,404.3 139.8,402.2 139.9,435.5 140.1,408.3 140.2,423.5 140.4,430.0 140.5,407.9 140.7,422.2 140.9,423.3 141.0,406.8 141.2,406.4 141.3,415.6 141.5,449.9 141.6,446.9 141.8,417.2 142.0,434.4 142.1,432.7 142.3,436.5 142.4,438.2 142.6,438.3 142.7,412.3 142.9,434.7 143.1,436.9 143.2,423.8 143.4,416.4 143.5,442.5 143.7,433.6 143.8,427.4 144.0,421.0 144.2,421.7 144.3,432.5 144.5,426.7 144.6,431.0 144.8,422.5 144.9,428.7 145.1,436.2 145.3,431.5 145.4,417.5 145.6,399.1 145.7,432.0 145.9,423.0 146.0,409.3 146.2,454.1 146.4,456.4 146.5,446.0 146.7,425.3 146.8,397.2 147.0,417.1 147.1,412.9 147.3,429.2 147.5,466.2 147.6,459.8 147.8,413.8 147.9,426.9 148.1,441.3 148.2,419.2 148.4,442.9 148.6,416.0 148.7,403.9 148.9,440.8 149.0,440.6 149.2,422.0 149.3,434.8 149.5,424.5 149.7,437.6 149.8,421.4 150.0,422.1 150.1,438.4 150.3,436.0 150.4,429.9 150.6,449.7 150.8,438.3 150.9,426.4 151.1,425.7 151.2,438.7 151.4,408.3 151.5,429.1 151.7,445.4 151.9,407.6 152.0,402.5 152.2,431.1 152.3,440.2 152.5,428.1 152.6,438.2 152.8,430.8 153.0,407.0 153.1,420.1 153.3,426.1 153.4,423.3 153.6,427.8 153.7,415.6 153.9,414.5 154.1,434.4 154.2,424.0 154.4,394.1 154.5,421.0 154.7,429.0 154.8,399.6 155.0,426.7 155.2,442.3 155.3,421.3 155.5,437.6 155.6,436.9 155.8,422.9 155.9,429.3 156.1,438.1 156.3,438.9 156.4,432.6 156.6,413.4 156.7,438.4 156.9,432.7 157.0,403.6 157.2,429.3 157.4,411.1 157.5,404.8 157.7,432.2 157.8,446.6 158.0,424.0 158.1,414.2 158.3,416.4 158.5,425.6 158.6,408.4 158.8,411.1 158.9,438.1 159.1,412.0 159.2,420.6 159.4,439.3 159.6,430.8 159.7,399.9 159.9,415.1 160.0,450.9 160.2,430.2 160.3,427.4 160.5,430.2 160.7,438.5 160.8,444.0 161.0,420.8 161.1,437.0 161.3,435.8 161.4,436.3 161.6,437.6 161.8,418.0 161.9,421.4 162.1,437.4 162.2,443.0 162.4,432.8 162.5,415.7 162.7,423.6 162.9,425.9 163.0,432.8 163.2,428.4 163.3,430.9 163.5,446.8 163.6,411.5 163.8,434.8 164.0,436.9 164.1,409.9 164.3,422.2 164.4,427.9 164.6,437.3 164.7,450.0 164.9,423.7 165.1,414.6 165.2,434.1 165.4,414.5 165.5,439.8 165.7,439.8 165.8,421.9 166.0,424.7 166.2,420.8 166.3,435.6 166.5,445.9 166.6,453.4 166.8,445.9 166.9,445.1 167.1,447.2 167.3,422.8 167.4,441.7 167.6,449.9 167.7,398.9 167.9,434.2 168.0,449.0 168.2,408.9 168.4,411.0 168.5,442.8 168.7,453.2 168.8,438.4 169.0,414.7 169.1,429.4 169.3,442.6 169.5,424.3 169.6,415.6 169.8,440.9 169.9,441.6 170.1,440.7 170.2,401.6 170.4,396.2 170.6,418.1 170.7,424.1 170.9,425.3 171.0,450.7 171.2,430.9 171.3,442.8 171.5,449.3 171.7,438.2 171.8,432.2 172.0,420.1 172.1,416.1 172.3,426.5 172.4,437.4 172.6,422.9 172.8,424.9 172.9,413.2 173.1,440.1 173.2,469.2 173.4,434.0 173.5,397.2 173.7,419.7 173.9,430.6 174.0,416.1 174.2,418.0 174.3,423.2 174.5,433.7 174.6,427.5 174.8,424.4 175.0,437.6 175.1,443.9 175.3,426.1 175.4,413.5 175.6,416.8 175.7,423.5 175.9,415.7 176.1,394.3 176.2,420.5 176.4,413.4 176.5,399.8 176.7,424.9 176.8,426.1 177.0,410.2 177.2,404.6 177.3,422.0 177.5,421.8 177.6,429.1 177.8,441.7 177.9,414.4 178.1,430.9 178.3,450.8 178.4,433.8 178.6,450.4 178.7,442.5 178.9,431.2 179.1,434.8 179.2,419.4 179.4,442.6 179.5,428.9 179.7,416.1 179.8,407.8 180.0,413.4 180.2,423.5 180.3,428.6 180.5,424.8 180.6,415.5 180.8,432.4 180.9,424.6 181.1,424.3 181.3,429.4 181.4,425.0 181.6,403.0 181.7,430.9 181.9,428.6 182.0,420.9 182.2,419.2 182.4,422.1 182.5,418.3 182.7,418.0 182.8,443.3 183.0,434.6 183.1,439.4 183.3,429.0 183.5,441.6 183.6,444.4 183.8,426.3 183.9,408.2 184.1,419.3 184.2,421.3 184.4,409.0 184.6,440.7 184.7,457.4 184.9,435.8 185.0,431.4 185.2,405.9 185.3,402.9 185.5,438.4 185.7,399.0 185.8,398.0 186.0,420.2 186.1,417.5 186.3,395.9 186.4,423.5 186.6,434.7 186.8,428.3 186.9,443.3 187.1,424.7 187.2,427.1 187.4,421.5 187.5,426.5 187.7,436.1 187.9,417.2 188.0,432.4 188.2,424.6 188.3,441.9 188.5,429.5 188.6,434.6 188.8,429.5 189.0,436.8 189.1,458.8 189.3,445.7 189.4,424.8 189.6,419.6 189.7,448.5 189.9,459.2 190.1,440.8 190.2,429.8 190.4,438.0 190.5,438.0 190.7,417.0 190.8,410.3 191.0,419.8 191.2,438.8 191.3,427.0 191.5,432.2 191.6,445.5 191.8,417.1 191.9,425.6 192.1,433.2 192.3,409.0 192.4,413.9 192.6,416.5 192.7,408.4 192.9,418.1 193.0,445.7 193.2,432.4 193.4,415.3 193.5,435.3 193.7,430.4 193.8,419.2 194.0,407.9 194.1,406.4 194.3,416.7 194.5,427.8 194.6,415.4 194.8,419.9 194.9,428.8 195.1,408.1 195.2,421.7 195.4,434.5 195.6,415.4 195.7,423.7 195.9,426.1 196.0,443.8 196.2,433.5 196.3,435.6 196.5,449.1 196.7,447.7 196.8,403.6 197.0,424.3 197.1,426.0 197.3,412.9 197.4,425.0 197.6,425.7 197.8,442.1 197.9,429.3 198.1,430.6 198.2,421.8 198.4,424.5 198.5,447.8 198.7,456.1 198.9,440.9 199.0,419.2 199.2,418.6 199.3,423.6 199.5,456.9 199.6,466.9 199.8,437.7 200.0,432.3 200.1,436.2 200.3,423.1 200.4,429.7 200.6,445.4 200.7,440.9 200.9,424.6 201.1,429.3 201.2,424.0 201.4,400.4 201.5,425.2 201.7,431.0 201.8,439.2 202.0,434.8 202.2,418.7 202.3,420.4 202.5,428.9 202.6,423.4 202.8,424.2 202.9,460.5 203.1,469.0 203.3,402.0 203.4,408.2 203.6,432.3 203.7,454.6 203.9,441.3 204.0,415.2 204.2,462.0 204.4,437.0 204.5,414.3 204.7,422.2 204.8,423.1 205.0,421.6 205.1,400.3 205.3,436.5" fill="none" stroke="#0b66b3" stroke-width="0.5" stroke-linejoin="round"/>
<rect x="838" y="23" width="150" height="1" fill="#fff" fill-opacity="0.5"/>
<rect x="443" y="202" width="152" height="1" fill="#fff" fill-opacity="0.5"/>
<rect x="645" y="202" width="147" height="1" fill="#fff" fill-opacity="0.5"/>
<rect x="644" y="21" width="146" height="1" fill="#fff" fill-opacity="0.4"/>
<rect x="836" y="202" width="151" height="1" fill="#fff" fill-opacity="0.4"/>
</svg>
<script>
var P=[62,38,168,64,42,180,66,46,192,67,50,203,69,55,213,70,60,222,71,65,229,71,71,235,72,77,240,72,82,244,71,88,248,70,94,251,69,99,253,66,105,254,62,111,255,56,117,254,50,124,252,47,129,250,46,135,247,45,140,243,43,145,239,39,151,235,37,155,232,35,160,229,32,165,227,28,169,223,24,173,219,18,177,214,8,181,208,1,184,202,2,186,195,11,189,189,25,191,182,36,193,174,44,196,167,49,198,159,55,200,151,63,202,142,74,203,132,87,204,122,100,205,111,114,205,100,129,204,89,143,203,78,157,201,67,171,199,57,185,196,49,197,194,42,209,191,39,220,189,41,230,187,45,240,186,54,248,186,61,254,190,60,254,195,56,254,201,52,252,207,48,250,214,45,247,220,42,245,227,39,245,233,36,246,239,32,247,245,27,249,251,21];var D={"a2": "00000000000000000000000000000000000000000000000000000000000111111110000000000000000000000000000000000000000000000000000000000000000000000000000000000000000000000000000000000000000000000000000000000000000000000000001111111110000000000000000000000000000000000000000000000000000000000000000000000000000000000000000000000000000000000000000000000000000000000000000000000000011111111100000000000000000000000000000000000000000000000000000000000000000000000000000000000000000000000000000000000000000000000000000000000000000000000000111111111000000000000000000000000000000000000000000000000000000000000000000000000000000000000000000000000000000000000000000000000000000000000000000000000001111111110000000000000000000000000000000000000000000000000000000000000000000000000000000000000000000000000000000000000000000000000000000000000000000000000011111111100000000000000000000000000000000000000000000000000000000000000000000000000000000000000000000000000000000000000000000000000000000000000000000000000111111111000000000000000000000000000000000000000000000000000000000000000000000000000000000000000000000000000000000000000000000000000000000000000000000000011111111110000000000000000000000000000000000000000000000000000000000000000000000000000000000000000000000000000000000000000000000000000000000000000000000000111111111100000000000000000000000000000000000000000000000000000000000000000000000000000000000000000000000000000000000000000000000000000000000000000000000001111111111100000000000000000000000000000000000000000000000000000000000000000000000000000000000000000000000000000000000000000000000000000000000000000000000011111111111000000000000000000000000000000000000000000000000000000000000000000000000000000000000000000000000000000000000000000000000000000000000000000000000111111111110000000000000000000000000000000000000000000000000000000000000000000000000000000000000000000000000000000000000000000000000000000000000000000000001111111111100000000000000000000000000000000000000000000000000000000000000000000000000000000000000000000000000000000000000000000000000000000000000000000000011112211111000000000000000000000000000000000000000000000000000000000000000000000000000000000000000000000000000000000000000000000000000000000000000000000000111122211110000000000000000000000000000000000000000000000000000000000000000000000000000000000000000000000000000000000000000000000000000000000000000000000001111222111100000000000000000000000000000000000000000000000000000000000000000000000000000000000000000000000000000000000000000000000000000000000000000000000011122221111000000000000000000000000000000000000000000000000000000000000000000000000000000000000000000000000000000000000000000000000000000000000000000000001111222221110000000000000000000000000000000000000000000000000000000000000000000000000000000000000000000000000000000000000000000000000000000000000000000000011112222211110000000000000000000000000000000000000000000000000000000000000000000000000000000000000000000000000000000000000000000000000000000000000000000000111122222111100000000000000000000000000000000000000000000000000000000000000000000000000000000000000000000000000000000000000000000000000000000000000000000001112222221111000000000000000000000000000000000000000000000000000000000000000000000000000000000000000000000000000000000000000000000000000000000000000000000011122222211110000000000000000000000000000000000000000000000000000000000000000000000000000000000000000000000000000000000000000000000000000000000000000000000111222222211100000000000000000000000000000000000000000000000000000000000000000000000000000000000000000000000000000000000000000000000000000000000000000000001112222222111000000000000000000000000000000000000000000000000000000000000000000000000000000000000000000000000000000000000000000000000000000000000000000000011122222221110000000000000000000000000000000000000000000000000000000000000000000000000000000000000000000000000000000000000000000000000000000000000000000000111222222211100000000000000000000000000000000000000000000000000000000000000000000000000000000000000000000000000000000000000000000000000000000000000000000011122223222111000000000000000000000000000000000000000000000000000000000000000000000000000000000000000000000000000000000000000000000000000000000000000000000111222333222111000000000000000000000000000000000000000000000000000000000000000000000000000000000000000000000000000000000000000000000000000000000000000000001112223332221110000000000000000000000000000000000000000000000000000000000000000000000000000000000000000000000000000000000000000000000000000000000000000000011122333322211100000000000000000000000000000000000000000000000000000000000000000000000000000000000000000000000000000000000000000000000000000000000000000000111223333322111000000000000000000000000000000000000000000000000000000000000000000000000000000000000000000000000000000000000000000000000000000000000000000001112233333221110000000000000000000000000000000000000000000000000000000000000000000000000000000000000000000000000000000000000000000000000000000000000000000011223333332211100000000000000000000000000000000000000000000000000000000000000000000000000000000000000000000000000000000000000000000000000000000000000000000112233333332211000000000000000000000000000000000000000000000000000000000000000000000000000000000000000000000000000000000000000000000000000000000000000000011122333433322110000000000000000000000000000000000000000000000000000000000000000000000000000000000000000000000000000000000000000000000000000000000000000000111223344433221110000000000000000000000000000000000000000000000000000000000000000000000000000000000000000000000000000000000000000000000000000000000000000001112233444332211100000000000000000000000000000000000000000000000000000000000000000000000000000000000000000000000000000000000000000000000000000000000000000011123344444322111000000000000000000000000000000000000000000000000000000000000000000000000000000000000000000000000000000000000000000000000000000000000000000112233444443321110000000000000000000000000000000000000000000000000000000000000000000000000000000000000000000000000000000000000000000000000000000000000000001122334444433211100000000000000000000000000000000000000000000000000000000000000000000000000000000000000000000000000000000000000000000000000000000000000000011223444544332211000000000000000000000000000000000000000000000000000000000000000000000000000000000000000000000000000000000000000000000000000000000000000001112234455544322110000000000000000000000000000000000000000000000000000000000000000000000000000000000000000000000000000000000000000000000000000000000000000011123344555443221100000000000000000000000000000000000000000000000000000000000000000000000000000000000000000000000000000000000000000000000000000000000000000111233455555433211100000000000000000000000000000000000000000000000000000000000000000000000000000000000000000000000000000000000000000000000000000000000000001112344555554332111000000000000000000000000000000000000000000000000000000000000000000000000000000000000000000000000000000000000000000000000000000000000000011223445565544321110000000000000000000000000000000000000000000000000000000000000000000000000000000000000000000000000000000000000000000000000000000000000000112234556665543221100000000000000000000000000000000000000000000000000000000000000000000000000000000000000000000000000000000000000000000000000000000000000001122345666655432211000000000000000000000000000000000000000000000000000000000000000000000000000000000000000000000000000000000000000000000000000000000000000111233456666654322110000000000000000000000000000000000000000000000000000000000000000000000000000000000000000000000000000000000000000000000000000000000000001112345566766543321110000000000000000000000000000000000000000000000000000000000000000000000000000000000000000000000000000000000000000000000000000000000000011223456677765543211100000000000000000000000000000000000000000000000000000000000000000000000000000000000000000000000000000000000000000000000000000000000000112234567777665432111000000000000000000000000000000000000000000000000000000000000000000000000000000000000000000000000000000000000000000000000000000000000001122345677777654322110000000000000000000000000000000000000000000000000000000000000000000000000000000000000000000000000000000000000000000000000000000000000111234456788876543221100000000000000000000000000000000000000000000000000000000000000000000000000000000000000000000000000000000000000000000000000000000000001112345677888776543211100000000000000000000000000000000000000000000000000000000000000000000000000000000000000000000000000000000000000000000000000000000000011123456788888765432111000000000000000000000000000000000000000000000000000000000000000000000000000000000000000000000000000000000000000000000000000000000000112234567899987654321110000000000000000000000000000000000000000000000000000000000000000000000000000000000000000000000000000000000000000000000000000000000001122346789999876543221100000000000000000000000000000000000000000000000000000000000000000000000000000000000000000000000000000000000000000000000000000000000111234567899A998764322110000000000000000000000000000000000000000000000000000000000000000000000000000000000000000000000000000000000000000000000000000000000011123456789AAA9876543211100000000000000000000000000000000000000000000000000000000000000000000000000000000000000000000000000000000000000000000000000000000001122345789AAAAA976543211100000000000000000000000000000000000000000000000000000000000000000000000000000000000000000000000000000000000000000000000000000000001122346789ABBBA98754322110000000000000000000000000000000000000000000000000000000000000000000000000000000000000000000000000000000000000000000000000000000001112345679ABBBBA98764322110000000000000000000000000000000000000000000000000000000000000000000000000000000000000000000000000000000000000000000000000000000001112345689ABCCCBA9765432111000000000000000000000000000000000000000000000000000000000000000000000000000000000000000000000000000000000000000000000000000000001122345789BCCCCBA986543211100000000000000000000000000000000000000000000000000000000000000000000000000000000000000000000000000000000000000000000000000000000112234679ABCDDDCBA87543221100000000000000000000000000000000000000000000000000000000000000000000000000000000000000000000000000000000000000000000000000000001112345689BCDDEDDCA9765322111000000000000000000000000000000000000000000000000000000000000000000000000000000000000000000000000000000000000000000000000000000111234578ABCDEEEDCB9865432111000000000000000000000000000000000000000000000000000000000000000000000000000000000000000000000000000000000000000000000000000000112234679ACDEFFFEDBA875432211000000000000000000000000000000000000000000000000000000000000000000000000000000000000000000000000000000000000000000000000000001112345689BCEFFFFEDCA97643221110000000000000000000000000000000000000000000000000000000000000000000000000000000000000000000000000000000000000000000000000000111234578ABDEFGGGFEDB98654321110000000000000000000000000000000000000000000000000000000000000000000000000000000000000000000000000000000000000000000000000000112234679ACEFGHHHGFDCA8754322110000000000000000000000000000000000000000000000000000000000000000000000000000000000000000000000000000000000000000000000000001112345689BDEGHHIHHGECB976432211100000000000000000000000000000000000000000000000000000000000000000000000000000000000000000000000000000000000000000000000000112234578ACEFHIIIIHGFDBA86543211100000000000000000000000000000000000000000000000000000000000000000000000000000000000000000000000000000000000000000000000001112234679BDEGHIJJJIHGECA9754322111000000000000000000000000000000000000000000000000000000000000000000000000000000000000000000000000000000000000000000000000111234568ABDFHIJKKKJIGFDB9865432111000000000000000000000000000000000000000000000000000000000000000000000000000000000000000000000000000000000000000000000001112234579ACEGIJKLLLKJHGECA875432211100000000000000000000000000000000000000000000000000000000000000000000000000000000000000000000000000000000000000000000001112345689BDFHJKLMMMLKIHFDB97643321110000000000000000000000000000000000000000000000000000000000000000000000000000000000000000000000000000000000000000000001112234578ACEGIKLMNNNMLJIGECA8654322111000000000000000000000000000000000000000000000000000000000000000000000000000000000000000000000000000000000000000000001112345679BDFHJLMNOOONMKJHFDB976433211100000000000000000000000000000000000000000000000000000000000000000000000000000000000000000000000000000000000000000001112234578ACEGIKMNOPPPONMKIGECA86543221110000000000000000000000000000000000000000000000000000000000000000000000000000000000000000000000000000000000000000011122345679BDFHJLNPQQQQPONLJHFDB9764332111000000000000000000000000000000000000000000000000000000000000000000000000000000000000000000000000000000000000000001112234578ACEGJLNOQRRSRRQOMKIGECA875432211100000000000000000000000000000000000000000000000000000000000000000000000000000000000000000000000000000000000000011122345689BDFIKMOQRSTTTSRPOMJHFDB97654322111000000000000000000000000000000000000000000000000000000000000000000000000000000000000000000000000000000000000011122345679BCFHJLNPRSUUUUTSRPNLJGECA875433211110000000000000000000000000000000000000000000000000000000000000000000000000000000000000000000000000000000000011112334578ACEGILNPRTUVWWWVUSQOMKIGDBA86543221111000000000000000000000000000000000000000000000000000000000000000000000000000000000000000000000000000000000111122345689BDFIKMORTUWXXXXWVUSQOMJHFDB9765432211110000000000000000000000000000000000000000000000000000000000000000000000000000000000000000000000000000000111122345679BDFHJMOQSUWXYZZZYXWUSQNLJGECA97654322111100000000000000000000000000000000000000000000000000000000000000000000000000000000000000000000000000000111122345679ACEGJLNQSUWYZabbbaZXWUSPNLIGECA876543221111000000000000000000000000000000000000000000000000000000000000000000000000000000000000000000000000000111122345679ACEGILNPSUWYabcddccbZYWURPNKIGECA8765432211110000000000000000000000000000000000000000000000000000000000000000000000000000000000000000000000001111222345679ACEGIKNPSUWYacdeffeedbaYWURPMKIFDBA87654322111100000000000000000000000000000000000000000000000000000000000000000000000000000000000000000000001111223345679ACEGIKNPSUWZbcefghhhgfecaYWTRPMKHFDBA876543322111100000000000000000000000000000000000000000000000000000000000000000000000000000000000000000011111223345679ACEGIKNPSUWZbdfghijjjihgedbYWURPMKIFDCA8765433221111000000000000000000000000000000000000000000000000000000000000000000000000000000000000000011112233456789BCEGIKNPSUXZbdfhikklllkjihfdbYWURPMKIGECA9865443222111100000000000000000000000000000000000000000000000000000000000000000000000000000000000011112223345678ABDFHJLNPSUXZcegijlmnnnnmmkjhfdbZWURPNKIGECB98765433221111100000000000000000000000000000000000000000000000000000000000000000000000000000000111122233456789ACDFHJLOQSVXacegikmnoppppponlkigecZXUSQNLJHFDBA9765543322111110000000000000000000000000000000000000000000000000000000000000000000000000001111122233455678ABDEGIKMPRTWYadfhjlnoqrrsssrqponljhfcaYVTQOMKIGECB9876544332211111100000000000000000000000000000000000000000000000000000000000000000000001111122233455678ABCEGHJLNQSUXZbegikmoqrstuuuuutsrpomkigdbZWURPNLJHFECB987654433222111110000000000000000000000000000000000000000000000000000000000000000111111222334456678ABCEFHJLNPRTWYadfhjmoprtuvwwxxxwwvusrpnljhfcaYVTROMKIHFDCB98765543332221111100000000000000000000000000000000000000000000000000000000001111112223334556789ABCEFHJKMOQSVXZbegikmoqstuwxxyyyyyxwvutrqomkifdbZWUSQOMKIHFDCBA987654433222211111100000000000000000000000000000000000000000000000000111111122233344566789ABDEFHJKMOQSUWYacegikmoqstvwxyyzzzzzyxxvutrqomkigecaXVTRPNMKIHFECBA9876654433222211111100000000000000000000000000000000000000000001111111222233445566789ABCDFGHJKMOQSTVXZbdfhjlnpqstvwxyzz+++++zyyxwutsqonljhfdbZXVTRPOMKJHGEDCBA9876654433322221111111000000000000000000000000000000000011111112222333445567789ABCDEFHIKLNOQSTVXZbdfgikmoprsuvwxyz+++///++zzyxwvtsqpnlkigecaZXVTRQOMLJIGFEDCBA9876655443332222111111100000000000000000000000000000111122223334455667889ABCDEFGIJKMNPQSTVXYacefhjkmnpqstuvwxyzz+++++++zzyxwvutsqpnmkihfdcaYWVTRQONLKJHGFEDCBA988766554433322221111111110000000000000000000000022233344455667889ABBCDEFGIJKLNOPRSUVXYabdeghjkmnpqrstuvwxyyzzzzzzzzyyxxwvutsrqonmkjhgedbZYWVTSQPOMLKJHGFEDCBAA988766554443332222211111111100000000000000000444556677889AABCDDEFGHIJLMNOPRSTVWXZabdeghiklmnoqrsttuvwwxxyyyyyyyyyxxwwvutsrqponmljihfedbaYXWUTSQPONLKJIHGFEDCCBA998776655544433322222111111111100000000006778899ABBCDDEFGHIJKLMNOPQRSUVWXYabcdeghijklmnopqrstuuvvwwxxxxxxxxxxxwwvvuttsrqponmlkjihfedcbZYXWVTSRQPONMLKJIHGFEDDCBAA99887766555444333322222211111111111ABBCCDEEFGHIIJKLMNOPQRSTUVWXYZabcdefghijklmnoppqrssttuuvvwwwwwwxwwwwwwvvuuttssrqpponmlkjihgfedcbaZYXWVUTSRQPONMLKJIHHGFEEDCCBAA9988777665554444333322222221FFGHHIJKKLMNNOPQRSSTUVWXYYZabcdeffghijjklmmnooppqqrrsssttttuuuuuuuuuttttsssrrqqpponnmllkjiihgfeedcbaZYXXWVUTSRRQPONMMLKJJIHHGFFEDDCCBBAA9988877666555544443KKLMMNNOPPQRRSTTUVVWXYYZaabbcddeffgghiijjkkkllmmmnnnoooopppppppppppppppoooonnnmmmllkkjjiihhggffeddcbbaZZYXXWVVUTTSRRQPPONNMLLKKJIIHHGGFFEEDDCCBBAAA99988877JJKKLMMNNOPPQQRSSTTUVVWWXYYZZaabccddeefffgghhhiiijjjkkkkkklllllllllllkkkkkjjjjiiihhhggffeeeddcbbaaZZYXXWWVVUTTSRRQQPOONNMMLKKJJIIHHGGFFEEDDCCBBBAAA99888877HHIIJJKKLLMMNNOPPQQRRSSTTUUVVWWXXYYZZaabbbcccdddeeeefffffffgggggggggfffffffeeeedddcccbbaaaZZYYXXWWVVUUTTSSRRQQPOONNMMLLKKJJIIHHGGFFEEDDDCCBBBAAA99988877766", "a3": "000000000000000000000000000000000000000000000000000000000000000000000000000000000000000000000000000000000000000000000000000000000000000000000000000000000000000000000000000000000000000000000000000000000000000000000000000000000000000000000000000000000000000000000000000000000000000000000000000000000000000000000000000000000000000000000000000000000000000000000000000000000000000000000000000000000000000000000000000000000000000000000000000000000000000000000000000000000000000000000000000000000000000000000000000000000000000000000000000000000000000000000000000000000000000000000000000000000000000000000000000000000000000000000000000000000000000000000000000000000000000000000000000000000000000000000000000000000000000000000000000000000000000000000000000000000000000000000000000000000000000000000000000000000000000000000000000000000000000000000000000000000000000000000000000000000000000000000000000000000000000000000000000000000000000000000000000000000000000000000000000000000000000000000000000000000000000000000000000000000000000000000000000000000000000000000000000000000000000000000000000000000000000000000000000000000000000000000000000000000000000000000000000000000000000000000000000000000000000000000000000000000000000000000000000000000000000000000000000000000000000000000000000000000000000000000000000000000000000000000000000000000000000000000000000000000000000000000000000000000000000000000000000000000000000000000000000000000000000000000000000000000000000000000000000000000000000000000000000000000000000000000000000000000000000000000000000000000000000000000000000000000000000000000000000000000000000000000000000000000000000000000000000000000000000000000000000000000000000000000000000000000000000000000000000000000000000000000000000000000000000000000000000000000000000000000000000000000000000000000000000000000000000000000000000000000000000000000000000000000000000000000000000000000000000000000000000000000000000000000000000000000000000000000000000000000000000000000000000000000000000000000000000000000000000000000000000000000000000000000000000000000000000000000000000000000000000000000000000000000000000000000000000000000000000000000000000000000000000000000000000000000000000000000000000000000000000000000000000000000000000000000000000000000000000000000000000000000000000000000000000000000000000000000000000000000000000000000000000000000000000000000000000000000000000000000000000000000000000000000000000000000000000000000000000000000000000000000000000000000000000000000000000000000000000000000000000000000000000000000000000000000000000000000000000000000000000000000000000000000000000000000000000000000000000000000000000000000000000000000000000000000000000000000000000000000000000000000000000000000000000000000000000000000000000000000000000000000000000000000000000000000000000000000000000000000000000000000000000000000000000000000000000000000000000000000000000000000000000000000000000000000000000000000000000000000000000000000000000000000000000000000000000000000000000000000000000000000000000000000000000000000000000000000000000000000000000000000000000000000000000000000000000000000000000000000000000000000000000000000000000000000000000000000000000000000000000000000000000000000000000000000000000000000000000000000000000000000000000000000000000000000000000000000000000000000000000000000000000000000000000000000000000000000000000000000000000000000000000000000000000000000000000000000000000000000000000000000000000000000000000000000000000000000000000000000000000000000000000000000000000000000000000000000000000000000000000000000000000000000000000000000000000000000000000000000000000000000000000000000000000000000000000000000000000000000000000000000000000000000000000000000000000000000000000000000000000000000000000000000000000000000000000000000000000000000000000000000000000000000000000000000000000000000000000000000000000000000000000000000000000000000000000000000000000000000000000000000000000000000000000000000000000000000000000000000000000000000000000000000000000000000000000000000000000000000000000000000000000000000000000000000000000000000000000000000000000000000000000000000000000000000000000000000000000000000000000000000000000000000000000000000000000000000000000000000000000000000000000000000000000000000000000000000000000000000000000000000000000000000000000000000000000000000000000000000000000000000000000000000000000000000000000000000000000000000000000000000000000000000000000000000000000000000000000000000000000000000000000000000000000000000000000000000000000000000000000000000000000000000000000000000000000000000000000000000000000000000000000000000000000000000000000000000000000000000000000000000000000000000000000000000000000000000000000000000000000000000000000000000000000000000000000000000000000000000000000000000000000000000000000000000000000000000000000000000000000000000000000000000000000000000000000000000000000000000000000000000000000000000000000000000000000000000000000000000000000000000000000000000000000000000000000000000000000000000000000000000000000000000000000000000000000000000000000000000000000000000000000000000000000000000000000000000000000000000000000000000000000000000000000000000000000000000000000000000000000000000000000000000000000000000000000000000000000000000000000000000000000000000000000000000000000000000000000000000000000000000000000000000000000000000000000000000000000000000000000000000000000000000000000000000000000000000000000000000000000000000000000000000000000000000000000000000000000000000000000000000000000000000000000000000000000000000000000000000000000000000000000000000000000000000000000000000000000000000000000000000000000000000000000000000000000000000000000000000000000000000000000000000000000000000000000000000000000000000000000000000000000000000000000000000000000000000000000000000000000000000000000000000000000000000000000000000000000000000000000000000000000000000000000000000000000000000000000000000000000000000000000000000000000000000000000000000000000000000000000000000000000000000000000000000000000000000000000000000000000000000000000000000000000000000000000000000000000000000000000000000000000000000000000000000000000000000000000000000000000000000000000000000000000000000000000000000000000000000000000000000000000000000000000000000000000000000000000000000000000000000000000000000000000000000000000000000000000000000000000000000000000000000000000000000000000000000000000000000000000000000000000000000000000000000000000000000000000000000000000000000000000000000000000000000000000000000000000000000000000000000000000000000000000000000000000000000000000000000000000000000000000000000000000000000000000000000000000000000000000000000000000000000000000000000000000000000000000000000000000000000000000000000000000000000000000000000000000000000000000000000000000000000000000000000000000000000000000000000000000000000000000000000000000000000000000000000000000000000000000000000000000000000000000000000000000000000000000000000000000000000000000000000000000000000000000000000000000000000000000000000000000000000000000000000000000000000000000000000000000000000000000000000000000000000000000000000000000000000000000000000000000000000000000000000000000000000000000000000000000000000000000000000000000000000000000000000000000000000000000000000000000000000000000000000000000000000000000000000000000000000000000000000000000000000000000000000000000000000000000000000000000000000000000000000000000000000000000000000000000000000000000000000000000000000000000000000000000000000000000000000000000000000000000000000000000000000000000000000000000000000000000000000000000000000000000000000000000000000000000000000000000000000000000000000000000000000000000000000000000000000000000000000000000000000000000000000000000000000000000000000000000000000000000000000000000000000000000000000000000000000000000000000000000000000000000000000000000000000000000000000000000000000000000000000000000000000000000000000000000000000000000000000000000000000000000000000000000000000000000000000000000000000000000000000000000000000000000000000000000000000000000000000000000000000000000000000000000000000000000000000000000000000000000000000000000000000000000000000000000000000000000000000000000000000000000000000000000000000000000000000000000000000000000000000000000000000000000000000000000000000000000000000000000000000000000000000000000000000000000000000000000000000000000000000000000000000000000000000000000000000000000000000000000000000000000000000000000000000000000000000000000000000000000000000000000000000000000000000000000000000000000000000000000000000000000000000000000000000000000000000000000000000000000000000000000000000000000000000000000000000000000000000000000000000000000000000000000000000000000000000000000000000000000000000000000000000000000000000000000000000000000000000000000000000000000000000000000000000000000000000000000000000000000000000000000000000000000000000000000000000000000000000000000000000000000000000000000000000000000000000000000000000000000000000000000000000000000000000000000000000000000000000000000000000000000000000000000000000000000000000000000000000000000000000000000000000000000000000000000000000000000000000000000000000000000000000000000000000000000000000000000000000000000000000000000000000000000000000000000000000000000000000000000000000000000000000000000000000000000000000000000000000000000000000000000000000000000000000000000000000000000000000000000000000000000000000000000000000000000000000000000000000000000000000000000000000000000000000000000000000000000000000000000000000000000000000000000000000000000000000000000000000000000000000000000000000000000011111100000000000000000000000000000000000000000000000000000000000000000000000000000000000000000000000000000000000000000000000000000000000000000000000111111110000000000000000000000000000000000000000000000000000000000000000000000000000000000000000000000000000000000000000000000000000000000000000000000011111110000000000000000000000000000000000000000000000000000000000000000000000000000000000000000000000000000000000000000000000000000000000000000000011111111111110000000000000000000000000000000000000000000000000000000000000000000000000000000000000000000000000000000000000000000000000000000000000000111111111111110000000000000000000000000000000000000000000000000000000000000000000000000000000000000000000000000000000000000000000000000000000000000000111111111111110000000000000000000000000000000000000000000000000000000000000000000000000000000000000000000000000000000000000000000000000000000000000111112222222222111110000000000000000000000000000000000000000000000000000000000000000000000000000000000000000000000000000000000000000000000000000000000111122222222222211111000000000000000000000000000000000000000000000000000000000000000000000000000000000000000000000000000000000000000000000000000000000111111222222221111110000000000000000000000000000000000000000000000000000000000000000000000000000000000000000000000000000000000000000000000000000000111112223333333333222111110000000000000000000000000000000000000000000000000000000000000000000000000000000000000000000000000000000000000000000000000001111122233333443333322211111000000000000000000000000000000000000000000000000000000000000000000000000000000000000000000000000000000000000000000000000000111112222233333322222111110000000000000000000000000000000000000000000000000000000000000000000000000000000000000000000000000000000000000000000000000111112233344455555544433322111110000000000000000000000000000000000000000000000000000000000000000000000000000000000000000000000000000000000000000000001111122233444555555554443322211111000000000000000000000000000000000000000000000000000000000000000000000000000000000000000000000000000000000000000000000111112223333444444443333222111110000000000000000000000000000000000000000000000000000000000000000000000000000000000000000000000000000000000000000000111112233344556666776666554433322111110000000000000000000000000000000000000000000000000000000000000000000000000000000000000000000000000000000000000001111122233445556667777666655443322211111000000000000000000000000000000000000000000000000000000000000000000000000000000000000000000000000000000000000000111112223334444555555554444333222111110000000000000000000000000000000000000000000000000000000000000000000000000000000000000000000000000000000000000111112223344566777888888888776654433322111110000000000000000000000000000000000000000000000000000000000000000000000000000000000000000000000000000000001111122233445566778888888888776655443322211111000000000000000000000000000000000000000000000000000000000000000000000000000000000000000000000000000000000111112222334445556666666666555444332222111110000000000000000000000000000000000000000000000000000000000000000000000000000000000000000000000000000000111112223344556778899AAAAAAAA99887765544332221111100000000000000000000000000000000000000000000000000000000000000000000000000000000000000000000000000011111122233445567788999AAAAAA99988776554433222111111000000000000000000000000000000000000000000000000000000000000000000000000000000000000000000000000000111111222333444556667777777777666555443332221111110000000000000000000000000000000000000000000000000000000000000000000000000000000000000000000000000111111222334455677899AABBBBCCBBBBAA99877655443322211111100000000000000000000000000000000000000000000000000000000000000000000000000000000000000000000001111122233344556778899AABBBBBBBBAA9988776554433322211111000000000000000000000000000000000000000000000000000000000000000000000000000000000000000000000001111112223334445566677778888887777666554443332221111110000000000000000000000000000000000000000000000000000000000000000000000000000000000000000000001111112223344556678899ABBBCCCCCCCCBBBAA98876655443322211111100000000000000000000000000000000000000000000000000000000000000000000000000000000000000000111111222233445566778899AABBBBBBBBBBAAA9987766554433222211111100000000000000000000000000000000000000000000000000000000000000000000000000000000000000000111111122223334455566677778888888877776665554433322221111111000000000000000000000000000000000000000000000000000000000000000000000000000000000000001111111222333445566778899AABBCCCCCCCCCCBBAAA988776655443332221111111000000000000000000000000000000000000000000000000000000000000000000000000000000000111111122223334455667788899AAABBBBBBBBBBAAA999887766554433322221111111000000000000000000000000000000000000000000000000000000000000000000000000000000000111111112222333344455566677777888888887777766655544433332222111111110000000000000000000000000000000000000000000000000000000000000000000000000000001111111222233344455666778899AAABBBBCCCCCCBBBBAAA998877766554443332222111111100000000000000000000000000000000000000000000000000000000000000000000000001111111122223334445556677788999AAAAABBBBBBAAAAA9998877766555444333222211111111000000000000000000000000000000000000000000000000000000000000000000000000011111111122222333344445555666677777777777777776666555544443333222221111111110000000000000000000000000000000000000000000000000000000000000000000000111111112222233344455566677888999AAAABBBBBBBBBBAAAA9998887766655544433322222111111110000000000000000000000000000000000000000000000000000000000000000011111111122222333344455566677788889999AAAAAAAAAA999998887776665554443333222221111111110000000000000000000000000000000000000000000000000000000000000000001111111111222222333334444555556666666677777766666666555554444433332222221111111111000000000000000000000000000000000000000000000000000000000001111111111112222222333344445556667778888999999AAAAAAAAA9999988887776665554444333322222111111111100000000000000000000000000000000000000000001111122222222333333333333333333344444455556666777788888889999999988888887777666655544443333322222111111111100000000000000000000000000000000000000000001111111222222222222222222222233333333333444444455555555666666666666555555554444443333332222222111111111110000000000000000000000000000000000000000000001111222222333333333444444444444445555555666667777788888888888888888888877777666655554444333332222221111111111100000000000000000000000000000000000000001222222233333344444444444444455555555555566666667777777788888888877777777666666555544444333333222222211111111111111000000000000000000000000000000000002222222333333333333333344444444444455555555566666666666777777777777666666666655555555444444443333333333322222222222222222222222222222222222222222222223333333344444444444445555555566666677777888889999999AAAAAAAAAAAAAAAAAA99999998888877777666666555555544444444444443333333333333333333333333333333333333", "a4": "0000000000000000000000000000000000000000000000000000000000000000000000000000000000000000000000000000000000000000000000000000000000000000000000000000000000000000000000000000000000000000000000000000000000000000000000000000000000000000000000000000000000000000000000000000000000000000000000000000000000000000000000000000000000000000000000000000000000000000000000000000000000000000000000000000000000000000000000000000000000000000000000000000000000000000000000000000000000000000000000000000000000000000000000000000000000000000000000000000000000000000000000000000000000000000000000000000000000000000000000000000000000000000000000000000000000000000000000000000000000000000000000000000000000000000000000000000000000000000000000000000000000000000000000000000000000000000000000000000000000000000000000000000000000000000000000000000000000000000000000000000000000000000000000000000000000000000000000000000000000000000000000000000000000000000000000000000000000000000000000000000000000000000000000000000000000000000000000000000000000000000000000000000000000000000000000000000000000000000000000000000000000000000000000000000000000000000000000000000000000000000000000000000000000000000000000000000000000000000000000000000000000000000000000000000000000000000000000000000000000000000000000000000000000000000000000000000000000000000000000000000000000000000000000000000000000000000000000000000000000000000000000000000000000000000000000000000000000000000000000000000000000000000000000000000000000000000000000000000000000000000000000000000000000000000000000000000000000000000000000000000000000000000000000000000000000000000000000000000000000000000000000000000000000000000000000000000000111000000000000000000000000000000000000000000000000000000000000000000000000000000000000000000000000000000000000000000000000000000000000000000000001111000000000000000000000000000000000000000000000000000000000000000000000000000000000000000000000000000000000000000000000000000000000000000000000111110000000000000000000000000000000000000000000000000000000000000000000000000000000000000000000000000000000000000000000000000000000000000000000001111100000000000000000000000000000000000000000000000000000000000000000000000000000000000000000000000000000000000000000000000000000000000000000000011111100000000000000000000000000000000000000000000000000000000000000000000000000000000000000000000000000000000000000000000000000000000000000000001112211000000000000000000000000000000000000000000000000000000000000000000000000000000000000000000000000000000000000000000000000000000000000000000011222110000000000000000000000000000000000000000000000000000000000000000000000000000000000000000000000000000000000000000000000000000000000000000000122222110000000000000000000000000000000000000000000000000000000000000000000000000000000000000000000000000000000000000000000000000000000000000000001233321100000000000000000000000000000000000000000000000000000000000000000000000000000000000000000000000000000000000000000000000000000000000000000112343321000000000000000000000000000000000000000000000000000000000000000000000000000000000000000000000000000000000000000000000000000000000000000001234443210000000000000000000000000000000000000000000000000000000000000000000000000000000000000000000000000000000000000000000000000000000000000000012345542100000000000000000000000000000000000000000000000000000000000000000000000000000000000000000000000000000000000000000000000000000000000000000124565431100000000000000000000000000000000000000000000000000000000000000000000000000000000000000000000000000000000000000000000000000000000000000001246765311000000000000000000000000000000000000000000000000000000000000000000000000000000000000000000000000000000000000000000000000000000000000000113578763210000000000000000000000000000000000000000000000000000000000000000000000000000000000000000000000000000000000000000000000000000000000000001236899742100000000000000000000000000000000000000000000000000000000000000000000000000000000000000000000000000000000000000000000000000000000000000012479BA75210000000000000000000000000000000000000000000000000000000000000000000000000000000000000000000000000000000000000000000000000000000000000001248BCB95310000000000000000000000000000000000000000000000000000000000000000000000000000000000000000000000000000000000000000000000000000000000000001259CEDA631000000000000000000000000000000000000000000000000000000000000000000000000000000000000000000000000000000000000000000000000000000000000000136AEGFB731000000000000000000000000000000000000000000000000000000000000000000000000000000000000000000000000000000000000000000000000000000000000000136BFIGC842100000000000000000000000000000000000000000000000000000000000000000000000000000000000000000000000000000000000000000000000000000000000000137CHKIE942100000000000000000000000000000000000000000000000000000000000000000000000000000000000000000000000000000000000000000000000000000000000000148EJMKFA52100000000000000000000000000000000000000000000000000000000000000000000000000000000000000000000000000000000000000000000000000000000000000249FLONHB5210000000000000000000000000000000000000000000000000000000000000000000000000000000000000000000000000000000000000000000000000000000000000125AHNRPJC6210000000000000000000000000000000000000000000000000000000000000000000000000000000000000000000000000000000000000000000000000000000000000125BIQTRLD6310000000000000000000000000000000000000000000000000000000000000000000000000000000000000000000000000000000000000000000000000000000000000125BKSWUNE7310000000000000000000000000000000000000000000000000000000000000000000000000000000000000000000000000000000000000000000000000000000000000126CMUZWPF8310000000000000000000000000000000000000000000000000000000000000000000000000000000000000000000000000000000000000000000000000000000000000126DNXcZRG8310000000000000000000000000000000000000000000000000000000000000000000000000000000000000000000000000000000000000000000000000000000000000137EPZecSI9410000000000000000000000000000000000000000000000000000000000000000000000000000000000000000000000000000000000000000000000000000000000000137FRcheUJ9410000000000000000000000000000000000000000000000000000000000000000000000000000000000000000000000000000000000000000000000000000000000000138GSekhWKA410000000000000000000000000000000000000000000000000000000000000000000000000000000000000000000000000000000000000000000000000000000000000138HUgmjYLB410000000000000000000000000000000000000000000000000000000000000000000000000000000000000000000000000000000000000000000000000000000000000139IWiplaMB510000000000000000000000000000000000000000000000000000000000000000000000000000000000000000000000000000000000000000000000000000000000000139JXkrocNC520000000000000000000000000000000000000000000000000000000000000000000000000000000000000000000000000000000000000000000000000000000000000149KYmtqdOC52000000000000000000000000000000000000000000000000000000000000000000000000000000000000000000000000000000000000000000000000000000000000014AKZovrePC52000000000000000000000000000000000000000000000000000000000000000000000000000000000000000000000000000000000000000000000000000000000000014ALbpxtgQD52000000000000000000000000000000000000000000000000000000000000000000000000000000000000000000000000000000000000000000000000000000000000014AMbryuhQD52000000000000000000000000000000000000000000000000000000000000000000000000000000000000000000000000000000000000000000000000000000000000014AMcszvhRD52000000000000000000000000000000000000000000000000000000000000000000000000000000000000000000000000000000000000000000000000000000000000014AMds+wiRE62000000000000000000000000000000000000000000000000000000000000000000000000000000000000000000000000000000000000000000000000000000000000014BMdt/wiRE62000000000000000000000000000000000000000000000000000000000000000000000000000000000000000000000000000000000000000000000000000000000000014BMdt/xiRE62000000000000000000000000000000000000000000000000000000000000000000000000000000000000000000000000000000000000000000000000000000000000014BMdt/wiRE62000000000000000000000000000000000000000000000000000000000000000000000000000000000000000000000000000000000000000000000000000000000000014AMcs+wiRE52000000000000000000000000000000000000000000000000000000000000000000000000000000000000000000000000000000000000000000000000000000000000014AMcrzvhRD52000000000000000000000000000000000000000000000000000000000000000000000000000000000000000000000000000000000000000000000000000000000000014ALbqyugQD52000000000000000000000000000000000000000000000000000000000000000000000000000000000000000000000000000000000000000000000000000000000000014ALapxtfPD52000000000000000000000000000000000000000000000000000000000000000000000000000000000000000000000000000000000000000000000000000000000000014AKZovrePC520000000000000000000000000000000000000000000000000000000000000000000000000000000000000000000000000000000000000000000000000000000000000149KYmtpdOC520000000000000000000000000000000000000000000000000000000000000000000000000000000000000000000000000000000000000000000000000000000000000139JXkrnbNB520000000000000000000000000000000000000000000000000000000000000000000000000000000000000000000000000000000000000000000000000000000000000138IViolaMB410000000000000000000000000000000000000000000000000000000000000000000000000000000000000000000000000000000000000000000000000000000000000138HUgmjYLA410000000000000000000000000000000000000000000000000000000000000000000000000000000000000000000000000000000000000000000000000000000000000138GSejgWKA410000000000000000000000000000000000000000000000000000000000000000000000000000000000000000000000000000000000000000000000000000000000000137FQbheUJ9410000000000000000000000000000000000000000000000000000000000000000000000000000000000000000000000000000000000000000000000000000000000000137EPZebSH9410000000000000000000000000000000000000000000000000000000000000000000000000000000000000000000000000000000000000000000000000000000000000126DNWbZQG8310000000000000000000000000000000000000000000000000000000000000000000000000000000000000000000000000000000000000000000000000000000000000126CLUYWOF7310000000000000000000000000000000000000000000000000000000000000000000000000000000000000000000000000000000000000000000000000000000000000125BKSWTME7310000000000000000000000000000000000000000000000000000000000000000000000000000000000000000000000000000000000000000000000000000000000000125AIPTRKD63100000000000000000000000000000000000000000000000000000000000000000000000000000000000000000000000000000000000000000000000000000000000001249GNQPJB62100000000000000000000000000000000000000000000000000000000000000000000000000000000000000000000000000000000000000000000000000000000000000249FLOMHA52100000000000000000000000000000000000000000000000000000000000000000000000000000000000000000000000000000000000000000000000000000000000000148DJMKF952100000000000000000000000000000000000000000000000000000000000000000000000000000000000000000000000000000000000000000000000000000000000000137CHJIE842100000000000000000000000000000000000000000000000000000000000000000000000000000000000000000000000000000000000000000000000000000000000000136BFHGC7421000000000000000000000000000000000000000000000000000000000000000000000000000000000000000000000000000000000000000000000000000000000000001359DFEB7310000000000000000000000000000000000000000000000000000000000000000000000000000000000000000000000000000000000000000000000000000000000000001258CDDA6310000000000000000000000000000000000000000000000000000000000000000000000000000000000000000000000000000000000000000000000000000000000000001247ACB853100000000000000000000000000000000000000000000000000000000000000000000000000000000000000000000000000000000000000000000000000000000000000012469AA742100000000000000000000000000000000000000000000000000000000000000000000000000000000000000000000000000000000000000000000000000000000000000012368986421000000000000000000000000000000000000000000000000000000000000000000000000000000000000000000000000000000000000000000000000000000000000000013578753210000000000000000000000000000000000000000000000000000000000000000000000000000000000000000000000000000000000000000000000000000000000000000124676531100000000000000000000000000000000000000000000000000000000000000000000000000000000000000000000000000000000000000000000000000000000000000001245654211000000000000000000000000000000000000000000000000000000000000000000000000000000000000000000000000000000000000000000000000000000000000000012345532100000000000000000000000000000000000000000000000000000000000000000000000000000000000000000000000000000000000000000000000000000000000000000113444321000000000000000000000000000000000000000000000000000000000000000000000000000000000000000000000000000000000000000000000000000000000000000001123332110000000000000000000000000000000000000000000000000000000000000000000000000000000000000000000000000000000000000000000000000000000000000000001233321100000000000000000000000000000000000000000000000000000000000000000000000000000000000000000000000000000000000000000000000000000000000000000011222211000000000000000000000000000000000000000000000000000000000000000000000000000000000000000000000000000000000000000000000000000000000000000000112221100000000000000000000000000000000000000000000000000000000000000000000000000000000000000000000000000000000000000000000000000000000000000000001112211000000000000000000000000000000000000000000000000000000000000000000000000000000000000000000000000000000000000000000000000000000000000000000001111110000000000000000000000000000000000000000000000000000000000000000000000000000000000000000000000000000000000000000000000000000000000000000000011111000000000000000000000000000000000000000000000000000000000000000000000000000000000000000000000000000000000000000000000000000000000000000000000111110000000000000000000000000000000000000000000000000000000000000000000000000000000000000000000000000000000000000000000000000000000000000000000000111100000000000000000000000000000000000000000000000000000000000000000000000000000000000000000000000000000000000000000000000000000000000000000000001110000000000000000000000000000000000000000000000000000000000000000000000000000000000000000000000000000000000000000000000000000000000000000000000000000000000000000000000000000000000000000000000000000000000000000000000000000000000000000000000000000000000000000000000000000000000000000000000000000000000000000000000000000000000000000000000000000000000000000000000000000000000000000000000000000000000000000000000000000000000000000000000000000000000000000000000000000000000000000000000000000000000000000000000000000000000000000000000000000000000000000000000000000000000000000000000000000000000000000000000000000000000000000000000000000000000000000000000000000000000000000000000000000000000000000000000000000000000000000000000000000000000000000000000000000000000000000000000000000000000000000000000000000000000000000000000000000000000000000000000000000000000000000000000000000000000000000000000000000000000000000000000000000000000000000000000000000000000000000000000000000000000000000000000000000000000000000000000000000000000000000000000000000000000000000000000000000000000000000000000000000000000000000000000000000000000000000000000000000000000000000000000000000000000000000000000000000000000000000000000000000000000000000000000000000000000000000000000000000000000000000000000000000000000000000000000000000000000000000000000000000000000000000000000000000000000000000000000000000000000000000000000000000000000000000000000000000000000000000000000000000000000000000000000000000000000000000000000000000000000000000000000000000000000000000000000000000000000000000000000000000000000000000000000000000000000000000000000000000000000000000000000000000000000000000000000000000000000000000000000000000000000000000000000000000000000000000000000000000000000000000000000000000000000000000000000000000000000000000000000000000000000000000000000000000000000000000000000000000000000000000000000000000000000000000000000000000000000000000000000000000000000000000000000000000000000000000000000000000000000000000", "a5": "000000000000000000000000000000000000000000000000000000000000000000000000000000001247CIPUZbZUPIC7421000000000000000000000000000000000000000000000000000000000000000000000000000000000000000000000000000000000000000000000000000000000001247CIPUZbZUOIC7421000000000000000000000000000000000000000000000000000000000000000000000000000000000000000000000000000000000000000000000000000000000001247CIPVZbZUOIC7421000000000000000000000000000000000000000000000000000000000000000000000000000000000000000000000000000000000000000000000000000000000001248CJPVZbZUOIC7421000000000000000000000000000000000000000000000000000000000000000000000000000000000000000000000000000000000000000000000000000000000001248DJPVabZUOHB7421000000000000000000000000000000000000000000000000000000000000000000000000000000000000000000000000000000000000000000000000000000000001248DJQWabZTNHB6321000000000000000000000000000000000000000000000000000000000000000000000000000000000000000000000000000000000000000000000000000000000001248DKQWabYTNGA6321000000000000000000000000000000000000000000000000000000000000000000000000000000000000000000000000000000000000000000000000000000000011258EKRWabYSMGA6311000000000000000000000000000000000000000000000000000000000000000000000000000000000000000000000000000000000000000000000000000000000011259ELRXbbYSLF95311000000000000000000000000000000000000000000000000000000000000000000000000000000000000000000000000000000000000000000000000000000000011359FMSYbbXRKE95210000000000000000000000000000000000000000000000000000000000000000000000000000000000000000000000000000000000000000000000000000000000011359FMTYbbXQJD8421000000000000000000000000000000000000000000000000000000000000000000000000000000000000000000000000000000000000000000000000000000000001136AGNUZcaWPIC7421000000000000000000000000000000000000000000000000000000000000000000000000000000000000000000000000000000000000000000000000000000000001136AHOVacaVOHB6311000000000000000000000000000000000000000000000000000000000000000000000000000000000000000000000000000000000000000000000000000000000001236BIPWacaUNGA6310000000000000000000000000000000000000000000000000000000000000000000000000000000000000000000000000000000000000000000000000000000000001237CJQXbcZTLE95210000000000000000000000000000000000000000000000000000000000000000000000000000000000000000000000000000000000000000000000000000000000001247DKSYccYRKD84210000000000000000000000000000000000000000000000000000000000000000000000000000000000000000000000000000000000000000000000000000000000001248ELTZccXQIB73110000000000000000000000000000000000000000000000000000000000000000000000000000000000000000000000000000000000000000000000000000000000001248FMUadcWOGA63100000000000000000000000000000000000000000000000000000000000000000000000000000000000000000000000000000000000000000000000000000000000001259GOWbdbVME84210000000000000000000000000000000000000000000000000000000000000000000000000000000000000000000000000000000000000000000000000000000000000135AHQYdeaTKC74110000000000000000000000000000000000000000000000000000000000000000000000000000000000000000000000000000000000000000000000000000000000000136BJRZedZRIA63100000000000000000000000000000000000000000000000000000000000000000000000000000000000000000000000000000000000000000000000000000000000001137CKTbedXOG942100000000000000000000000000000000000000000000000000000000000000000000000000000000000000000000000000000000000000000000000000000000000001247EMVcfcVMD731000000000000000000000000000000000000000000000000000000000000000000000000000000000000000000000000000000000000000000000000000000000000001248FOYefbTJB521000000000000000000000000000000000000000000000000000000000000000000000000000000000000000000000000000000000000000000000000000000000000001259HRaffZQG942100000000000000000000000000000000000000000000000000000000000000000000000000000000000000000000000000000000000000000000000000000000000000125BJTcgeXND731000000000000000000000000000000000000000000000000000000000000000000000000000000000000000000000000000000000000000000000000000000000000000136CMWehcUJB521000000000000000000000000000000000000000000000000000000000000000000000000000000000000000000000000000000000000000000000000000000000000000137EOZggaRG8310000000000000000000000000000000000000000000000000000000000000000000000000000000000000000000000000000000000000000000000000000000000000000149GRchfXND621000000000000000000000000000000000000000000000000000000000000000000000000000000000000000000000000000000000000000000000000000000000000000025AJVfieUJ9410000000000000000000000000000000000000000000000000000000000000000000000000000000000000000000000000000000000000000000000000000000000000000126CMYhibQF7210000000000000000000000000000000000000000000000000000000000000000000000000000000000000000000000000000000000000000000000000000000000000000127EPcjhXLB4100000000000000000000000000000000000000000000000000000000000000000000000000000000000000000000000000000000000000000000000000000000000000000138HTfkfSG8310000000000000000000000000000000000000000000000000000000000000000000000000000000000000000000000000000000000000000000000000000000000000000014ALYjkbNC5100000000000000000000000000000000000000000000000000000000000000000000000000000000000000000000000000000000000000000000000000000000000000000015DPcljWI83100000000000000000000000000000000000000000000000000000000000000000000000000000000000000000000000000000000000000000000000000000000000000000026GThmfRD52000000000000000000000000000000000000000000000000000000000000000000000000000000000000000000000000000000000000000000000000000000000000000000138KZlmbK83100000000000000000000000000000000000000000000000000000000000000000000000000000000000000000000000000000000000000000000000000000000000000000013BPeokUE51000000000000000000000000000000000000000000000000000000000000000000000000000000000000000000000000000000000000000000000000000000000000000000015EUkpfN931000000000000000000000000000000000000000000000000000000000000000000000000000000000000000000000000000000000000000000000000000000000000000000026IbooYG510000000000000000000000000000000000000000000000000000000000000000000000000000000000000000000000000000000000000000000000000000000000000000000029OhrkQA30000000000000000000000000000000000000000000000000000000000000000000000000000000000000000000000000000000000000000000000000000000000000000000013CUnrdI610000000000000000000000000000000000000000000000000000000000000000000000000000000000000000000000000000000000000000000000000000000000000000000015HcsnUB300000000000000000000000000000000000000000000000000000000000000000000000000000000000000000000000000000000000000000000000000000000000000000000017NktgL610000000000000000000000000000000000000000000000000000000000000000000000000000000000000000000000000000000000000000000000000000000000000000000002BWrrWC300000000000000000000000000000000000000000000000000000000000000000000000000000000000000000000000000000000000000000000000000000000000000000000014GfwjL6100000000000000000000000000000000000000000000000000000000000000000000000000000000000000000000000000000000000000000000000000000000000000000000017OpvZC300000000000000000000000000000000000000000000000000000000000000000000000000000000000000000000000000000000000000000000000000000000000000000000002BYwpN6100000000000000000000000000000000000000000000000000000000000000000000000000000000000000000000000000000000000000000000000000000000000000000000004IkyeD2000000000000000000000000000000000000000000000000000000000000000000000000000000000000000000000000000000000000000000000000000000000000000000000018SuuR6100000000000000000000000000000000000000000000000000000000000000000000000000000000000000000000000000000000000000000000000000000000000000000000002Ef+kG2000000000000000000000000000000000000000000000000000000000000000000000000000000000000000000000000000000000000000000000000000000000000000000000004OrzX81000000000000000000000000000000000000000000000000000000000000000000000000000000000000000000000000000000000000000000000000000000000000000000000019a+qK3000000000000000000000000000000000000000000000000000000000000000000000000000000000000000000000000000000000000000000000000000000000000000000000003Hn/dB1000000000000000000000000000000000000000000000000000000000000000000000000000000000000000000000000000000000000000000000000000000000000000000000016TyuQ5000000000000000000000000000000000000000000000000000000000000000000000000000000000000000000000000000000000000000000000000000000000000000000000002Dh/hF2000000000000000000000000000000000000000000000000000000000000000000000000000000000000000000000000000000000000000000000000000000000000000000000004OtwU8100000000000000000000000000000000000000000000000000000000000000000000000000000000000000000000000000000000000000000000000000000000000000000000001AbzmI4000000000000000000000000000000000000000000000000000000000000000000000000000000000000000000000000000000000000000000000000000000000000000000000004JnyZB2000000000000000000000000000000000000000000000000000000000000000000000000000000000000000000000000000000000000000000000000000000000000000000000018VwrO6100000000000000000000000000000000000000000000000000000000000000000000000000000000000000000000000000000000000000000000000000000000000000000000003GhyhG3000000000000000000000000000000000000000000000000000000000000000000000000000000000000000000000000000000000000000000000000000000000000000000000018RruWA200000000000000000000000000000000000000000000000000000000000000000000000000000000000000000000000000000000000000000000000000000000000000000000004FcvmN6100000000000000000000000000000000000000000000000000000000000000000000000000000000000000000000000000000000000000000000000000000000000000000000018PmudG410000000000000000000000000000000000000000000000000000000000000000000000000000000000000000000000000000000000000000000000000000000000000000000014FZrpUB200000000000000000000000000000000000000000000000000000000000000000000000000000000000000000000000000000000000000000000000000000000000000000000028OitiM710000000000000000000000000000000000000000000000000000000000000000000000000000000000000000000000000000000000000000000000000000000000000000000014EXoqbH510000000000000000000000000000000000000000000000000000000000000000000000000000000000000000000000000000000000000000000000000000000000000000000027LfrmTC31000000000000000000000000000000000000000000000000000000000000000000000000000000000000000000000000000000000000000000000000000000000000000000014CTkqgN920000000000000000000000000000000000000000000000000000000000000000000000000000000000000000000000000000000000000000000000000000000000000000000027JannZI72000000000000000000000000000000000000000000000000000000000000000000000000000000000000000000000000000000000000000000000000000000000000000000013BPgoiTE51000000000000000000000000000000000000000000000000000000000000000000000000000000000000000000000000000000000000000000000000000000000000000000026GWkmdOB4100000000000000000000000000000000000000000000000000000000000000000000000000000000000000000000000000000000000000000000000000000000000000000013AMcmjYK83100000000000000000000000000000000000000000000000000000000000000000000000000000000000000000000000000000000000000000000000000000000000000000026ESgmgTG72100000000000000000000000000000000000000000000000000000000000000000000000000000000000000000000000000000000000000000000000000000000000000000149JXikbOD5200000000000000000000000000000000000000000000000000000000000000000000000000000000000000000000000000000000000000000000000000000000000000000026DPckiXLB4100000000000000000000000000000000000000000000000000000000000000000000000000000000000000000000000000000000000000000000000000000000000000000139ITfjfTH9310000000000000000000000000000000000000000000000000000000000000000000000000000000000000000000000000000000000000000000000000000000000000000025CMYhibPF7310000000000000000000000000000000000000000000000000000000000000000000000000000000000000000000000000000000000000000000000000000000000000000137GQbigYMC621000000000000000000000000000000000000000000000000000000000000000000000000000000000000000000000000000000000000000000000000000000000000000024AKUdieVJB521000000000000000000000000000000000000000000000000000000000000000000000000000000000000000000000000000000000000000000000000000000000000000126DNYfhbRH9421000000000000000000000000000000000000000000000000000000000000000000000000000000000000000000000000000000000000000000000000000000000000000149HRaggZPF841000000000000000000000000000000000000000000000000000000000000000000000000000000000000000000000000000000000000000000000000000000000000000125BKUcgeWMD731000000000000000000000000000000000000000000000000000000000000000000000000000000000000000000000000000000000000000000000000000000000000000137ENXegcUKB631000000000000000000000000000000000000000000000000000000000000000000000000000000000000000000000000000000000000000000000000000000000000001249GQZefaRIA52100000000000000000000000000000000000000000000000000000000000000000000000000000000000000000000000000000000000000000000000000000000000000136BJSbfeYPG952100000000000000000000000000000000000000000000000000000000000000000000000000000000000000000000000000000000000000000000000000000000000001237DMVcecWNE842100000000000000000000000000000000000000000000000000000000000000000000000000000000000000000000000000000000000000000000000000000000000001259GOXdebULD74210000000000000000000000000000000000000000000000000000000000000000000000000000000000000000000000000000000000000000000000000000000000000136BIQYddZSKC63110000000000000000000000000000000000000000000000000000000000000000000000000000000000000000000000000000000000000000000000000000000000001247CKSZddYQIB63110000000000000000000000000000000000000000000000000000000000000000000000000000000000000000000000000000000000000000000000000000000000001258EMUadcWPHA5310000000000000000000000000000000000000000000000000000000000000000000000000000000000000000000000000000000000000000000000000000000000000135AGOVbdbVNG95210000000000000000000000000000000000000000000000000000000000000000000000000000000000000000000000000000000000000000000000000000000000001136BHPXbcZUMF95210000000000000000000000000000000000000000000000000000000000000000000000000000000000000000000000000000000000000000000000000000000000001247CJRYccYSLE84210000000000000000000000000000000000000000000000000000000000000000000000000000000000000000000000000000000000000000000000000000000000001259EKSYcbXRKD7421000000000000000000000000000000000000000000000000000000000000000000000000000000000000000000000000000000000000000000000000000000000000135AFMTZcbWQJC7421000000000000000000000000000000000000000000000000000000000000000000000000000000000000000000000000000000000000000000000000000000000001136BGNUZcaWPIB7321000000000000000000000000000000000000000000000000000000000000000000000000000000000000000000000000000000000000000000000000000000000001237BHOVacZVOHB6321000000000000000000000000000000000000000000000000000000000000000000000000000000000000000000000000000000000000000000000000000000000001247CIPWabZUOHA6321000000000000000000000000000000000000000000000000000000000000000000000000000000000000000000000000000000000000000000000000000000000001248DJQWabYTNGA6311000000000000000000000000000000000000000000000000000000000000000000000000000000000000000000000000000000000000000000000000000000000001258EKQXabYTMFA6311000000000000000000000000000000000000000000000000000000000000000000000000000000000000000000000000000000000000000000000000000000000011359ELRXabXSMF95311000000000000000000000000000000000000000000000000000000000000000000000000000000000000000000000000000000000000000000000000000000000011359FLSXbaXSLF9531100000000000000000000000000000000000000000000000000000000000000000000000000000000000000000000000000000000000000000000000000000000001136AFMSYbaXRLE9531100000000000000000000000000000000000000000000000000000000000000000000000000000000000000000000000000000000000000000000000000000000001236AGMSYbaWRLE9531100000000000000000000000000000000000000000000000000000000000000000000000000000000000000000000000000000000000000000000000000000000001236AGMSYbaWRKE9531100000000000000000000000000000000000000000000000000000000000000000000000000000000000000000000000000000000000000000000000000000000001236BGMTYbaWRKE9531100000000000000000000000000000000000000000000000000000000000000000000000000000000000000000000000000000000000000000000000000000000001236BGNTYbaWQKE953110000000000000000000000000000000000000000000000000000000000000000000000000000000", "b2": "578422133443368744775311111125651356AA83243213455677776324423432443332354224531211258843666534556ACB756657889AA85323237888AA833678767753223577336778578522134443368744775211111125651357AA832432134556776763244234334433324542245212112588436765345569CB756667889AA85313237888AA833678767753223577336778688522134443368744775211111125652357AA832432134556776763244234334433324542245212112587436765345569CB746667889AA85313237888AA833678778853223577336777688522134443368744775211111125652357AA832432134556776763244234334433334542245212112587436765345569CB746667789AA85312237889AA833678778853223577336777688522134443368744775211111125652357AA832332134556776653244234334433334542245212212587436765345569CB746667789AA85312237889AA833678778863223577336777688521134443368744775211111125652357AA832332134556776653244334334433334542245212213587436765445559CB746667789AA85312237889AA843678778863223577336777688521134442367755775211111125652357AA832332134556766653244334334443334542244212213577336765445459CB646777789AA85312237989AA844678878863213577336767688531134442267755775211111125652357AA832332134556766653244344334443334542244212213577336775445459CB646777779BA85312237999AA844678878863213477336767688532134442257755775211111135752358AA832332234545666653344344434444334542244212213577336776445459BA646778779BA85312237999AA844678888863212477336767788532134442257755775201111135752358AA832332234545666653344344434544334542244212213577336776445459BA636778779BA75312237999AA844678888864112467336767788532134442257655775201111135752368AA832332234545666653344344445544434542244212213577336776455459BA636778779BA75312237999AA844678888864112466336767788632134442257655775201111135753368AA832332234445665653344344445544444542244312213577336876555459BA636778779BA75312247999AA844678888864112466336766788632134442257656775201111135753368AA832332234445665653344345445544444542244312213576336876555449BA636788779BA75312247999AA854678889864112466436766788632134442257656775201111135753468AA832332234445665553344445445544444542244312213576436876555348BA636788779BA75312247999AA854678889864112466436756888632134442257666775200111136753468AA832332234445665553344445445544444542244312213576436886555348BA536788779BA75312247999AA854678889864112466436656888642134542257666775200111136763468AA842333234444655553344445445554445542144322213576436887555348BA526888779BA75312247899AA855678899864112466436656888642134542256666775210111136763469AA842333244434555554344445445554445542144322213576446887655348BA526888769BA75312247899AA955678899864112466446656898642134542256666775210111136764469AA842333244434555554445455555555445542144322213576447887655348AA526888669AA74312247899AA965668899864212466446655898642134542256666775210111136764479AA842333344434554554445455555555445542244322213576447887655348A9526898669AA74312247899AA965668999874212466446645898642134542256666775210111136764579AA842343344434554554455555555555555542244322223576447887665238A9526898669A9743222478999A965668999974212466446645998642134542256667775310111136764579AA843343344434554454455555555555555542234322224576547898665238A9526898668A9743223478899A965667999974212366546645998742134542256667765310111136765579AA843343344434544454455555556655555542234322224576557998765238A9526898658A9743223578899A976667999974212366556645998742135542246667765310111136765579AA843343344323444444455556556655555542234322224576557998765237A9526898658A9743223578889A976667999974212356556635999742135542246667765310111146765579AA853343344323443444455566656665555542234322224566557998765237A9526898658A9643223578889A976667999974212356556534999752135542346667765310111146775679AA853343344323443444455666666665555542234332224566557998765237A9526898558A9643223578889A976667999974211356556534999752135542346667765310111246875679AA85344334432344344455666666666655554224433322456656799976523799536898558A9643223578889A976667999974211356656534A99752135543346667765310111246876689AA85444444432343344455666666666665554224443322456666899986523799536998548A9643223578889A986667899975211356666534A99752235543346667765310111246876689AA8544444443134334445566666666666655422444332345666689A98652379953699854799643234578889A987657899975211356666524A99752245543345667765310112247876689AA8544444443123323455666676666666665432444332346666689A98752379964699854799643334578778A987657899975211356666524A99753245543345667765310112247877789AA854444444312332345566777767666666543344433234666678AA987523799646998537986433346787789987657899975311356666524A99753245543345667765310112247887789AA864444444312332345567777777766666543344433334666678AAA87524798646998437986433346777789A87656899975311356666524AA985324554344566776531011225788778AAA864444444312322345567777777776666543344433334667678AAA975347986579A8437986333346777789A97656899975311357766524AA985324554445566776532012235788778AAA864444454312322345567777777777666543344443334667779AAA975347986579A8437986333346777689A97556899975311357776524AA986324554445556776532012235788889AAA865444554312322345667888777777766543344443335667779ABA975347987579A8426986333346776689A97556899975311357776524AA986334554445556776532012235798889AAA865445554312321345677888877777766543344443345667789ABA975347987679A8426885333456776679A97546899975311357776524AA986434554445556676532012235799889AAA865455554312321345678888887777776544445444345667789ABB985457987679A7426885333456776679A97546899975311357776524AA986434555445556676532012235799889AAA865555554312221345678888888777776554445444345667789BBBA86457997689A7426875333456776579A97545799975311357776524AA986434555445555676532112246899999AAA865555554312221345678898888777776554445544445667789BBBA86457997789A7426875323456775579A97545789975311357777534AA986434555444555666532112246899999AA986555555431222134567899988887777655444554444566778ABBBA8655799878AA7426875323456765568A97535789975311357877535AA98644455544445566653211234689A999AA986555555431222134568899998887777655445554444566789ABCBA8656799889AA7426875323456765468A97535789976311357887535A998754555544444566653211234689A999AA986555555432222134578999998888777655445555445566789ABCBA8656799889AA7436875223466765468997534789876411357887545A99875455555444456665321123468AAA999A9865555554322221346789AA999888877665555555445566789ABCCA9766899889AA7436775223567764468997434788876411357887545A99875455555444456665321123578AAAA99A9865555554322221346789AAA99888877665555555555566789ABCCB9766899999AA8436775224567764358997424688876411357887546A99876555555444445665421123579AAAA999986555665432222234678AAAA99888877665555555555566789ABCCB976789999AAA8546775224567754358997424678876411367887656A99876555555444445655421123579ABAA999986555665432222235679AABAA9988887665555555555566789ACCCB987789999AAA8546775224567653258997424678876421367887656999976556555444345655421124579ABAA999986555665533222235689ABBAA9988887665555555555666789ACCCB98778999AABA8556764224567653257997413678876421467887667999986666555443345555421124579BBBA999986555665543222235689ABBBA9988887665555566556666789BCCCBA877899AAABA8656764224567653257997413678876422467887667999987666655443345555422224689BBBA99987655566554322224568ABBBBAA988887665555666666656689BCCCBA877899AABBA865676421456765314799741357787642246788876798998766665544333455543223468ABBBA99987655566654332234578ABCCBBA988887665556666666656689BCCCBA98889AAABBA976776421456765214799741357787642246888877898898776665544323455443223468ABBBA99887655566654332234579ABCCCBA988877665556666666655689BCDCCA98889AABBBA976776421456765214789742356777642246888877888898876665443323455443223568ABBBA98887655566654333234679ACCCCBA988877655556666666655679BCDCCA98899AABBBB987776422456764214788742356777643346889877888898877665443223455443223579ABCBA98887544566654333334689BCDDCBA988877655556666666655679ACDDCA98899AABBCB987776422456764224788742356777643346899888887899877665443222445443223579ABCBA9887654456665443333568ABCDDDCA988777655566666666655679ACCDCB99899ABBCCBA88876422456764324788743356777653356899888977889887665443212345443334579BCCBA8877654456665443334568ACDEEDCB988777655566667776655579ACCDCB99899ABBCCBA98876532456764325788753456677654456899888977789887765433212344443334679BCCBA8777654456665543334579ACDEEDCB987776655556667776654578ACCCCBA9899ABBCCBA9888653246676533578875445667765445689998997678998776543311234444333468ABCCB98776643455665544334579BDEEEECB987776555556677776554578ABCCCBA9899ABCCCCBA988753346666533578875445566665445789999996678998876543211234444334468ABCCB98666543345665544444679BDEFFEDB987766555556677776544568ABCCCBA9899ABCCCCBA998754346666544578876445566665456789999996578998876543211234444444568ABCCB9766654334566554444568ACEFFFEDB987766544556677776543468ABCCCBA9899ABCCCCBAA987544566665445788765555666655567899999A5568999876543211234444444579ABCCB9765553234566654444578ACEFGGFDBA876665445566777765434689BCCCBA9889ABCCCCCBA987644566665456788765555666665567899999A5468999876433211233444444579ACCCA9755543224566655445579BDFGHGFECA876655444566777765334579BCCBA98889ABCCCCCBA987654567765556788876555566665667899999A4468999876433211233444445679BCCCA8655543124566655445679BEFHHHGECA876654444556777765323579ABCBA988889ABCDDCBBA97655567766556788876555566666677899999A4357999876433211233444445689BCCBA864444312356665555568ACEGHIHGFCA866554334556777765323579ABBBA987889ABCDDCCBA987656677665678888766555666666788999999435799987543222223344445578ABCCBA854443212355665555578ADFHIIIHFDA866544334456677764313578ABBBA987789ABCDDCCBA987666677666678898776555566666788999999325789987543222223344445678ABCCBA753333212355665555679BDGHJJJHFDB865543333456677764212468AABA9876778ABCCDDCBB987766777666678898876555566667788999999324789987543222223334445679ABCCB9753333212345665555679CEGIJKJIGEB9755432234566777642124689AAA98766789BCCDDCCBA98777777766778999876555566667788999999214789987543222223334455679ABCCB974323321234555555678ACFHJKLKJHEB9754432234556776542124689AAA97656689ABCDDCCBA98777777777788999876544556677788988889214689987543222233334456789ABCCB974222221234555556679BDGIKLLLJHFC97543211234566765431346799A987655679ABCDDCCBA99877777777788999876544556677788888888224689886543222233334456789BBCCB974212222234555556679BEGJLMMMKIFCA76432112345666654323467899986544578ABCCDDCBBA988887777778999987654445667778888888832468888654222223333345678ABCCBA97421222233455556678ACFHKMNNMLJGDA865321123456666543334678998764345689BCCDDCCBA998888777778999987654445667778888778833468887653222223333345678ABCCBA97421222234455556679BDGILMOONMKHEB865421123455666544345678888754234679ABCCCCCBAA99888777788999987654345566778887777744568887653222223333345679ABCCBA97421122334455556689BEHJMOPPONLIFC975432123445666554445677887653224579ABCCCCCBAA99988777788999987643334566777777767754578887653212223333345679ABBCBA8742112333455555678ACFIKNPQQPOLJGDA864322233456665544456677776431235789BBCCCCBBAA9988777788999987643234556777776666755678887653211223333345679ABBBBA8753112334455555679BDGJLOQRRQPNKHEB865322233455666555556677776431135689ABCCCCBBAA9988777778999987642224556677766656666678887653211222333345679ABBBBA8753222334455556689BEHKNPRSSRQOLIFC975432233455666555556677765431234679ABBCCBBBAA9988777778999987642123456666665555677788887653211222222335679ABBBBA975322234445555678ACFILOQSTTTRPMJGDA864333334555666555566666654322346789ABBBBBBAA9988766678999987642123455666655445677888887653211122222234678ABBBBA976432334455555679BDGJMPRTUUUSQNKHEB975433334455666655566666654333346789AABBBBAAA9987766678899987642113445566554444588889887653211122222234678AABBBA976433334455556689CEHLOQTVWWVURPLIFCA764433344556666655566666544334557889AAAAAAAA99876656678999876421233455555443345889999876542111222112346789ABBBA98654444455555678ADGJMPSUWXXWVTQNKGDB8654333445566666555566655544445567899AAAAAA998876555678898876432233445554432235999999876543211221112346789ABBAA98765444555555679BEHKNRTWXYZYWUSOLIFC976543344556666555555555554444556788999999998876544456788887643323344444432223599AA99876543222211112345789AABAA9876555555555678ADFIMPSVXZaaZYWTQNJGDB8754444455566655555555555544455667888999998877654345678888765433334444433211349AAAA9887643322211012345789AAAAA9987665555556679BEHKNRUXZbccbaYVSPLIFCA865444445555555544555555554455667788888888776543234577888765544444444332101349AAAA99876543322110123457899AAAAA98876666666678ADFIMPSWYbcdddbZXUQNKHEB97654444555555444445555554444556677777777776553212456788877655444444333211234AAAAAA9876544322111123467899AAAAA99887766666789CEHKORUXacefffdbZWSPMIFDA8754444555554444444455544444455566667777666543112356778877665544443333222235AABBAA9887654332211223467889AAAAAA998877767789BDGJMQTWZceghhgfdbYUROKHEC9865444455544433334444444444444555666666665543112356778887766554443333222345AABBBA9987655432212234567889AAAAAAA9988777789ACFILOSVZcegijjihfdaXTQMJGDB976544444444333333444444333334445555555555443222456778887766554443333333456ABBBBAA9887654332223345678899AAAAAA999888889ACEHKNRUXbegikllkjhfcZWSPLIFDA87654444443322223334333322233344444445554443333456778888776655443333344556ABBBBBA9987655433333455678899AAAAAAA9999899ACEGJMQTWadgikmmnmljhebYVROKHFCA8765444433221122333332222222333334444444444444566778888776655444444445567BBBBBBAA988765544444556678899AAAAAAAA9999ABCEGJMPSVZcfikmooponljheaXUQNKHECA876544332211112223322211112223333334444444555667788888777655444444455678BBBBBBBA9987766555555667788999AAAAAAAAAAABCEGILORVYcfiknoqqrqpoljgdaWTQMJGECA87654432211111222222110011222222333444455566677888888877655444444556788BCCCBBBAA9987766666666777889999AAAAAAABBCDFGJLORUYbehknprsttsrqoljgdZWSPMJGECA8765433221111222221110011111222223344555667778888888877655444445567789CCCCCBBAAA9888777777777788889999AAAABBCDEFHJMORUYbehknprtuvvvusqomjgcZWSPMJHECA976544322222222221111111111112223344556677788899888876654433445567899CCCCCBBBAA99988877777777888889999AABBCDEGIKMPSVYbehknqsuvxxxxwvtromjgcZWTPMKHFDB9876543322222222211111111111122334456677788899998877665433334456789ACCCCCBBBAAA9988888777777778888999ABCCEFHIKNPSVYbehknpsuvxyyyyxwutqolifcZWTQNKIFDCA97654433322222222111111111122334556677888999998877654332223456789ACCCCCBBBAAA998888777777777778889ABCDEGHJLNQSVYbegjmortvwyzzzzyxwuspnkhebZWTQNLIGECB9876554333322222211111111122344556778889999998877654321123456789ABBBBBBBAA9998887776666666667789ABCDFGIKMOQTVYbdgjloqsuwxzz+++zyxvtrpmkhecZWTROMJHFECA98765544333322221110011223344566778889999988877654322223456789ABBBBBAAA9988777665555555566788ABCDFHJKNPRTWYbegjloqsuwxyz++/++zywvtrpmkhecZWURPNKIHFDCA987665444332221111111223445566778889999998877665544445567889ABAAAAA99887766555444444556789ABDEGIJLNQSUWZbegjlnprtvxyz++///+zyxwusqomjhfcaXVSQOMKIGFDCB9887655443322211222334455667788899999999888777766677788999AAAAA99887766555444444556789ABCEFHJKMOQSVXZbegikmoqsuvwxyz++++zzyxwutrpnljhecaYVTRPNLJIGFDCBA9876654443333333445556677888999999AA99999999999999AAAAAAAAA9988777665555555667889ABDEFHIKMOQRTVYacegikmnprsuvwxyyzzzzzyxxvutrqomljhfdbYWUTRPNLKIHFEDCBA98776655555555666777888999AAAAAABBBBBBBBBBBBBBBBBBBBBAAA998887776666677889ABCDEFGIJLMOQRTVXZbcegiklnpqrtuvwxxyyyyyyyxwvutsrpomljhfdcaYWUTRPOMLJIHFEDCBAA9988777777788889999AAAABBBBCCCCCCCCDDDDDDDDCCCCCCBAAA9998888888899ABCCDEFHIJKMNPQSUVXYacdfhiklnoqrstuvwwxxyyyyxxxwvvutsqpomljigfdbaYXVUSRPOMLKJIGGFEDCCBBBAAAAAAAAAAABBBBBCCCCCDDDDDDDDDEEEDDDDDDDDCCBBAAAAAAAAAAABBCDEEFGHJKLMNPQSTUWXZacdfgijkmnoprsttuvwwwxxxxxxxwwvvutsrqponmljigfecbZYXVUTRQPONMLKJIHGGFEEEDDDCCCCCCCCCCCCDDDDDDDDDEEEEEEEEDDDDDDCCCBBBBBCCCCDDEEFFGHIJKLMNOPQSTUVXYZacdefhijklmnopqrssttuuvvvvvvvvvuuutssrqqponmlkjhgfedcaZYXWVUSRQPONMMLKJIIHGGFFFEEEDDDDDDDDDDDDDDDDDDDDDDDDDCCCCCCBBDEEEFFFGGHIIJJKLMNNOPQRSTUVWXYZabcdefghhijkllmnnooppqqqrrrrrrrrrrqqqppoonnmllkjiihgfedcbaZYXWVUTSRRQPONMLKKJIIHGGFFEEDDDCCCCBBBBBBBBBBBBBBBBBBBBBBAAEEFFGGHHIIJJKLMMNOOPQRSSTUVWXXYZabccdeffghhijjkkllmmmmnnnnnnnnnnnnmmmllkkjjiihgffedccbaZYXWVVUTSRQPONMMLKJIIHGFFEDDCCBBAA999988888888888888899999999CCDDEEFFGGHIIJJKLLMNOOPQRRSTUUVWXXYZaabccddefffgghhhiiiiijjjjjiiiiihhhggffeeddcbbaZZYXWWVUTSSRQPOONMLKKJIHHGFFEEDCCBBAA99988887777777777777777777777ABBBCCCDDEEFFGGHIIJKKLMMNOOPQQRSSTUUVWWXXYYZZaabbccccdddddddddddddccccbbbaaZZYYXXWVVUUTSSRQQPOONMMLKKJJIIHGGFFFEEDDCCCBBBBAAAA9999998888888777777777", "b3": "4554445689998876544543222346EF855AGE887766899998766665655445445558BB96544443345447AA9767658EHFB89CGHEA86679BDCBBBBBCBA86679FIF988CGF97666779ABBCDCA9876645667ABBA9999BDC965553223349FE6446GHA9BCBBA8779BCCB9878876776679BC964433333333433446ACB989HHB754567DJJC9BDC97666666668BCBAGJE87655CIG989BDC976667779CDB857ACB96555444579BBA76433345EF95445DIFFFC7544434569CFFCEHHGGGEADEB75433323332233323335AEFCHHA75434568DLKFEA76555565544469EGKH9765447EJFEED9643344554579DEAEEB75544443345667BDA543447FF65445AJJFA743333334568AGJJFB89CGHGB7654332233322332223347AGJHA865334457BHKJA865544555443356AJKGB865447AIKFB864333345545688BEDA87655444334454469CB6445AFD55558EIJC963233223457BIJEEFC78DEBHHC754332233322332222346BJJED86533456AFGDIH965544455433356FJDEEC86559FGJJA7643223455457ADFCGHHFDA75543334443567AB966EG9556ABCEJF86322322356BHGA889CBCC868EGD75433233322332223358HJBADD854456ADCA9BHF76544455433359GG98ADD97ACCAEIE864222345669FHHEIHC99CFFA65433443345558BB8HG767CC87AII9622233346CGE8665668865456BGD754333332233222346DHD758CC8547BC97777CHD765455543346FGA7668CDCA7679HHA642234578CGFA77B875557DGC75344433344447DEHG68CC7457HIA62233345BGE765444444433456BGD6543333223322345AGF86457BC87CB7566657GHA65555544449FD765567A955567BHG7533467BHGA765566543346CGD64444333443358DID9CC85457FID7323345AGE75544443333323446DGC643333223333457GH9753456ACBA645565459HH8655554445FF865555665445568GIB6457AFKI965544554432346CGC5554333433346GIEDB765457CJI8323458FF7544433332332233357EGA5443322344467EHC87534556996444555346CHE765554458FE555445665445567BIH868BINKB6554444443222356DFA655433433347HICA7777789AKK943458FF854333333322322233457GG85443334557ACHGCA75345555544345543357GHA6655556EF85444456654556789IJC7AHNLD954443444432223457FF965433433348GH878BDCABDGKKC5457FF95433333333222222333459GF75443357BDDHHBCDD9555554443335543356AHG8665558FF544455566568ABCDEFKJ9FKICA7434433444322223458FG8644443335BHE9BCB86457AGKG867EGA54433333333222222323446BGC655459CB8CHD777ACB865544332345433457EHC76556DF9444555679ABCB999ACIJFIF9875333433444322223345AGD754443345FHBDC86543457CKJDBCHE6443333333332222223233456FGA766AC978GG755566ACA65443323454324568HH97668FF64345668CDB76556678BIIEEC8653344334443222233345FHA65444347GHEC645443346AJJBEII854333333333322222233333458GH99CB867DGA54445459DB6543323454324457BHF866BFB543567BDD96444555678GD78BCA644443344433222333349HG75544358HHC64344323468IJ9HID754333333333322222233333446CIFED7668FF643344445ADB6443234543234567GIB77GG744458CDA765444444567975559CB64543344433222333336EHB655446BHG743344323458FKFIEEB544333333333222223333333468HJF9556EF94333443346ADA543234543234556AIH8AGF54458DD866543334444567533458CB75544554432223332358HG865549EHC632334323459FOMH9BC854333333333222223333333458EJI8559GF642233433456BC9543345432344557GIBFGA5458CB76555433344445564223457AB8544554432223332246CHD7666DGH9532334323459FQNB76BB7543333333322222333333446BEEIC56FG84322334333567BC743445422344446AIHHG7559BA7655544333444445532223455AC9546554322233322358HH977BEHG7422334333458DNF7556BB643333333322222333334458DD9HG79GE543223333334557CC644554223444457FIHD669B9655555443334444444322234445BC858654322233322356CHF9BCBHF53223343334579F854447BB5433333332222233333446CC87AFEFG84322233333345558CA44554323444446AII97AB855554454433344444442222334446BB8D7643222333223458HJBECBGD53223343334467A5433349C843333333222223333445AC8666DFGE64322233333344555AB855543234443468EG8AB84444444544333444444422223333456ACDC754222333223457DJGF8DGA4322334333445684333345BB64433333222223333458CB55557FG8532222333333444456BB76643234443457ABBC9443444445443334444444222233333456BBD9643223332234569JJC7FF742223343334456743233347BA543333322222333456CC654445AC64322223333334444457BB76532344434579CDA533344444444333344444322223333344467DD74322333223456AGJF7GF6322233433344566322333459B744333322223334459C954434467543222233333344444458CA753234443457BFC64333444444443333444443222233333343469DB5322333223457EGJI8FE5322234433344566322323346BB6433332222333457CC644333345432222233333344444445CD964344443469EE743223444444443333444443222233333333467DD743333322345AEDEIDFD43222344333445563223233447B953333222333445BC85433333454322222333334445444448ED7434454447DE95332234444444443334444432222333333323568DB53333322357CD99HHGB43222344433445553323333344AB64333323333458CB64433333343322222333334455555457DFB64445545BDA64322234444444443334444432222333333323556BC7433333345AC977DIIA432223444334455533333333336BB533332333446CC75433333233332222333333445566667ACGF85555559DB7533222344444444433344444332223333333235567CB444333347CC6669JK9422223444344455533333333334AB743333333458CB5443333322333222233333345667ADEEFGIGC765668BB76532222344444554433344444332223333333235556AB74443345BC86557EI74222234443445555433333333336BB5433333346CC7544333332233322223333444568CFD9678EIF97678BB7654322233455455544333444443322233333332255556BB6544458CB655568D532222344444455554433333322349B7443333459CA554333333223332222333444568DGD654569EHE988DC755443222345565665544334444433222233333322555559B965567DD86544569432222344444556665543333322245BB54333346CC754433333322333222233344567DGD75434579EHFADE8555432223456788876654334444433222233333322555556BC7679BEC765544574222223444455678986543333222348B84433459CA65444333332233322223334567CGE8643234679FIGGC6444433233469EFFFC9765444444433222234433322544445ADA8CGGHD9765444642222234555568BFGFB654333222335BB643346CD76554443333223333222334457CGE86543234567CGIHA64544433456BFE97BFGC865444444332223344433235444447DEDGEECGFB6544453222223456679EGE9BEC654332222348B944459DB7665544443322333322233456CGE8765432345568FGIG8555544457DFC76568CGFB6555544432223344433235444446CFHEED88EF96533532222345678DGFA766BEC65433222335BB6446DD8899865544433233332233456AFE87654433344556BBBGE8666557AEE965445678DFB6555544322233444332354444469HHCD9668FE75435322223467BGFB876556BEC65432222348B955ADB9EGFFC8655433333333233458FF8766544333444457889DEA78ADEDA66554345667BEC76554432223344443345444446DHFEC6545CF9643432222357BGE876654456BEC6532222235BB67DEAGGB8BFFC8654333333333457EF966655443334444567766BFFFEA765554433345566AEC7654432223344444455444457GHED844448FE64343222346AGF86655544456BEC6432222348CAAECHG96668BFFB6543333333346CFB7655554433344444566545898654444444333455556BFD76543222334555569544445BFCDB543346DF95342222358GG9655554444456BEB543222235CDEFHF96555668CFB644333333459FD765555544333444445554345654333334433334454446BFD76543223455679DE544456EF8875433358FE644322347EGA76555544333456CE9533222349EFHF8655445567DFA5443333457FF86555555443334444455543345443233334333344444346CGD76433235679EEB7545569ED7654333346DF85532346CFB7655444443333457DE843222357EHG865544444557EE954344456DF9655555554433344444554433444322233343323444433357CGE96543468DFD85555556EE865443333458FE753345BEB766544444433334457ED74323358GG96544444444557EE8544557CEA65445555554334444445544333443222333333234444323457AEFEA657CFFA754455569FD655433333346AED8446CEB76655544444333334458ED643446DGB754444444444558EE7557AEEA654445555554434444445544333433222333333234444322356678ADDDEEB7654445567EF854443333234569EE87DE96655555444443333334458DC5568CFB75444444444444559ED7AEEB765444455555544344444455543334332223333332334443223455555567876654434567BFD6544333332334557CEDC7555555554444433333334459DDDDDC9764444444444444456AEFEB7655444445555554444444455554333433222333332223444322344554444455554433467AGF85444333322234445666544455555544444333333333457876555554344444444443445677765444433445555554444444555554333433222333332223444322334444333344444433479GG96543333332223444444443344555554444433333333334444444444334444444444333455555444433344555555444444455555433343322233333222344432233444433223444443349GGA6554333333222333333333334455555444443333333333333333333333444444444433344444443333334455555544444455555543334332223333322234443223344443222334444444FHC76544333333222333333222334455555444443333333333332222223333444444444433334434333333334455555544444455555544344332223333322234443223344433222334444444IE976544333332222233333222234455555444443333333333222222222333444444444433333333333333334455555544444455555544444332223333322234443223334433222334444444IE976544333332222233333222334455555444433333333333222222222233444444444333333333333333334455555554444455555544444332223333322234443223334433322334444444DGD865443333322222333322223344555554444333333333332222222222334444444443333333333333333334555555544444555555444443322233333222344432233344333223344444448CFC765443333222223333222233445555444443333333333322222222223344444444433333333333333333345555555444445555555444433222333332223444332333343332334444444467BFC765433322222233332222334455554444433223333333222222222233444444444333333333344333333445555554444455555554444332233333322334443323333333333344444444557BFC764433222222233332223345555544433332233333333222222222333444444433333333334443333334455555544444555555544443322333333223344433333333333333444444444457CFC754333221222333322333455555443333322333333332222222223334444433333333333344433333344555555444445555555544433223333333233444333333333333334444444444467CFC754332212223333223344555554433333223333333322222222233344443333333333333444333233445555554444455555555444433233333333334443333333333333344444444444567BFC754322122233332333445555544333322233333333322222222333444333333333333334443332234455555544444555555555444333333333333344443333333333333444444444445667AEEA652222222333333344555554333332222333333333332222233344433333333333333444333223445555554444455555555544433333333333344444333333333333344444444555666778ADDB2222222333333344555554333332222344444444433222233344333333332233333444433233445555554444455555555544433333343333344444333333333333444444445B9877777767882222222333333345555554333332223345555555554332333334333333332233334444443334555555554444445555555554433333444444445554433333333333444444455FGHGEB98766552222222333333445555544333332223456789ABBA86543333333333333322233344555555455666666554444445555655554443344445555566665544333333333444445556679DGIIFA7655332222333333344555554432233323457BGHHGFEGGE9654433333333333222333456678999ABB98776654444445555655554444444556677888777654433333334444555667445679CHIGB7544333333333334455555443223333469GHE9776679EGFA6544333333332222334568CHHHGEEEHIGB98765444445555655555444556679DHHHHHGFC97554433334444556679C33456678AEHGC865444433333444555554432234457DHFA7555445567DGC6544333322222233457AGIE9765567BGJID976444444555665555555678BFIHC9ABCDFIID8654444444456679DII22345566668BFGFC8655443334445555543323456AGGB7654444344446DGB65433322222223468EHGA7654344568AFJIB75444445556655555567CHIFA866667779DHHD865555455679DIIE922334455555568BFGFB765444445555554433357DGD7655443333333347GH965433222233346BHHB76544333345678AGID755444555565555678EIF97665555566678CHHD97665679DIIE97622334444444444568CGGC865555555555443447FGB654443333333333358HH8643322223446DGD865544332233455678DHF8655555556666679FIE86654444455556667BFHGD978DIIE976652233444443333334557BGHC876666666555458GG95444333333333332345AHG75432233457EGB65544433322334455567AGGA6666666666679GID865544444445555555568CGHHIIE9765544323344444332223334557CHHD98777676666AGF8543333333333333322346BHF754333458GG965444433333333444445567EGD8776666778AHJD8654444444444444444445679AA97655444433334444333222223334557CHIGC988889AEGE754333333333333333333456CHG854445AGF85443333333333333444444456BHHD9877789BIJC86544444444444444433333455666554443333333444433222222223334568BGJIECEHIIFA64433333333333333333333456AHHA669DGE75433333333333333344444333457CHIEA8ADHJIB86554443334444444433222334444444433333333344433322222222223345568AFIIHEB8654333333333333333333333344568FHFGGFB75433333333333333333443333334568DIIIJIGC9765544433333444444433222233333433333333333344433322222222222334456788887665433333333333333333333333345567AA98765443333333333333333333333322344578BCA987765544443333334444433322222333333333333333334433332222222222223344556666655433333333333333333333333344556777666655443333333333333333333333223334566776665554444333333334444333221222333333322223333333333322222222222233344555555544333333333333333333333333455679AAAA9987554444444433333333333333323333455555555444443333333333443332222222233333222223333444333322222222222233344555555544433333333333333333333333679BCCA9999ABCB97655544443333333333333333333344444444444433333333333333332222222223332222223444444433332222222222333445556666655544444444444444444444444CCCA76555555679BCC97655554433333333333333333334444444443333333223333333333222222333333332333555555444433333333333344566677777777665555555444444444444444986655544444555679CCCA7664443333333333333333333334443333333333233334444433333333334444433444666666665555444444444556789ABDEFFFECA98777666655555444444444665555444444445556679CDCB4444333333333333333333333333333333333334444555555444455555555555667FEEDCCBAA9887776666668ACFIJJIIHGFFHIJJJHGDB98877666666555555655555444444444555566689A444444433333333333333333333334444444444556667777788899ABBCDEEFFGGHHDDEFGGHHHHIIHHHHGGFFGIIHECA9888888889ABDGIJJJHECA999A98876666666555555555555555556666444444444444333333333344444444455555668ADFFGHHHHHHHHGGFFEDCBBA988876666777777788899AABBB9877666666666677778899BDFHJKKJIGFDB988777777766666666555555555655444444444444444444444455555566679BDFHHGECBAA998877666655555444444444555555555555555555665555555555556666667778889ABFJOPPMIGDCBAA999888888777776666666665555555555555555555556666789ACEGHHGEB87655555555544444443333333333333344444444444444444444444555555555566666667777889ABDGHJKKLLLKJIHFEDCBBAA999888887777666666666666666677789ACEFHIIHFDB976554444444433333333332222222222223333333333333333333444444444555555556666666666777788999AAABCDEFHIJKLLLLLKKJHGFDCBAA9988888888899AACDEGHIIIIGECA987665554443333333333322222222222222222223333333333333333333344444445555555566666666666667777888899999AAAAABBBCCDEEFGIJKLLLKKIHGHHIIJJJJJJJIGFDBA9877665555444433333222222222222222222222222222223333333333333333333344444445555555666666666667777777778888888999999999999AAAAAABBCCDFFFFEDDCBBAA98877666655554444333333322222222222222222222222222222222223333333333333333344444445555555666666667777777777777888888888888888888888888999999999888887777666655554444433333333222222222222222222222222222222222222222333333333333334444444455555566666666777777777788888888888888888888888888888888888777777666665555544444333333333322222222222222222222222222222222222222222333333333333344444445555555666666677777777888888888888888888888888888888877777777766666655555544444443333333333222222222222222222222222221111222222555555556666666666677777778888888999999AAAAAAABBBBBBBBBBBBBBBCCCBBBBBBBBBBBBBBAAAAAAA999999988888877777776666666666555555555555555555555444444444444444433333333344444444455555555666666777777888888899999999999AAAAAAAAAAAA9999999999988888887777776666665555555544444444433333333333333333333222222222222222222222222233333333334444444555555566666677777778888888889999999999999999888888888777777766666655555554444444333333333322222222222222222222111111111111111122222222333333333344444445555555666666777777788888888899999999999999998888888887777777666666555555544444443333333333222222222222222222221111111111111111222222223333333333444444455555556666667777777888888888899999999999999888888888877777776666665555555444444433333333332222222222222222222211111111111111112222222233333333334444444455555566666667777777888888888888999999998888888888887777777666666655555544444444333333333322222222222222222222221111111111111155555555556666666666777777788888889999999AAAAAAAABBBBBBBBBBBBBBBBBBBBBBBBBBAAAAAAAA999999988888887777777666666666655555555555555555554444444444444444444333333333344444444445555555566666667777777888888888899999999999999999999888888888877777776666666555555554444444444333333333333333333332222222222222222222222222222333333333334444444455555556666666677777777777788888888888877777777777766666666555555544444444333333333332222222222222222222222111111111111111155555566666666666667777777778888888899999999AAAAAAAAAAAAABBBBBBBBBBAAAAAAAAAAAAA999999998888888877777777766666666666665555555555555555555555555555555555333333333333444444444445555555556666666667777777777788888888888888888888777777777776666666665555555554444444444433333333333333333333333333333222222222222222222222222223333333333344444444445555555555666666666666666666666666666666665555555555444444444433333333333222222222222222222222221111111111111111111133333333344444444444444555555555556666666666667777777777777777777777777777777766666666666655555555555444444444444443333333333333333333333333333333333333AAAAAAAAAAAAAAAAAAAAABBBBBBBBBBBBCCCCCCCCCCCCCDDDDDDDDDDDDDDDDDDDDDDDDDDDDDDDDCCCCCCCCCCCCCBBBBBBBBBBBBAAAAAAAAAAAAAAAAAAAAA99999999999999999999999999992222222222222222222333333333333334444444444444445555555555555555555555555555444444444444444333333333333332222222222222222222222222222222222211111111111122222222222222222222222233333333333333334444444444444444444444444444444444444444444433333333333333332222222222222222222222222211111111111111111111111111", "b4": "888888888888888888888999888987AA99768A6699767BD848AA8888878BA747A997767CC74579CC88967A869B57A66B96AB9B957A997989898898888889988888888998888888888888888888888888888889889998889879BA9867A86888669CA57AA9888878BB657A997778DB5468BCA66758A86B949859B87CA8845AA987989888898888888988888888898888888888888888888888888888889889998889877A9AA86A96788548CC569A9889779CB648AA97769CA3589DB856669867B76A77C989B76659B9888979888888899888988888888898888888888888888888888888888889888998899886899B968A7789646BD758A9899769DA649BA8766BC7359BDA64778A75996AA7AC78A7566AC98888978889888899888988888888898888888888888888888888888888889788888899997678BA77B988A745AD958A98A976ADB559B97667CC525BCC84478AA65A77C98B9698578ACA688999788898888998888888888988888888888888888888888888888888888888888999A86679A86BA88A9538DA57A9999769DB469B97568BA429CCA64688B968B79C79A66977ABB96688999788898898998888888888988888888888888888888888888888898888888888998AA7667996AA98AA626CA669999A769DB55AB96569B934DCB84479AB77BA8B96975898ACA955898989888898898899988888888988888888888888888888888888888898888887888998AB98568978A98AB735CB669A98A76AD965BC8567AC837DC95359BBB79B98A76867A9ACA7549A989888978988988899988888889888888888888888888888888888889988888878889989BBA767987998AB944BB668B98A87ADA65AC7678BC649DC8448BCB98A878857779B8A96559C9889889978888988889988888889888888888888888888888888888889988888878889878ACC8778878A99CB739C668B99A989DB66AB7679BA55BDA647BDC989A67965889B989557ADB77888898788888888899888888898888888888888888888888888888899888988788898778ACA978877998CD937B8679A99A89DB67AB867AA947DC8459DCA87785795799BA77747BDC7588898988888888888999888889888888888888888888888888888888998889887898988767BBA87886988BEB46B9568BAA98ADB66BA767AA859EB547CDA876675886AAAB86767BCB647988989898888888889898888998888888888888888888888888888889888898888988887558AB97896877AEC65AA568BBA98CDB57BA668BB75BEB459DC8556776989C9996789BD9536AA989888988887888898988889989888888888888888888888888898888888989889888986467A988A77668CD859A568ABA99CEB58BA668CB66CD736BDA5456878BACB88669ABB9436BB9989888A888878899989888899898888888888888888888888888988888888898888889995558A89A86556ADA58A658AAA99BEA59CA65ACB78DB338CB7446788BBAB86668BAB7547BCA8889899A888888899889888998898888888888888888888888888988888888898888889AB9646988A976558DB67A7579AAA9BEA79D967CC979D924AD9445899ACB975567BB88458DC9878798999888888889888888998888888888888888888888888889988888888898888889ACC956888AA87546BB67A8559ABBACEB89C968CC75AC735CD7248ABABB9645789B96549CD757877989888888888898888889988888888888888888888888888899888888888888889888BEC86888AA986449B7698658ABBADFC89A968BB76BA438CB526BCBBB875469AB87578CC83599779898888888888978888898898888888888888888888888888998888898888889998779DDB87889A997437A7688767ABBBDGD9AA978BB87A834AC744ADD99965679CBA567ACB7459B97898888888888889788888988988888888888888888888888889988888988888898987669CCA887899A8535987897669ABCEGDAAB979CA779746BB537EEB777567ACDA857ACB756BB9888888888888888898888889889888898888888888888888888899888899888888989886459BB887899BA744897897668ACDFGEABB889B9789647B955BFC8665579DCB778ABA747BD967887888988888878888898888898888988888888888888888888998888998888989898875358A987789CBA54698997568ADEGHFBBC889A9789549C868EE9656579BD9857AB8746BDA5588778899888888798888988888988889888889888888888888889988889989889898989974459987789CCC746A8998579BDEHJGCBC88AB977756BC76BEC645679BB96558A9556AC954798778999988888898888988888988889888889888888888888889988889989889998889AA8538A87778BCDA57A9899669BCEIKGDCC88CB866658CB77CC83267ABB8645799757AC9548998888989988889888988888888888889888889888888888888889988889889889998889BCC847998877ACDC78AA899668BDGJLHDDC99B9658669DA78CA4239ACCA556899767ACA659CA89988989989899888988888888888888888889888888888888889888889889889888888ACEC789999768ADDA89A999668BEHKLJEECA9A856868BD97AB7237BCCA767ABA878BBB659DC8799888888998998888888888898888888888898888888888888888888888998888889778AEDA989AA8668CEB99ABAA778BEILMKHFCAAA746769CC78BA536BCDB868BCDA88AB9758BB767999889888989988889898888988888888888988888888888888888988888988888897767ACCA89AA9756BEC99ABBB878BFIMNLJGDAA9856778CA78A955ADCA866ACDB88ABA556A9646899988988898888888989888888888888888898888888888888888899888898888889775459BA889A97558CDA99BCB868AGKOQNKGEBA9765879B9789647DDB7558BBA868BA7469A646999888898889888998898988888888888888889888888888888888889988888888888987642599888998546ADB99ABB977AGLQSOKHFC9966578BB868956BEC84469A974589866AB867BB988888888888888987989888888888888888898888888888888888899888888888889888634788778885448CA899BA988CHMRTPLIFCA96568ABA668868DC8545898743687689BA89CCA88888889888988898788988888888888888889888888888888888899888888888888889AA75678767787535A9889AA998DHNSUQMJECA97589A9855788BDA5468AA654688679BA89BC9878888889888888898888988888888888888888888888888888888899888887888888889BDC8678776788634787789AA89DIOUWSOJFCA877889865688ABC8468BC9557AA988A9679985687888889998888898888888888888888888888888888888888888889888887889888889BEFB98887689A843576679AA89DJPWYVQLFDB978888865787AAA547ACC878BDBAA9975796557989888899988898988898888888888888888888888888888888888898889888898888889BEDB988879ABA634656689979CJRXaXSLGDB9889A97658889A7459CCA89CECBAB986788579AA898988899888989888989888888888888888888888888888888888988898888998887767BCBA8999ABCC743545678989CJSZcZTLGDB99AAAA76679889447ACA799CC9899888A998BCA999898889898888888898988888898888888888888888888888888888889888889888765368AA89AAABCD963445668999DKTbeaTLHDBAABB9977889997459B97688A96567779B9AABA97998988898988888889989888888988888888888888889888888888888898888898888752258999ABAABDA7434566999AELUdhcUNHEBCBCB9976AA999658BB7557775545567988998777998987889988888889989888888888888888888888889888888888888898988888888864236899AA98ABB854556689ABEMVfieWOGEBDBCCB977ABA9867AB9666755356677785687557788888788998888888998988988888888888888888888988888888888889898888888999865689999878ABA76656679ACFNXgjfXOGEBCCDCB9899AA9779BB767886558A9A987477668998888889899888888899888898888888888888888888898888888888888989887888899CCB97888877668BB98767679ACFNZilhYOHECBDDDA88AAAA989ABA679AA88ACCCCB887899ABB98988889899888888889888898888889888888888888898888888888888889887888899CEECA8777566579BBA887679ACGObknjZPHDBCDDDB78ABA999BB9878BCBBCDDCBBB9ABAABBAA88998988899888888889888898888899888888888888898888888888898889887888799BDFDB8765455468CDBAA8778ACHQcmplaPHCBCCDCA89B9999AAB978ACCBCEDA97899BCBAA9787899898799988888887898889888889988888888888889888888888889888888888878789BBB9765456468CDDCB8777ADIRdnrmcPGCABCDCA9AA8999A9A879AA99AC96555689988765788998887989888888878988998888899888888888888898888888888898888888888886546799776567678BDEEB9878AEISepsndPGBABCCB9A99888899876997677864454566666666998997897998988888879888998888899888888888888898888888888898888888888886422478888889888ADEECA879AEITfqvodPGA9BBBAAA99766689777886354446788766557799AA889789799899888887988899888888988888888888889888888888889888888888888753236899AABBA989CDDCA9899DJTgrxqdQF9798989999665677688986443459BCCA888899AA9A8897898888898888889888988888889888888888888898888888888888888888888998876578AACCDDB988BBCBA9899DJThsxrdPE966778889877678678998777568ADDDCABBAA98788889889888889889878989898888888988888888888889888888888888888888888899AABB999ABCCDDCA8799ABA9989DJTitxsdPE9556678898778786789988AB9AAACAAAABBAA86577889889988889989878989888888888888888888888889888888888888888888888899BCEECA99ACBCCB98778899999AEJUjvyteQD753546789777777788999ACDDDC985577898876688889888987889989878989888988888888888888888889888888889888898888888889ACEEDB989A9999986566899AABEKVjwztfQC54233458878888788998ABCDDDB7533455557999A988898898788898987888988898888888888888888888988888888988889888888988999ABAA9878777787645479ABBBEKVjw+tfPC6322245778999A899998999AAA96645555557ABBB98889889888888888888898889888888888888888888898888889899888989988898888656688866555677644468BBABELWjw+tgPD6321245679ABBB9A988787675677999988888998988889789988988888878898889889988888888888888898888889899889989988898787422467855444567733368BAABFLWkw/tgPD5211234688BCBAA9878766343479DDCDBBCB986567888A78A998988988878898889889988888888888888898888889899889989988898787422467855444567733368BAABFLWkw/tgPD5211234688BCBAA9878766343479DDCDBBCB986567888A78A998988988878898889889988888888888888898888889899888989988898888656688866555677644468BBABELWjw+tgPD6321245679ABBB9A9887876756779999888889989888897899889888888788988898899888888888888888988888888988889888888988999ABAA9878777787645479ABBBEKVjw+tfPC6322245778999A899998999AAA96645555557ABBB9888988988888888888889888988888888888888888889888888889888898888888889ACEEDB989A9999986566899AABEKVjwztfQC54233458878888788998ABCDDDB7533455557999A9888988987888989878889888988888888888888888889888888888888888888888899BCEECA99ACBCCB98778899999AEJUjvyteQD753546789777777788999ACDDDC985577898876688889888987889989878989888988888888888888888889888888888888888888888899AABB999ABCCDDCA8799ABA9989DJTitxsdPE9556678898778786789988AB9AAACAAAABBAA865778898899888899898789898888888888888888888888898888888888888888888888998876578AACCDDB988BBCBA9899DJThsxrdPE966778889877678678998777568ADDDCABBAA98788889889888889889878989898888888988888888888889888888888889888888888888753236899AABBA989CDDCA9899DJTgrxqdQF9798989999665677688986443459BCCA888899AA9A8897898888898888889888988888889888888888888898888888888898888888888886422478888889888ADEECA879AEITfqvodPGA9BBBAAA99766689777886354446788766557799AA8897897998998888879888998888889888888888888898888888888898888888888886546799776567678BDEEB9878AEISepsndPGBABCCB9A9988889987699767786445456666666699899789799898888887988899888889988888888888889888888888889888888888878789BBB9765456468CDDCB8777ADIRdnrmcPGCABCDCA9AA8999A9A879AA99AC96555689988765788998887989888888878988998888899888888888888898888888888898889887888799BDFDB8765455468CDBAA8778ACHQcmplaPHCBCCDCA89B9999AAB978ACCBCEDA97899BCBAA97878998987999888888878988898888899888888888888898888888888888889887888899CEECA8777566579BBA887679ACGObknjZPHDBCDDDB78ABA999BB9878BCBBCDDCBBB9ABAABBAA88998988899888888889888898888899888888888888898888888888888989887888899CCB97888877668BB98767679ACFNZilhYOHECBDDDA88AAAA989ABA679AA88ACCCCB887899ABB989888898998888888898888988888898888888888888988888888888889898888888999865689999878ABA76656679ACFNXgjfXOGEBCCDCB9899AA9779BB767886558A9A98747766899888888989988888889988889888888888888888888889888888888888898988888888864236899AA98ABB854556689ABEMVfieWOGEBDBCCB977ABA9867AB96667553566777856875577888887889988888889989889888888888888888888889888888888888898888898888752258999ABAABDA7434566999AELUdhcUNHEBCBCB9976AA999658BB755777554556798899877799898788998888888998988888888888888888888888888888888888889888889888765368AA89AAABCD963445668999DKTbeaTLHDBAABB9977889997459B97688A96567779B9AABA97998988898988888889989888888988888888888888888888888888988898888998887767BCBA8999ABCC743545678989CJSZcZTLGDB99AAAA76679889447ACA799CC9899888A998BCA999898889898888888898988888898888888888888888888888888898889888898888889BEDB988879ABA634656689979CJRXaXSLGDB9889A97658889A7459CCA89CECBAB986788579AA8989888998889898889898888888888888888888888888888888889888887889888889BEFB98887689A843576679AA89DJPWYVQLFDB978888865787AAA547ACC878BDBAA997579655798988889998889898889888888888888888888888888888888888899888887888888889BDC8678776788634787789AA89DIOUWSOJFCA877889865688ABC8468BC9557AA988A9679985687888889998888898888888888888888888888888888888888888899888888888888889AA75678767787535A9889AA998DHNSUQMJECA97589A9855788BDA5468AA654688679BA89BC98788888898888888988889888888888888888888888888888888888899888888888889888634788778885448CA899BA988CHMRTPLIFCA96568ABA668868DC8545898743687689BA89CCA88888889888988898788988888888888888889888888888888888889988888888888987642599888998546ADB99ABB977AGLQSOKHFC9966578BB868956BEC84469A974589866AB867BB988888888888888987989888888888888888898888888888888888899888898888889775459BA889A97558CDA99BCB868AGKOQNKGEBA9765879B9789647DDB7558BBA868BA7469A64699988889888988899889898888888888888888988888888888888888988888988888897767ACCA89AA9756BEC99ABBB878BFIMNLJGDAA9856778CA78A955ADCA866ACDB88ABA556A9646899988988898888888989888888888888888898888888888888888888888998888889778AEDA989AA8668CEB99ABAA778BEILMKHFCAAA746769CC78BA536BCDB868BCDA88AB9758BB7679998898889899888898988889888888888889888888888888889888889889889888888ACEC789999768ADDA89A999668BEHKLJEECA9A856868BD97AB7237BCCA767ABA878BBB659DC879988888899899888888888889888888888889888888888888889988889889889998889BCC847998877ACDC78AA899668BDGJLHDDC99B9658669DA78CA4239ACCA556899767ACA659CA89988989989899888988888888888888888889888888888888889988889989889998889AA8538A87778BCDA57A9899669BCEIKGDCC88CB866658CB77CC83267ABB8645799757AC9548998888989988889888988888888888889888889888888888888889988889989889898989974459987789CCC746A8998579BDEHJGCBC88AB977756BC76BEC645679BB96558A9556AC95479877899998888889888898888898888988888988888888888888998888998888989898875358A987789CBA54698997568ADEGHFBBC889A9789549C868EE9656579BD9857AB8746BDA55887788998888887988889888889888898888898888888888888899888899888888989886459BB887899BA744897897668ACDFGEABB889B9789647B955BFC8665579DCB778ABA747BD9678878889888888788888988888988889888888888888888888889988888988888898987669CCA887899A8535987897669ABCEGDAAB979CA779746BB537EEB777567ACDA857ACB756BB98888888888888888988888898898888988888888888888888888998888898888889998779DDB87889A997437A7688767ABBBDGD9AA978BB87A834AC744ADD99965679CBA567ACB7459B978988888888888897888889889888888888888888888888888899888888888888889888BEC86888AA986449B7698658ABBADFC89A968BB76BA438CB526BCBBB875469AB87578CC835997798988888888889788888988988888888888888888888888889988888888898888889ACC956888AA87546BB67A8559ABBACEB89C968CC75AC735CD7248ABABB9645789B96549CD75787798988888888889888888998888888888888888888888888888988888888898888889AB9646988A976558DB67A7579AAA9BEA79D967CC979D924AD9445899ACB975567BB88458DC9878798999888888889888888998888888888888888888888888888988888888898888889995558A89A86556ADA58A658AAA99BEA59CA65ACB78DB338CB7446788BBAB86668BAB7547BCA8889899A88888889988988899889888888888888888888888888898888888989889888986467A988A77668CD859A568ABA99CEB58BA668CB66CD736BDA5456878BACB88669ABB9436BB9989888A8888788999898888998988888888888888888888888888889888898888988887558AB97896877AEC65AA568BBA98CDB57BA668BB75BEB459DC8556776989C9996789BD9536AA9898889888878888989888899898888888888888888888888888888998889887898988767BBA87886988BEB46B9568BAA98ADB66BA767AA859EB547CDA876675886AAAB86767BCB6479889898988888888898988889988888888888888888888888888888899888988788898778ACA978877998CD937B8679A99A89DB67AB867AA947DC8459DCA87785795799BA77747BDC75888989888888888889998888898888888888888888888888888888889988888878889878ACC8778878A99CB739C668B99A989DB66AB7679BA55BDA647BDC989A67965889B989557ADB7788889878888888889988888889888888888888888888888888888889988888878889989BBA767987998AB944BB668B98A87ADA65AC7678BC649DC8448BCB98A878857779B8A96559C988988997888898888998888888988888888888888888888888888888898888887888998AB98568978A98AB735CB669A98A76AD965BC8567AC837DC95359BBB79B98A76867A9ACA7549A98988897898898889998888888988888888888888888888888888888898888888888998AA7667996AA98AA626CA669999A769DB55AB96569B934DCB84479AB77BA8B96975898ACA955898989888898898899988888888988888888888888888888888888888888888888888999A86679A86BA88A9538DA57A9999769DB469B97568BA429CCA64688B968B79C79A66977ABB9668899978889889899888888888898888888888888888888888888888888889788888899997678BA77B988A745AD958A98A976ADB559B97667CC525BCC84478AA65A77C98B9698578ACA68899978889888899888888888898888888888888888888888888888888889888998899886899B968A7789646BD758A9899769DA649BA8766BC7359BDA64778A75996AA7AC78A7566AC98888978889888899888988888888898888888888888888888888888888889889998889877A9AA86A96788548CC569A9889779CB648AA97769CA3589DB856669867B76A77C989B76659B9888979888888899888988888888898888888888888888888888888888889889998889879BA9867A86888669CA57AA9888878BB657A997778DB5468BCA66758A86B949859B87CA8845AA98798988889888888898888888889888888888888888888888888888888888999888987AA99768A6699767BD848AA8888878BA747A997767CC74579CC88967A869B57A66B96AB9B957A99798989889888888998888888899888888888888", "b5": "675634556773556558644766745866555757665468577668774587355567785557864345535677686566AGJOYefZTLJB876676655456567655C556668754445663557446753556456467745765564474676456466656745766945655768655475875958557676753577677656756355545576757654BGKPXeeaUMHC8684684474565656777767675674546546455665556544664757664765464654766745647646665556866466784655566958776755776566369466766644635555666767565BGKQXeeZSOIA7875745555567565676775874667664537556664366635566568565655557535667474457745755655676568576564755886668574568556665578567554475566566664756BGKRXeeZSNGB7766647556467764667667845746654653666655456455565687647665485546566655567567466555855686457657576776668756647854774395765573357656474754566BFMPYeeZSNGC8658564655764567577756857467574456656654645547563776656466655565656636664765566455845866657477676667578765756766576657674566347865557555566BILQYeeYSLIA6567844677664357757656756564566626655674464475556656576447655666745483666565645646767656558657875756676776756647668656665448547694556554556DGMRaeeXTKG97476764866654457767646845764448755746656444666466456676465466558454657465656555646685654665775877658447857675564767575484545758668547545568DHLRafeXTJE84865488475745564758666656653647657576556535763746554776754466666556553656564645545957565564676869666755865857566559467456455795656737554677CHNTaeeXQKD87675587465575844667475468355564585675545647657655646775555556765465465457646754457656855555678569755775594765767556855844556787764475554668BJNUcfcXPJB97667756756558355756476576564654667464744575585556447758656555675536555455556674647564595565767658576856479566676745675565567876943467555468DIOWbhaXNJBA4587555775655566556573577556645645755655566766455638564666665566555555553555766545755477558657668456875668765776665566656668677674555865458DJPYcgbUNHA95766565857745666467654766448456546656656566746655577653556746537554465555355767566473548765758566775469668774677664664764685776747356675469CLQYdebUMFB77756556577744655485665646564745475555847766565565677536646666545753555554547554855664639675487656866459776676377567665566767776754656548579EMQYfeaSLDB68474475567665554668666536647555556446676755564577666545574576565556355544563556566546476766567667765557687584676746766657754967665485555869FMVYfeZTJCA76666556576646465668666347555375555563777464555487664665656555665455565354744664575546757666855676774575885677765656676666666678576557647789FNVcefWQIC857566565664855556676557565554565457647566656445776664665566545656545565445555546566656668557665756684656758677757473876758376569485555766789HPUdfdWOHA684558555654773458557665765555454675657555646456856636566674554736655346654645355655566759467368655688344866777737566866786555748956655586868JSWdgdVLEA756548754585675765567655764653557555864554555687565574765664565464565445556453445655567569574656666498444775868564766768847735566A6666666867CITaefcUHE785475945557646765457746565664565643677564544578473556666656555543646565456554433566556744978556358675963356479685577488686766446788756767578CLUbgfZQGC775738665458556773656575564666644546567744554757745365765785655535544666563555544337566565589454746876866436658867657678678566555678778575679DNWbhfZMG9766566765466647746485364764675643566466655548566554746666548564554554646654435654434765386588546467786864646556968565795787655756476887756788FPacgfVKE8666764764657457735856464874556554664566557556555357474657666754553465465656325635543745349964755485769674565756876847687977565675756897667778HRbfgeSJA964765665746666675675655765573554655646656566644546565745667656553644564644664455446564454878557565665A766456666867676776975765767648697568588KVdehbPGA865657576464667575757666456564654656466555746633464475656466756654464564444665546435655448687455765665975754667767585867866767666666867678759AMXeghXMD9765447746655675585667575636665665555666437645363456546566554665555538345545565544746345456587554775774777584577766469588757766775678565679688DPafggVJA866656584575767558684475565465755645666346475335446465464756456536655264446464555357635356547876456575677485685686547888776667677567666667788ADTcgicSFA756755566667755658663756473655675556474554573453474554527566643665565446353656435445764356437685655655777568656786657958876666677785668666689AHUgiiZMD9665665578678546685665574564666765456556354665434556544454566643665555653635554555464745554547675776555687486764785677868876567587777576856779BLYgkfWIB5785555778876455686655764565966554554765444665345465453553566555566446465454554455456744565456665677454786767675666797769586645869658659656878DOdhjfPE98577457678946547765754844568665553645745645555544555446335466555564643656545555453654764364555766686456578675567756987669758647775777676766988FSfliZMB74766675687676585666575655847654546465655653455535545354444644555555454364645555354554676375347676756645769567557876878677775767765785876776899IYilgUI85477667684768683567557558645673565564655744465445634644336544444554554444655556545554557556434658674384576857457667688696767479665867785786885CNamkcRC84857657875669764576675767456565557334656554654447435443356524545355455455456456554554466676445565864457756877645784968678766777946677875785886DUenjYIC58574577867689566566776565574656546436653573545465354433653344353434645435544647645355546786464654964457576679454796696678775955975568677776679HWlngSE89575657678577866767577465676457565445483275444655454433564335433433445445444437464654473668465555577566556758685558966777876A666876575887876779NbomdM98785567567876577776765846575554845444656445544645454253564434345434434464454345375646544567675555556585565666677557877567878886677677666A577687EPhqjXG956675857658846777777647567664476455376453365454555533466432534333434344454453445465755563775675645658673656657775769857567A97668687684676A57789HWnqfPD656568667577766685977556576556656446655553555555654243744434254332343434446444444546765474476566646667566566566776688766568978666787658666976789KcrmaJ765566667877766786678856666765646456564545644556654334735434343433333424443464445444565766657646675667466658456566768775576976975697847776758787CQitiUA765676658886476856877767756575546557454357534645643337455343433342333233443445444434465567566655756866456578657555896766668786778876795667758897FWpsbM86568756687756686687867857376555456665434753464556334835534243433333322333433534553434565676776457468755647876563737985767668794698767875767776A9JftmVE85676665873675868596798666775437467565545464463564366445343334323333233323443453464354544657686557677664567775566457696675595688778876667668667ADPnufM9496666786655568768787859587554547755654545645546346644453342433323322232233335445354435354668486675856765766676735686595777585597688867487766888HXtsVF667776778456536786976696768555555676546544664556536645454423423323333233232233344453653445356866848847665966558564587546877665968587967777775969AKhwmM97676758676556556988767867865456466656564454565555555535443343333333223223233233355453445444447857786767586557767486756467967556A6878777859648688ERsvaG6776577666764566795A67779885555558565665455546576455435453343233243323232222332334464434654544487498656878644886776575555798654947876677796477869IcxqPA7776576676674566887777688895457458655567345565684554543534333233333322133122232244545344465353566888675785747477848577565687847765878566A6847757BPnzfG8974765766766646858847867778666568466665554755686635443444333322422233232231233342445445445635446588867877459477476686754686769685666A65868786565FZvvUA87766746766864687667768777769855755467446675556775444444433332343232333223222223344345453543555566857877757768765565A8557747677956548588458966657Mj+mI78856755757667686668694768877497664655656568656675544344343233334322222132322223343344454435445466684778776667775558687676567587777475877746A75757Vt+XC7876566755766687667857668598565B6446556667665757555544543323324333232221232322333333435443546446665767678667649757469677766486784856668676754A668De+rM876776584675668676787565688786476A6545457765857754445454342223344323222222222323333334443444554447657776559965569755858576756796475677666776756A65Np/dC87865766666658666679754578868775669745676765775755444644433234233332221222114333324334343445455376575767666885557786946856577795657588556766574B6AYytP98956575666657846776A574578664A865587765767676575644555444333434233322121212233332434233444545346576676757657785476A665966465987674677666768565896Jl+iF6976576856477766669866755873876875566977467766666455454434334342332341122222214333343232443555365767666777654578666877777645697767685567756675778ASxvVB67A4668665676667568866766595865696546996467675675554544524524332332333122222232344333323444455545766766586463468875497777657687684965675585567686Gg/nJ85778457857765676685945768577857579564878756685765535453454444333333232321222322434332324444446546676667646456545A76387877567677678566746657657789PuybA5675A74378786547878576657778686466787758588747756464445445353334322322322222222334333224345335555766549465655646669677677859666758675766664765787Dd+qS9648698546977647688758466548A656457875956688866766446443544544334333222323323223242233334444435476765576645765566556958777876786776559647646666888Lp+fL5566778775497575869676675575867746859547785778866645454444454443333321223223323243233234444434365866565555666647666568787769459685556766685665787BYysVF7748586A76578866774787864667657785765757857578777544555534445554223322133222332333233343544444556855655366655685556447889668876976555757668565878JkyjNC57766597865678858555A948545766786785557885656A67844545464344374433223223233233342323332445245545765655554664668565555789577688876654667677666776ATsvZGA778657877875885A75667887555776677756568676668785685434455534545333233232232233324324334453455456656565454665575665455976976688966556548776757867GfuoRC788577767678777869666778655767566866659657658857668654445346335444333323232333323334334453436654646465545565676565446777688778887634764687659766BQmwfIA877677667669768966766875876775467667486584786675776864624545534544424322332333233343243444357436455465545565568445556855877877778655566877676866HasrWF9967866866775988785696476696665656577756566586745684775644452455354343323322333332433444534574447364564645456675554566764959694779386558766767589QhvjOD89677775777675B657976765856A73656467884555678566467484845563435454533433322333332433344453654356437436564456675555566674876968668666766865776466GXntcIA899577656967697858787676676895466537866654778456557567664653344446443252323332343344434547334366465446643457556554757475768686686665788656685649PdroVE76A86676576878667A768875567867766655756665676666566756656764534454364434513333334434433447333356555546455437654654757666767597678676678775765666FVkshQAA86696758566996478798665677964776664746747765566654675755676355444346534252432333443434473433465546654465555635565657576656794786666776868656568MaoqbK798568867586795776796A65756986677755665476666646476578464556663644354455443534333444334475334465555563355673364575465666566568877647945848667646ERfpnUG986776876668578676986875677866566866666557675545557666645564657345345444533442444343344735244654644563454754365664558565766676778577768485658588HYjpiPC88578488667578567967868747986457677765566558455546686646544565664553534555443434452244724345354743547427645456465556665586668586768588684567597BOdlnaNA6776686778556866867587768589754478677566446845456566775466345565554544345463445344345633355355554446454754346555556656658667467597676687556686AFVhlkWJ78775947687664788666787685957954576776676436866545458665545635465536454435636345442555433563373445555465644475556546276765766556696755975765768AKZjlfSE76A57766886855698566868679686776384876747647675743556675545553655564644444654654544564334643654546544765546456544763785576576547776768666776548EQekkbNA9778676777847758757768488868775576478655475757674446547744544545545646345456556335644444553553465445564656465546576674756666648466868856766756AIVhkhXIA6977676776857684676596778785776556669646557666675546546755545444654555544545654675553264445543455563556653734546686554764855775546969676467569BMbijfTG96876686577694766668578688767567676668565467756666437543856355435655455655465565357444455446354454745266744545476866543845665955457877764654959FRdkhdNEA677578657577866665688678773865568747775555677757455655466364463464454546465663556573555457554254664453865456584665653764657765457779575565669AKWgifZLB9975678566778766655778697666686567757767547466767536633575536346464535544756556366646454354743434665463666555755674654674478664676676764676577ENZihfVHC788676776766687756777697755668576667685657664666955644536663453573635455457464654566575464654534475464486645567457556666476865767576576566668AESchhcSE995976666775666767767787884556785495669468477546686754544636554546544553654563665555665655653453555843567646556564655574776685658556746754658ACIUfgfaPD967787668666676756767867687667767538579557566763786754555633635556553456355446565756464765455335656654575564756366464657567666666564666655666CCMYggeYKB86786697656667567559686767757765664575B566564665678654455633464356656366546436657665646665645444576565753656546465566736676666666655674667657BHOcgfcWK88775777956657657566969656666A46575545788767545755A8535465446366336464735653463576665664747455566547566554574545654685565486359536755575586668BKQdgfbRH9885668887665666666857966657786657356667866756348685844574343565444558364553644567656558465646658446566654754465764585645766478457564675747659EKWdgdaQEB855668667866565668667976566779466445685786574455B55575666434435563555655546445556776674644575783554358657455366745655655754768547636487556589GLZegcXOEA85766757887752666776697666568695664358676775564688546755565434554754555656435555566567655447877445455686446565376556646664566655575559465478BHQZgddTMD867576565797654467577586765658776774357946576555759466666466444446656444674555644565675745556964635564677556663375666566654774755764467656576FHSZheZUJD685865666589465556686685656468487586535883666745748666665565544464466435565574464667556565676565564657666754555465575665646844676565557655769EOUaffYSIB87756665675874674676759464657767777665586667666655766646656634555654464545656643755566456777544746666574755546554666655576765548566556666757CEMXcfcWRHC88655765666767666665776757557676687676468666648564857654584565537454546454565655466556546785546464867456565465455843666756564655774746565768DIPWdfcWNGA97754576557758747755658556667576759765556765865676774655666466365445554656655585456644766766475458667654645555555743666856455656776466574779DJQYdfaVNFB5676556655766857757565766559357676877346775577647794646566674566445555535764567574655476745755656766665456554746555656659455645677665556776BCMPZdgZTMF97448574474668667756566656676737767768556776476757685446564667556346464645673655765543667654555766665656655655575457745667556564757756565857ADNSZeeZRLFB4445865536578577574476556577566685756975586666395668445675476575544655464567447565646585556446767465654855655564566746657476655647665568548BFNTafeXPLDA5556486533787684657458664577756659665768567766856558746374637657545456556457565655775766465557566734575675735565467567357755376465675677657BIMWZgdXOJF86655468444777855554755776477746767755864787486755565875567445746566355555656765555647763655575675653477557646646376657557744756565678647677BIPVbfdVOJD86644573756758845555476386567566767865485695787656645666865554646664653664666657445766855564755664555567557676535674666675745653757468656678DIQVcecUOJE86554573485677583448348558755657666695477478777756565658755545566657466545386566455567666567465755455665755685355663785667675445665945847577EJRTdecSNHF74654565458685367346756676574664866685676575966577556667665654567565748444756554583458557664656546445675664666635665856647596334668745776679GJRVdebSOHD85556557545975456546676577557574585776676667677475655865855466566565763565656655766456666765565554634676565546656665757668567546766466585488GJRXcebSMJC77645756656685336466759447755684766677666776575576468665765466565667555467455458456574568646654566364666735555665764867776645667564583568789GMPYdeaTLHD75736747476557435667477647655667656576677865746558585657665755674767445775754466555646577665653565546475565546675657588577657385645555657769FMRXcfaRLHC65485775655554644756847667666566755676857957554756865655776556755674654576665645654746675656555556655576366537536756777767765756546546748769GMRXcfaSLHC736577767454544647666657675457666755857769576555767665559665557565664655576484355576647765664565447734755456654457777645A855766655456676386CFLRZcgZRLHB754687775634643458764577856654686448584785775655677555757666757546755575358745534666", "c2": "DGHEBEKMJFEECA8AFF936526ABB87767898788642589BCA66ACDB6336AA61369989BCA7776678977DGEDEEB6479853369ABCA9CC9536887526CGE9326864148A838DD936873459FHHEC9877DGGEBEKMJFEECA8AFF936536ABB86767898788642589BCA66ACCB6336AA62369989BCA8776678977DFDDEEB6479853369ABB99CC9636887526CGE9326864148A838DD936873458EHHEB9877CGGEBEKMKGFEDA8AFF936536ABA86767898788742579BCA669CCB6336AA62369989CCA8765678988DFDCEEB7479863369ABB99CCA636887526CGE9326864148A838DD936873348EHHEB9876CGGDBDKMKGFEDA8AFFA365369BA86667898788742579BCA669BCA6336AA6236998ACCA8765668988DFDCEEB7479863468AAB98CCA646887526CGE9326864148A848DD936863348EHHEB9776CGGDADJMKGFEDA7AFFA365369BA86667898788742579BCA669BCA6336AA6236998ACCB8765568988DFDCEEB74798634689AA88CCA646887526CGF9336863148A848DD926863348EHGEB9776CFGDADJMKHFFDA7AEFA466369BA76667898788742579BCA669BCA6336AA6236998ACCB8865567989DFDCEEB74798634689AA88BCA646887536CGFA336863148A848DD926863348EHGDB9766CFFDADJMKHGFDA79EFA466369BA75667887788743579BCA669BBA6337AA6236998ACDB9865567989DFCBEEB747986446899A77BCA646887536CGFA336863148A848DD925863348EHGDB9766BFFDADJMLHGFDA79EFA466469AA75667887688743579BCA669BBA6347AA6236998ACDB9865567989DFCBEEB747986446899977BCA646897536CGFA336763148A858DD925863348EHGDB9766BFFC9DJNLIGFDA79EFA466469A975667887688743579BCA569BBA5247AA6237998ACDB9865557989DFCBEEB747986446889977BCA756898536CGFA436763148A859DD925864338EHGDB8765BEFC9DJNLIGFD969EFA566469A965667887688753579BCA559AB95247AA6237998ACDC986445789ADFCBDEC747986446888866BCA756898636CGFA436763148A859DD935764338EHGDA8665BEFC9CJNLIGFD969EFA566479A964667787688753578BCA559AB95247AA6237998ACDCA86445789ADEBADEC747986446788866BCA757898646CFFA436763148A869DD935764337EGFDA8655BEEC8CJNLIHFD968EFA566579A964667786678753568BCA558AA95247AA6337988ADDCA86445689ADEBADEC747996446788866BCB757898647CFFA436763248A869DD935764337DGFCA8655AEEB8CJNMJHFD958EFA666579A964566786678754568BCA558AA95247AA6347988ADECA86444689AEEBADEC747996446777755ACB757998647CFFA436753248A869DD935764337DGFCA8655ADEB8CJNMJHFD958DFB666579A864566776578754568BC95589A95247AA7347988ADECA86444689BEEA9DEC747996446777755ACB767998647CFEA436753248A879DD935764337DGFCA8655ADDB7BJNMJHFD958DFB6665799853566776578754568BC95589A85247A97347988ADEDA86334689BEEA9DEC747996546777755ACB867998657CFEA436753258A97ADD945765327DGFC97554ADDA7BINMJHFD958DFB6665799853566776578754568BC94489985247A97347988ADEDB86334689BEEA9CEC737997556666645ACB867998657CFEA436753258A97ADD945765327DGEB97544ADDA7BINMKHFD947DFB7766799853566775578754568BC94489985247A97347887ADEDB8633358ABED98CEC737997556666644ACB867999657CFEA536753258A98ADD945765327DFEB97544ACDA6BIMMKIFC847DFB7766799853566775578764568BC94479985247A97447887ADEDB9633358ACED98CEC737997555666644ACB8779A9758CFEA536753258A98ADD945765327DFEB975449CC96AIMMKIFC847DFB7776799852466675478765567BC94478985247AA7447887ADEDB9632358ACED97CEC737997555665634ACB8789A9768CFEB546753358A98ADD955775327CFEB864449CC95AIMNKIFC837DEC8776799742456665478865567AC94478884247AA7447887ADFEB9632358ACED87CEC737997555655534ACB9789A9768CFEB546753359A99BDD956775327CFDA864349BC95AIMNKIFC837DEC8777898742456665468865557AB94378874248AA7457877ADFEB9622358ACED87BEC7369975556555349CB9789A9768CFEB546753359A99BDDA56775327CEDA864339BB84AIMNKIFC837CEC8777888742455664468865557AB94378874248AA7457877ADFEC9622257ACED86BEC7269975555555349CB9889A9768CFEB646753359AA9BDDA66775327CEDA764339BB84AHMNLIFC837CEC9877888742455664368865557AB94367874148AA75578769DFEC9522247ACEC76BDC6269975555444249CB9889A9778CFEB646753369AAABEDA66775327CEC9753338BB839HMNLIFC826CEC9877888741455664368865557AB94367874148AA75578769DFEC9521247ADEC75BDB6269975555444249CC988AA9879CEEB656753369AAACEDA66775327CEC9753238AA739HMNLIFC726CED9887888641455554368865557AB94367774158AA85578769DFFC9521247ADEC75ADB6269975555444249CCA89AA9879CEEB756653469AAACEDA76775327CDC9653238AA739HMNLIFC726CEDA888888641355553368876556AB94367774158AA85678769DFFC9521247ADEC75ADB6269976555434249CCA99AAA879CEEB756653469AAACEDA76775327BDC8653238AA729HMNLIFC736CEDA9888876413455532688765569B84367764158AA86678769DFFC9521247ADEC64ADB6269976554334249CCA99AAA889CEEB756653469ABBCEDA77775327BDB86432389A729HMMLIFC737CEDA9888876313445532688765469B84366764258AA86678659DFFD9521147ADEC64ADB6269976544333249CCA99ABA889CEEB767653469BBBCEDB87775327BDB864222799739HLMLIFB737CEDB9888876313445532588765469A84356664258AA86678659DFFD9520147ADEB64ADB6269976544333349CCA99ABA989CEEB867653469BBBDEDB87776327BCB754212799639HLMLIFB747CEDB9988876323444432588765469A84356664258AA86688659DGFD9620147ADEB649CB7269976544333359CCB99ABA98ACEEC867653469BBCDEDB87776327BCA754212799639GLMKIFB747CEEBA998876323444422588765469A84356664258AA87788659DGFD9620147ADEB639CB7269976444223359CCBAAABA99ACEEC877653479BBCDEDB87776337BCA753212788639GLMKIFB747CEECA998875323444422578765459A85355664258AA87787549DGFDA620147ADDB539CB7369975443223359CCBAAABA99ACEEC977653479BBCDEEB98776337BCA743212788649GLMKHEB857CEECA998875423334422578765359A85455664258AA97787548DGGDA621147ADDB539CB7368975443223359CCBAAABAA9ACEEC977653479BCCDEEB98776337AB964321268864AGLMKHEB858CFECBA99865423334422578765358A85455554358AA97787548DGGDA621147ADDB549CB7368875443223469CCBAABBBA9ACEEC987643479BCCEEEC98776437AB964311268865AGKLKHEB868CFEDBA99765423334422578765358A85455554358AA98787548DGGDA621147ADDB649CB7468875433223469CCBAABBBA9ACEEC987643479BCDEEEC98776447AB963311167865AGKLJHEB868CFFDBA99765433333322578764358A86455554358AA98887538DGGDA621147ADDB649CB7468875433113469CCBAABBBAAACDECA87643479BCDEEECA8876447AB953211167866AGKLJGEB879CFFDCAA9765433333322578764248A86555554468AA98887438DGGDA631247ADDB649CB7568875433113469CCBAABBBAAACDECA8864357ABCDEEECA8876447AA853211167776BGKLJGDB879CFFECBA9765433333322578764248996554554468AA98887438DGGEA631247ACDB659BB857887543211346ACCBBABBBAAACDECA9864357ABCDEFECA9876457AA853211157777BGKKJGDB879CFFECBA9765433323323578764248996554454468AA99887438DGGEA631247ACDB759BB857887533211347ACCBBABBBAAACDEDB9864347ABCDEFECA9876557AA852211157777BGJKIGDB98ADFFECBA9765433323323578764248997554455468AA99887438DGGEA631247ACDB769BB867887533211357ACCCBABBBBAACDEDB9864347ABDDEFECA9876558AA852211157778BGJKIFDA98ADFFEDBA9755433323333578764148997654455568AAA9887438DGGEA631247ACDB769BB867887533211357ACCCBABBBBAABDDDB9864347ABDDEFEDB9876568AA842211156778CGJJIFCA99ADFGFDCA9755433222333578764147997654455568AAA9987438DGGEA731247ACDB879BB977887532211357ACCBBABBBBAABDDDBA864247ACDEEFEDB9876568A9742111156779CGJJHFCA99BDFGFDCA9755443222333578764147997654455578AAA9987438DGGEA731247ACDB87ABB978886432211357ACCBBABBBBAABDDDBA864247ACDEEFEDB987666899742111156789CGIJHECA99BDFGFECA9754443222334678764147998654455679AAA9987448DFGEA731247ACCB98ABB988986432211358ACCBBABBBBAABCDDCA864247ACDEEFEDB98766689974211115678ADGIIGEBA9ABDFGFECB9654443212334678764147998653455679AAA9987448DFGEB741247ACCB98ACBA88986432212358ACCBAABBBBAABCDDCA964247ACDEEFEDB98776789974211114678ADGIIGDBA9ABEGGFECB8654443212334678764147998653355679AAA9987448DFGEB741247ACCB99ACBA88986422212368ACCBAAABBBAABCDDCA964247ACDEEFEDB98776789974111114678ADGIIFDBA9ACEGGGEDB8654443212334678764247998753355679AAA9987459DFGEB741247ACCBA9BCCA99986422212468ACCBAAABBAA9ACDDCB964247ACDEEFEDB98777799974111114678ADGHHFCA99ACEGGGEDB8644443212345678764247998753356689AAAA987559DFGEB7412479BCCAABCCA99986422212468ACCBAAABBA99ACDDCB974147ABDDEEEDB98777899974111114678BDGHHFCA99ACEGGGFDB8644443212345678764247998753346789AAAA987569DFGEB7412479BCCBABCCBA9986421222468ACCBA9ABBA99ABDDCB974147ABCDEEEDB98777899864111114579BDGHGEB999BCEGGGFDB8644443212345678764347999753346789AAAA987569DFGEB8412479BCCBBCCCBAA986421122468ABBBA9AABA989BCDCB974147ABCDEEEDB98777899864211114579BEGHGEB989BCEGHGFDB8644443212345678764357999753346789AAAA98767ADFFEB8422479BCCBBCCCBAA986421123468ABBA99AAAA989BCDCB974147ABCDEEEDB98778899864211114579BEGGFDA889BDEGHGFDB86434432123456777643579A9753346789AAA998767ADFFEB8422479BCCCCCDDCBA986421123469ABBA999AA9889BCDCB974147ABCDDEECB98778899864211114579BEFGFDA889BDFGHGFDB85334432023456777644589A9752346789AAA998778ADFFEB8522479BCCCCDDDCBA986421123579ABBA989AA9878ACDCB9742479BCDDEDCB98778999864211114579BEFGFC9779BDFGHGFDB85333432023457777654589A9752246789AAA998878BDFFEB8533479BCDDDDDDCCBA86421123579ABBA8899A9778ACCCB9742479BCCDDDCA97778999864211114579BDFFEC9778ADFGHGFDB85333332023467777655689A9752246799AAA999889BEFFEB8533579BCDDDDDDDCBA86411123579ABB9878998768ABCCB9742479BBCDDDCA87788999864211114579BDFFEB8668ADFGHGFDB85333332123567777655689A9752246899AA9999889BEFFEB8533579BCDDDDEEDCBA86421124579ABA98789987679BCCB9743579ABCCDDCA87778999864211114579BDEFDA8568ACFGHGFDB85323332123567777665689A975224689999999989ACEFFEB8644579BCDDEEEEDCBA86420134579ABA97778986579BCCB9753579ABBCCCBA87778999864211114579BDEEDA7557ACEGHGFDA8522333212356777766678AA975224689999999999ACEFFEB9644579BCDEEEEEEDCA86420134579AAA87678876569BCCB9754579ABBCCCB987778999864311114569BDEECA6447ACEGGGFDA7522333212356777776679AA97522468999999999ABCEFFEB9654579BCDEEEEEEDCA86420134679AA986567875468ABCBA854579AABBCCB976678999865321123569BDEDC963479CEGGGFDA7521333212456777776779AA97522468999999999ABDEFFEB9755679BCDEEFFFEDCA86421234679AA976567765358ABCBA8656799AABBBA976678999865321223568BCDDB953369CEFGGEDA7421233222456777777789AA9752246889998899AACDEFFEC9755679BCDEFFFFEDCA86421234689AA975457764357ABBBA86567999AABBA876678999875322223468ACDDB852369CEFGFECA7421233223456777777789AA9852246889988889ABCDFFFEC9766679BCDEFFFFEECA86421235689AA9754566532479BBBA876788999AAA9865578999875322223468ACCCB852369BDFGFECA7421233223456777777889AA9853246889888889ABCEFFFECA866679BCDEFFFFFECB96421235689A98643466532479ABBA8777889999AA9865568999875432223468ABCCA852258BDFFFECA752123322345677777789AAA9853346788888889ABDEFFFECA876679ACDEFFFFFECB97432235689998643456531469ABBA9877888889999754568999875432223468ABCBA752358BDEFFECA752123333345677777889AAA9853346788887789ACDEFFFECA876779ACDEFFFFFEDB97532245689998632355421368ABBA98788888889987544678998754322234689BBBA753358BDEFEDCA752123333345677777889AAAA864356788877789ACDEFFFECA877779ACDEFFGFFEDB97532345689997531345421368AAAA98888887788886434578998764332234579ABB9753468ACEEEDCA753223333455677777899ABAA864456788777789ACDEFFFECA877779ACDEFFGFFEDB975433457899875313454224689AAA99888877778876423578988765332224579ABA9754468ACDEEDB975322333345667777789AABBA865556787766679ACDFFFFDCA977779ABDEFFFFFEDB975433457899875312444324689AAAA9988876667775323578888765433224579AAA9765568ACDDDCB975322333445667777789AABBA975567777766679ACEFFFFDCA977778ABDEEFFFFEDB976444467889875312444334689AAAA99887766667653124688887654332235789AA9765568ABDDDCB976433334445667777789AABBA976667777665678ACEFFFFDCA977678ABCDEFFFFEDB986544567888875312444334689AAAAA9987655566653124678887654332235789A99766678ABCDCCB986433334455667777789ABBBA987667777655578ACDFFFEDCA9766789BCDEFFFFEDBA86544567888875323344445689AAAAA9987654556543124678887654432235689999876678ABCCCBA986543344455666677789ABBBA987777776654568ACDEFFEDCA8766679ACDEEFFEEDBA875555678888754334444456899AAAA99875444555431246788876544332356899988777789BBCCBA986544444556666666789ABBBBA98777776544568ACDEFFEDCA8765678ABCDEEEEEDBA876556678888754334444557899AAAA99865434455432346778876654332356789988777889ABBBBA987544444556666666789ABBBBA98887776544468ACDEFFEDBA86555789BCDDEEEDCBA876656678887754434445567889AAAA98765333455432346778776654332346788988777889ABBBAA987654445556666666678ABBBBAA9888776544468ABDEEEEDBA86545689ABCDDEDDCBA8766666788877654444555678899AAA98764322444433346777776654332346788888777889AAAAA99876555555666666566789ABBBBA9988766544468ABDEEEECB976444678ABCCDDDDCBA87666667788776554455566788999A9987642123444444567777766544323467888887777899AAAA99876655555666665556789ABBBBBA998765444568ABDEEEDCB9754345789ABCCDDCCBA8776666778877665555566778899999987542123444444567777766544323567788877777889999998877665566666655555689ABBCBBAA98765544568ABDDEEDCB9754335679AABCCCCBA98776666778887765555666778899999887542013444445567777766544334566778777777788999998877666666666554445679ABCCCBBA98776545578ABCDEDDCA97543346789AABBBBBA98766666778887766666667778889999876542113344555667777766544334566777777666778888888877766666666544344679ABBCCBBA99876555679ABCDDDDCA975433456789AABBBAA98766666777887776666677778888888876542123345556667777766544334556777766666677888888877776666665543334578ABBCCCBAA9876666789ABCDDDCBA97643345678899AAAA988765556677888777777777777888888876543223445556667777666544344556677666555667777777777777666665443223578ABBCCCBBA9877667789BCCDDDCBA9765444567788999999876555566777888777777777777788887765433334455666777776665544445566666555555566777777777777666554321235689ABCCCBBA988777789ABCCDDDCBA9876555566778889998776544556677888888777777777777777765543334556666777766655544445566665544444556666677777777666554321135689ABCCCBBA99887889AABCDDDDCBA9876655556667788888765444455677888888888877777777777765544444556667777666655544455566655443334445556666677776666544321135689ABBCCBBAA9888899ABCCDDDDCCBA987666555666777777655433345667888888888877766666777666554445566667777666555444455555554433223344555566666666665544321235679ABBCCBBAA998999ABBCDDDDDCCBA988766655556667776654322345567788888888877666666666666655555666677776666555444445555554332122334444555666666665544322345689ABBBBBBAA99999AABCCDDDDDDCBBA98776655555566666543211234567788888888776655555666666666566666677766665554444444555444321111233344445556666655544333445789AABBBBBAA9999AABBCDDDEDDDCCBA99876655444555555543211234566778888888776555445556666666666666777666655544444444444443321011223333344455555555554444456789AABBBBBAAA99AABBCCDDEEEEDDCBBA9877655444445555443211234556778888887766544444455666666666777776666555444433344444443321111222233334445555555555555567789AABBBBAAAAAAAABCCDDEEEEEDDCCBA9987655444444444433222234556777888877665443333445566667777777766665554443333334444433322212222222233344455555555556667889AAABBBAAAAAAABBCCDEEEEEEEDDCBBA987665443344444433333344556677777776655432223345566667777777666655544433322333344333332222222222223334444555555566678899AAAAAAAAAAAAABBCDDEEFFFEEEDDCBA998765444334444444334445556677777766554321112344556667777776666555443332222233333333333222222211222233344445555666778899AAAAAAAAAAAABBCDDEEFFFFFEEEDCCBA98766544444444444444455566667777666544321012234556666777766665554433322111223333333333322221111112223334444555667778899AAAAAAAAAABBBCCDEEFFFFFFFFEDDCBBA9876655444444444455555566666666665544322112334455666666666655544333221110222333333333322221111111222333444555667788899AAAAAAAABBBCCCDEEFFFGGGGFFFEDDCBBA9877655544444455555556666666666555443322233344555666666665554443322211112223333333333222211000111222333444556667788999AAAABBBBCCCDDEEFFGGGGGGGGFFEEDCBBA98876665555555555555666666666655544443333444555556666555554443332222111223333333333322221110111122223334445566778899AAABBBBCCDDDEEFFGGHHHHHHHGGFFEEDCCBAA988776665555555555566666665555555444444445555555555555444433332222222233333333333322221111111222223333445566778899AABBCCCDDEEFFGGGHHHIIIIIHHHGGFFEDDCBBA9988777666666555555555555555555555555555555555555555444433332222222233333333333333222222222222222333344556677889AABBCCDDEEFFGGGHHIIIIIIIIIIHHHGFFEEDCCBBA99887776666655555555555555555555555555555555555444444333322222222233333333333333333222222222222333344556678899ABBCCDDEFFFGGHHHIIIIJJJJIIIIHHGGFFEEDDCBBAA99888776666555555555555555555555555555555544444443333322222222223333333333333333333332222223333444556678899ABBCDDEEFFGGHHHIIIIJJJJJJJIIIIHHGGGFFEDDCCBBAA9988777665555544444444555555555555555444444433333222221111112223333333333333333333333333333344555677889AABBCDDEEFFGGHHIIIIJJJJJJJJJJJIIIHHHGGFFEEDDCCBBAA9988776655544444444444444444444444444443333332222211110111112233333333333333333333333333445556677899AABCCDDEEFFGGHHHIIIIJJJJJJJJJJIIIIHHHGGGFFEEDDCCBBAA9988776665544444433333344444444333333333332222221111101111123333333333333333333334444455566778899AABBCCDDEEFFGGGHHHIIIIIJJJJJJJIIIIIIHHHGGGFFFEEDDCCBBBAA998877666555444443333333333333333333322222222222221122222333333334444444444445555566677788999AABBCCDDDEEFFGGGHHHHIIIIIIIIIIIIIIIIIIHHHHGGGFFFEEDDDCCBBAAA998887766655554444433333333333322222222222222222222223344444444445555555666667777888999AAABBCCCDDEEEFFFGGGGHHHHIIIIIIIIIIIIIIIIIIHHHHHGGGFFFEEEDDDCCCBBAAA999887777666555544444433333333333222233333333333333345555555666666777778888999AAAABBBCCCDDDEEEEFFFGGGGHHHHHIIIIIIIIIIIIIIIIIIIIHHHHHGGGGFFFFEEEDDDCCCBBBAAA999888877766665555544444433333333333333333333334556666677777888899999AAAABBBBCCCCDDDDEEEEFFFFGGGGGGHHHHHHHHIIIIIIIIIIIIIHHHHHHHHGGGGGFFFFEEEEDDDDCCCCBBBAAAA9998888777766665555544444444333333333334444667777778888899999AAAAABBBBBCCCCCDDDDDEEEEEEFFFFFFFFGGGGGGGGGGGGGGGGGGGGGGGGGGGGGFFFFFFFEEEEEDDDDDCCCCCBBBBAAAA99998888877776666665555555554444444544547876688789878888889A999AAAAAABBBBCBCCCCCCDDDDDDDDEEEEEEEEEEEFFFFFFFFFFFFFFFFFEEEEEEEEEEDDDDDDDDCCCCCCBBBBAAAAA99999988998998A7768897878787769686986897697B8989BA7AAB9BAA8799BA8AB9CCABABDAABFBADDBBDBBCDGECDDFCGGDGHFHDEDHFHEEHEHFDDDGDHCGCFGFFCGCGCFEEDEBCAEAABBA9C99CC9C98A988CBAB97B787BB7897B78B77ABA8B977", "c3": "33344H964333346CG8644445543222G74344333348G32HD53233443333333333444333222333333335BH2G8643333233322235BG3F7544322347E223E8433322469FF42232GI8443222344458HC33344IE75333457GH9844445543222HC544433335BI33JH64233443333333333444333222333333345FI2IB653333233322246GI3H9544322348G223EC54332246DG942233BJD55422233446AIF33344IH85433458HH9954455543222HH644433336HI33JJ74233443333333333444333222333333346IJ2IE753333233322347HI3HD65432235BH223EE64432347FG6422336JI75432233446EI733344HIA643346CHC8964455543222DHA54433447II33JJ84333443333333333444333222333333348II2IH753333233322348HH3HH65432235EH2239EA543235AFC6422334EIB6532233447HI532344CIE643356GH869844555432228HG7544445BIE33HJB533344333333332344433322233333335AIH2II85333323332235AHG3HH85432236HH2237ED643336FF954223349IH7532233458II4323449IH753458HH659954555433226EHB654456HI933CJF533344433333322344433322233333345DIC2HIA6433323332235EHB3DHB6432247HH2236BD954348FE854223337GHB64223345BIG4323447HH95346CHD6499555554332258HI97567AIH7338JI633344433333322344433322233333345HI92FJC6433323332246GH839HG7533249HG22357CD6445DFA754223336AHH74223346FIC4323447DHE6347HH95479755554332246AIIC88CIIA6337JI633344433333322344433322233333346II73BJF6433323332246HH637HI853335CIC22355ADA548ED87542233367GIA5323447II943234469HH7459HG7446995555432224559FJIIIFA75336II843344433333322344433322233333347II639JI7433323332248HH636GIA64336HI9223456DE76DE8765422333569IH6323458II743234467HH946DHC643599555543222344679AA97665335FIB43344433333322344433332233333359IH537JJ854332333334AHF535BIF64347IH72234447EDCD87765422333556HI843345BIF743234456CHD57HH85434896555432223334565665554335CIF5334443333332234443333223333335CID537IJ954332333335DHB5357II8534AIG622344358DC866665422334455BIE53346GIB6432344568HH6AHG653347986554322233344544545543359II6434443333332234443333223333336GIA436GJC64332333335GH94346GIB645GIB522344345655556654323344447II84458II86432344557GH8GHA643346996654322223234433444443347IJ7444433333332234433333223333346II8436CJF64332333346HH74345AIH757IH8522333234444456654323344436BIF656DIF75432344456AHFHG75433459A6654322222234333444443346HI9544433333332234433333223333347II6435AJI75332333348HH643347HJB6EID64223332344334566543233443357EHC6AIIA654323444457FHH964433349A7654322222233333444433346DIE644433333332234433333223333348IH63358JJ8543233334AHF633346BJIBIH8642233323333335565432334433468EHCIIB8654323444456888654333347A96543222222333334434333359II75443333333223443333322333335BIF53357IJ9543233345DHB5333357BHIG965422333223332345654323344324567DHIB77654323444445666554333346AA6543222222333334433333357IJA6443333333223443333322333335FIB53357GJC643233345GH953333567877665322333223332345654323344324555678766655323444445555543333345AA7643222222333334433333346DJG7544333333223443333322333336IJ943347CJF643233446HH7432234566555543223332233223456543233443234444566678882234443344444433333349A86433222223332344333333458JJ8654333333223443333322333347JI743346AJI753233458HG6432224555444443223332233223456543233443234434567998762234443344444333333347A96533222223332344333333446FJD754333333223443333322333348JI6423468JI85333345BHE5432223454444443223332233223456543333443234433588765552234443333343333333346AB65332222233323444333334459JK96533333322344333322233335CJF5423468IIA5333346FHA5422223444334433223332233223456543333443234434786555442234443333333333333345AB75433332233323444333333446FKF8543333322344333322233335HJB5323457EID6333457HH85322223444333432223332233223556543333443334456754444442234443333333333333345AB854333333333234443333333458JKC753333322344333322233346JJ84323457BIH6333458HH743222234443333322233322333245666433344433446764443444422344433333333333333459CA65443333333234444333333346BKK964333322334333322233349JI743234569II743346CHE643222234443333322233323333345676543344443467633433344422344432233333333444579CC987654434432344443333333457DKH8543332233333332223345FJD643234568II943346HHA543222233443333322233333344468997644444444587423333344422344432233333334457789CC7656776544323444433333333468FKF754332233332332223457JJ9543234567FIC53358IH854322223344333332223333346766789A964444445785323333344422344332223333346776556BB85444467764334444333332234568HJC6543223443333323346BJH7533234457BIG6445AIG65332222334433333222343347753456777876555577543233333444223443322234445776433469B943333447863344443333322234569IJB654334443333333469JJA64322344569II7446GIB65332222334433333222344577533456665578755776443223333444323443322234577544333457BA433333346765454443332222345569IJF9755566555555568IJD754323344567HJ9558JJ965433322334443333223345774332355665446887864432223333444323443322257764333333356AA533333344467655443333222345567AGMMHCBCDEEDEEEDDFLNG9765433344567DJF77DJH876543333344443333223457743322345655444688744432223333444323443222277533333322346AA533333334336875444333223345678ACFMSUVXZaccdefecZVMEB987544445567AJKAAKKBA987654333444433332234775333223456554445675444322233234443234432222543323333223459A73333333332478754433322234566789BEGJNRWbgjkkfZTNJFC98765444455579FLKJLF97554567644444443333346864333223456554444555443322233234443234432222333222333223457A8333333333235787543332223344444567889BCDEFFFECBA98655543333445579BFLLGA86543335775444444333357743332223456554444554443322233234443334432222333222332223456A94333333332345886443322223333333344456669888876665444333233445679CEEDB98654333347765544433347754333222355655444445444332223323444333443222233322223222345699433333333234558864332222333322233444577DCBBA9877654443323344568CHKJJIDA764333334787554444467544333222456655444444444432223323444333443222223222223222345589533333333234455885432222333322334457776DEFGGGGFC97654433334568BGJF9BEIHD864333345898654445764433333234667654444444444322232234443334432222232222232223455797433333332344555875332223333323457765446566779DGGFC7654334567AGJF86779CGGB64444467AB976557744433333335778755444444444322232233443334432212222222222223445698433333332344444577432223333334676444434344445678BGGA6544567AFIE97556677BFE965567ADDC97688644433333458BB986544444444432223223344333443221222222222222344559844333333234444445763222334335664433333323333345568EGC76679CHID87544555567CED87BFHFGIHC9A954444334458GHIHB86554554444332232233443334432222222222222223445588543333332344444446753223444665433333332222222344457CGF99DHIFB86644444444557DFFFC978AEIHD8654444456AFF9AHID86555555444322322334433443322222222222222234455787433333323444443446643334576433333333322222223333356AFHHGCB97655444444334445776666679BDHGA7655567CFC7779EHF9766666554333322344433443322222222122222234556799533333323444443334663346764223333333322222222332234679AAB9665444444443333344455545668A9DGE978ACFFA656678BHHB878777654333323455334433222222222233333456788AA64433332344443333346646764322233334433222222232222345689865444444444333322333444445567679EGGGFDB7545566779EHGGGGFDA7654432456633443322222222223333458BCCCCB744443333444433333346676432223334444443332223322223344566544444444443332222233344444555556888765544455666779BBBBCFHGD97543579D444433222222223344579BCB976ACB654443334444333333356544322234467777765533333322223344555444444554443322222333444444444455555444334455556666777778BEFFC869EGF44543322222222458ABA86665558BDA65443334444333332234443332346776554445665433322223334555544445555443332222333444444443344444433334455555555666666667ADFEFEA7445443222222229AA86444564447AACA6554334444333322223333333566544443333345664332233344566666677766544332222333444444443334443333334455555445555555555566676654455432222222275443333454445AA8CC8654344443333222233333466543333333222334676433345678887766778998654332223334444444333333333333344555544445555554444444455444654322222222333332234643349A57ACB75344443333222233445653333333332222223457755677765554444455667777532233334444444333333333333344555544445555544433333344344754322222222233222235653349A4568CCB444443333222233467533333333332222222334566554444444333445555556764333344444444333333333333344555444445555544433322333344964322222222222222235853348A4456788444443333322234775322223333332222222333343333344443333344544444456544444444444333333333333344555444445555554433322333344D65322222222222222346DA3347A4466666455544333322347753322223333332222222233333333333433323344444433334675444444444333333333333344555444445566555443332333344E85322222222222222347DB4346A4577766666655443333477543222223333332222222233332333333333323344444333333367754444444333333333333345555444455666665544333333344EC643222223322222235BE64446A67AA988888887766554675433222222333332222222222222233333333323344444333222335885444444333333333333345555544556789998876544444344EE743222233322222346DE54568987A8765555555455666643332222222333333222222222222233333333222344444433222234588644444333333333333445555555789998877777777665444BEA5322223443222235AEB67887755HA7555554443333334333322222223333332222222222222333333332223445554433222334578654444333333333334455566788766666655544456777448ED5322234554322346EE987655644HG8655544433333333333322222223333332222222232222333333332223455665543322334457865444333343333334556788755556666555444334456446CD8422234A9543345AEBA65445544CHC7555443322222233333222222233333322222223322223333333322344567987543333334447865443334433333445689864444555655544433334434468DC532347CC954457EE86444445448GH966554332222223333322222223333332222222333223333333332234568EGGFA65433344445787544444443334457996544334455555544433333334456CD84235CCAC9558DE965444444446BHF8765443322333333332222222333333322222233333333333333223569GHB8CFE85544444445787554454443445897654433344555555544333333234567DC535BC86BDB9CEA6554434444457CHGB865443333443333322222223333333222223333333333333333346AHGA6568DFD8655555556898666655444688655543333345555555443333332345568CB7AC95569CDC9655444344444567AFHE9765544555444333222222333333322222333333333333333335BGF96544569EFDBA9877777AA9AA9765577655554433333455565554443333323445557ABA755578866554444444444445678CHHECBBBBBB9755443222222333333332223333333333333333449GF86543344569CEFFFFFFFFEGHHGGC7787544554443333345566555444333332444455444444577654444444444444444556679BCCBBABBDFFA754432222223333333323333333333333333447FG86544333344556667789ABCBAA8EHCA854444554443334455666555444333324444444334457754333334444444444445555666665444557CFFA654322222333333333333333333333333346DF96544333233344455444556666998FHC75555555555444556666665554443332555554433457743333333344444444444455555554433334568DFD7543222233333333333333333444444445AFC65444332223333443333344444589AEGD86666666789877777777666554443328776554446774333333344444444444444455555443222334456AFE854332233333333333334444555665558FF75444433222233333332233333345777BFFEB8789CFFEDFFDB988887766555443ABBBA8767875443333444455555554444445555544322223334558EFA54333333333333334455678BDEEC97EF854444333222233333322223333333455668BFGFGGFB7557AEHIGEDCB998776654566789ABBA875544445667887665555444555555553222223334456CFC644333333333344557ADFFEB89DFFFA544444333222233333322222333223444444569AA9765434578BEGHIIIHHFEDB9844555558789AAA989AAAAA9ABBB987655556677788322222333334459EE7544444434445569FFC97554567886544343333222233333322222332223333333455666543333456788999AABBCDEFF444444454444567766555555678ABBB9879ABCCCB93222223333333457DEB765555455569DGE865443334455544334333322223333332222222222233332234455443322334566777777777666634444334333333333334444455556789BBBA98766532222233333333346AEFEC976567AEGEA6543332223344443333333222223333322222233222233332223444433322334556666666665555433333333333333333333333444445555556666555433222333333222333457AEGFDADGGC9655433222222333433333333222222333322222333322333333233444433333334455666666555444433333333322222222222333334444444444555444433222233332222222344567ADEEA765544332222222233333333333222222333322233333333444443344444433333334455555555554443333333333222222222222233333333333334444444333222333332222222223445566655444333222222222233333333332212222333222444556678899888755444333333344455555555544433333333332222222222222233333333333333444433333223333222222222223334444443333322222112222333333333322122223322229ABBBBA99888889BB86544333333344455555554444333333333322222222222222233333332223333333333333333332222222222222333333333332222221122223333333332222222222222287665444444444459CC86544333334444555555444433333333332222222212222222333322222233333333333333333322222222222223333333332222222112222233333333222222222222224443333333333334469CC86544333444445554444443344433333332222222222222223222222223333444444444444333322222222222233333322222222211222223333333322222222222222333322222222222334569CB85444444444444444444335544444443333322222222233322222222333445555555555554443333322223333333322222222222222222233333322222222222222222222222222222223344569CB75444444444444444433777666555544443333333333333322222334455679CDDDCCCA976554444433333333333332222222222222222333333222222222222222222222222222222223334446ACA755434444444444333FFFFEEDCBA9877655555444444433323344568BEFFDBAAAACDEFFEDBA8765554444444333333222222222222233333222222222222222222222222222222222233333447BCA6533344444443333777899ABCCDEEEEEEEDCBA9766554444568BEFEB865555555566789BDEEEEDBA87665554444433333333333333333332222222222222222222222222222222222222333457BC93333334443333344444555555556667889BCDEFEDCA979CEFDA7655444333334444444556789BDEFFEDCB987655544444443333333333333333333333332222222222222222222222222233458A33333444444433333333333333333444444556679ACDDDB865544433333332333333333334444556789ACDEEEEDCA987765555554444444333333333333332222222222222222222222222234453334444444444422222222222222222333333344444555444333332222222222222222222233333444445556789ABCDEEEEEDCBA98766555555555555544333222222222222222222222222233433445555555555222222222222222222222222233333333332222222222222222222222222222222333333334444455566789ACDEEFFEEDCCCCCCCCCCB86544333222222222222222222222233444569BCDDDDCCC2222222222222222222222222222222222222222222222222222222221112222222222222223333333344444555667789AAAAAAAAAADFEB86544333222222222222222222334568CFFDAAAAAAAA22222222222222222222222222222222222222222222222222222222211111222222222222222222222233333334444444444444444569DFEB86544333333333322222333457AEFD9654444444422222222222222222222122222222222222222222222222222222222222211122222222111122222222222222222333333333333333344569DFEB855444444443333334569DEDA754433333333322222222222222222222222222222222222222222233333333333333322222222222222222222222222222222222222222222222222333344579DFECBA9887766555569CEEB754433322222222222222222222222222222222222222222222222223334677777777776533322222222222222222222222222222222222222222222222223333445579ABCDEEFFFFEEDDFEC86544333222222222223333333333333333333333333333333333333333357AA87777777789A8643333333333333333332333333333333333333333333333333333334445555566667788999875544333333222222222299988888888888777777777766666666666655568A9743333333333458AA877766666555555444444444444444444444444444444444444444444555555555566666665554444443333333333336666666677777777777888888888899999999999864332222222222233467888889999999AAAAAAAAAAAAAAAAAAAAAAAAAAAAAAAAAAAAAAAAAAAAAAAAAAAAAAAAAAAAAAAA999999999999999999555555555555555555555555555555555566666655544444444444444555555555556666666666666666666666677777777777777777777777777777777777778888888888888888888888888884444444444444444444444444444444444444444444444444444444444444444444444555555555555555555555555555555555555555555555555555555555555555555555555555555555555512222222222222222222222222222222222222222211111111111111111222222222222222222222222222222222222222222222222222222222222222222222222222222222222222222222222111111111111111111111111111111111111111111111111111111111111111111111111111111111111111111111111111111111111111111111111111111111111111111111111111111111111111111111111111111111111111111111111111111111111111111111111111111111111111111111111111111111111111111111111111111111111111111111111111111111111111111111111111111111111111111111111111111111111111111111111111111111111111111111111111111111111111111111111111111111111111111111111111111111111111111111111111111111111111111111111111111111111111111111111111111111111111111111111111111111111111111111111111111111111111111111111111111111111111111111111111111111111111111111111111111111111111111111111111111111111111111111111111111111111111111111111111111111111111111111111111111111111111111111111111111111111111111111111111111144444444444444444444444444444444444444444444444444444444444444444444444444444444444444444444444444444444444444444444444444444444444444444444444444444444444222222222222222222222222222222222222222222222222222222222222222222222222222222222222222222222222222222222222222222222222222222222222222222222222222222222221111111111111111111111111111111111111111111111111111111111111111111111111111111111111111111111111111111111111111111111111111111111111111111111111111111111144444444444444444444444444444444444444444444444444444444444444444444444444444444444444444444444444444444444444444444444444444444444444444444444444444444444444444444444444444444444444444444444444444444444444444444444444444444444444444444444444444444444444444444444444444444444444444444444444444444444444444444441111111111111111111111111111111111111111111111111111111111111111111111111111111111111111111111111111111111111111111111111111111111111111111111111111111111111111111111111111111111111111111111111111111111111111111111111111111111111111111111111111111111111111111111111111111111111111111111111111111111111111111111", "c4": "TTTTUVTTTWTTWUVUQSVUUUWUUTSVTXSWWWSTTWTTRVUSTVURQSXXTSSXOQQUSWUQUTSTTXVQVaWMTUWSRTUQMQSaTTMSSWaXQMVSXTVRVVXTUXVPVVVUVUWVVVRUVSTTYRXSTROSNQWTTUSUTTSURTRSSUTTTTUUTTTVTTWVVVSTWSTTTUUWSTURPTWYTRRTQTQUSRTUSOSPSUTRQUQPWNUSURPUWTRTSRTXTRUXVWSTVSTXYWTTQSSTWXMRbXSTVQXVRRRZSRRVUSVWVRRUUVTPPUXRWSSRNTMQVRTTTWUUSVRTRTSUTTTTUUTTTUTUUUUVUUVTUSRSUWSTWOSSVXYPTRSRRUYVVYWTQQRUXTVWSQWWRSSSTVSWSTSORZNQUXWRSWSQRXUSQQVRYYWNQTXTPRUPUNUVTSQQTVUPVSQSURUSVTSXURSSSSPWOSUPTTVXUVSVSTRTSTTTTTUUTSUTUUTTTUUVUVXTTRSTRTVRUSPTXRRTRSVTWWXTUPPPTUYTPVUSUUTXRRSWWVVURUYVOTVZTOVURPVaTXKRVWUTPOSUXUTSTUQRQYPUQVTUSQPSTXUWTUYWWSTTSSRSRVSUUQTTVXTWSVSTRTSTTTTTUUTSUTUTSTTTSUUWXUVSSTQRSUURMVWTTWWUUTRUSSVTQSUWXVTQSRVURSUURVXUWUPQUWQQWZOOUTQRUUWQQUTWbRMQYZPMQRUWOTXWURRWVVTRRSTVTTUTTQTPSVTURTRSWUVSTUUWTWTVTTRTSTTTTTUTTSUSUTRSSTQTVUUUVVVTUSRUUSOTVVVVURVQSWWTTSQSRTYSTRUQTRVVWRRTQTTUSVVSLUZaPQUPQSXZPQPWYTTONWXROPTXVTUXVVQUUbRTURWUTUWTTRTTSVPUSVTWRQWSWUSVSUTWTVUTRTSTTTTTUTTSUSTSSTTSQSUSTTUWURWVQUSSQPSUTSTVSQRWTUYUSRPRTTVUQOQUVXTSQTVTQUTVYSQSUQSSWSWWZRTSVWWPTNTZTMPUaWSRWXXQWSXWPSQTSURTSXTTVYVYOSSSUXRTURWVRWQRUVUVUTSTSTTTTUTTTTUTTSTTTSSTRSWTUURSVVQSTTWSVQTUSURRSVRUTVQTNQYTYSSRORUYUTNUQPXQOSXSRVXNNTSSYXVRPRTVTTRSVVRQXYWUUQTUORTSXTRQQTWURWRUURSTVVSRRPUVSWRRUTRVPQVUUUVTSTSTTTTUTSTTTTTTVUUSUUQTXUUTRUVTRTUXWXVQRVTVTSQSSTWYUUNMSXSWXSTTRSTTRWVURTRTSSUZZPLTSSUXVOPWWUPOTVaTRRYWRQTWOUTZSRUNQUTVWVQXQYUTSSRVWQPRTSTWQTSRRUPQVTUUVTSTSTTTTUTSTTSUTUWUUSUTSUUTUUSTTTTUUVTZUQVVWVVUQRRRVWXVPRVUWSTSVUUYUOVWRQLYVYWSTYWPRTWUSWROYZSRQRVUUQMVZWLOSTQSTYORSRUUSUWTRTQXWXSVSXVRPTRTTTSURQSSRRWSUTVTTTSTTTTUTSTTSUTUVTUTTSWURSVURTQTUTSPUYXRURWXWVPRQSWaVVMNQWVUUSTVVVTWNPUTTPVaVLPUOSRTQVSPPPVaWRPSVVYPTdXLMUUTORUSPTVQRRTZUUTSURVRRQUXVWRSQXTRUTSRUSTTVRUTVTTTSTTTTUTSTSSUUUUSUTSRWURRTTRURTVTTRRUXSSUWUVTVSMRUTXWSRSUXSTVRNWXVWUTSMRUUVTQUUQSTWVRVVTTWVQRTVXTMSXWOLNWXRWUUQSXXUWUTTPSNSTVVPTQUXWWQQSYSRURTUWSVVURTSVTTTSTTTTUTSTSSUUUTSTTTSTUTTRTUUTUWSTTQSWSUTRUXTUPQPTZVWSTUVRUWRORTTUQSWSNQSTTTSYVQQTWUXQMPXXTOMVXWOOVRPMTaWTSaXTRSXSQVSTQQUQVRVYQWVTUVSOSUTRSTRVWWTVVTRTSVSUTSTTTTUTSTSTUTTRSTSUTQUTVTVVSTXVSTURSRSPTTUVUUTSPSRRXYSQTSVZWSSSYWVTQTQPVUVTPPRNNWUXVTQSXYSQWWTQPUZRRQWZZVRWSTWYUSTVOUURTTVQTTOVQSQUTSUUQQSSUVVUTTUSSTSUSUTSTTTTUTSTSTTTSRSTSVUSTRVXVTRTVTUTWQOQWSTVTWSTVWPOPSaVTPQVVTRMRWbWQUSQUTVWWQRSSPRZXVPPTXVORSWWRSRbWTMXaWRPRROTVRSSPVORTWTQVTSRRVOTUVXWTRRQTSWUUSTRSRTSSUSUSSTTTTVTSTSTTSRSTTRVVVTQUWSSRURVWTVTRTTWURRPVYXTORPUWTUSUXTSaUSRZVTQQPPVNVWRRUSSWZRUUPTTWPSZXWSRUUVRQXWROTQNSWVQQWUUQSVYVTWTQURXUUYVWWTRSSVSUSSRSQQSUSSTSUSSTTTTVTSTSTSSRTTTRUUWSQSTSSRVSUTSTVXTRXaRQNVYWVTPPSXSVUUYVTUVVWXZTPRUNRVWTRRQQMaURRTRUXVROUYRRWadVPRYRLNTSVWSQTYUSRRSRTTXTRTTQVTTUTTTYTRTXUQQTRSPQTURSTSUSSTTTTVTSTTSSSRUUTRTUVRRTSUUSTVTRQQXXUTVTSSRSTWYUTNPTaaSPUWWVRQZYUTUSRSRVWTNRUQQUTUQQTVXOSVYYRQVWURTbSKNUZUXWVSXUXYPWWVTSVVVRSWSTPSUTUbURSWWOPUSSQQUURTTSUSSTTTUUTSTTRSTSUUUSSUTQRVSVUTPSVUOQZWRQSVUSPSWUWUVPLTXZURSXUTUUVZUTSTORTXXSPSQSRZUUSPXZTQVXWRTXWVRQUSRTTZZXXOTTVRUPOVXSVRQWSSQUTXQYVVXXTTQTWQQVTSRTVUQTTSUSTTTTUUTSTURTTSUTUSSUTRQURTRTQRVXSTURUSQUVVQSWUTYYONQXWVNSXWTQTWQVSOPSTTSSTTUSQWUSRQRVWUOUVSTUXXRONVTRXaZXTRUVTQSUQOXUPSWOWRVPOUXUXSUXTSVQRVVSUUTSVVTQTTSUSTTTTUUTSUURTUSSTUTTUUTQSTTRVUSSWYUOQVTSRWXUOQSWYXQKSUXTWSTWUQTXYWURRTTVXWNNUUWZTQSVTXXTTXZURSUUNTTUQVaWTRRNSTaUWVRUUVSTTRTUOTRSVUQSSXSUVSSUXUSUTTXVSQTUSUSTTTTUUTSUURUTTRTTUUUVURQWUTVTRTUXTOSQUTRYVVSRPUYcTNMVXVQUWRTUWVaXVSRSUWWTOPVUVYWTQUTUSSUUTQTUWQRSURSUaPNJOMWSQUWVRYWQXRRRTTTTTPUVUUTXSXVUUTWUQUTTXURQTUTUSTTTTUUTSUUSVTURTTUUUUTTRVVUTRRSTTUTQSVRPVWUUSPQYUTKQPVRURUZUSTYZVSOQOSXXTWWUWYWXTVVZXNUXUQPWZTPSUTWQVTMKLUSSSUWUQQURTUUTUVXWVTQTXZTWVQXWUVTTTRVSTWTRRTUTTSTTTTUUTSUUTVTVRUUUTTSSTTRVTRTUPSTWZRTUUVWVWRSNQRYWQNTTRNUVVXTQWYXTRTWUVXVUQVVSaQOQYVSRNWUQTVYRXYaSVRTOMTTbdXWRRRSTWXQUXRVUYSXWTWVUSYQRVVTWTSSTVRTVSRSTVTTSTTTTUUTSUUTVSVSVUTSTQRRTQUTRWTSRTVWWUWTXSTXTURRPVWOPQSTSRSTSUTYcWTRNUUXURSUUVZSXRWYVVQXQVTTUUSUZWWORQOVcZYXUXUTSRUTYZWSTVYSWRVVWUQXWRUUUTWSTTUVRUTSRTTVTTSTTTTUUTSUTTUSVSVVTSURSRTSTSSURWSSSUZXUUTQVVRUQSPVYUQTRSRSSZWWUTWSXRVQWSZQQUTVRSPQQSQPSSVOPVZRSVWONSRUVbWXTTSTRQUVVVVXQVVXUSWSQVTXUYSUVTTUWTWUUURURRSUSVTTTTTTTUUTSUTTTSUTVVTSVTSUUUTRTRSUTRQVXVTUVXUUTUUTRSYYSTOVTRRUPWTYVXWUVSSTVVUVVUZVUUYTRSSTSPSRUSQXRSMRTXXeTPOORTTWXXVTTQQSTWRUYXRSTTTTRUSSUVTVWVSURURRTUSVUTTTTTTUUTSTSTRSTTUVTTUUSXVTTTWTWRURPTTVUSYUSSTUbSPUYYWQOSTQSXUUXUWWYSQVXURQVTTSTROVSSORQRURQPQSTQRORVPbZXPLMUXRPVSSUWVWSPTUUTaUURTORSURRSUUSVWVQUSURSUUSVUSTTTTTUUTTTSSRSSSTVTTSTSWVSTVWUXSTUPSSTXXWRSPUUXSUPWXVQRRSRUUUUVXbWRVQUTWVSSYZWVPQSROQQUOPQRSNOUTOSSVVXXLKRTZYXSURWSUQXSVVVRSUVTURSVTTPSSRTTUVVRVTTSSVURUUSTTTTTUUTTTSTRSSSTVTSSQTUUTTUUSWWUWSSUSVTTTTPURVXTSTWUWRRSSQTXZWbYaVUTTUVVSTRWRQOPPSRQVTTSRVUXUQTPUUWWSNKPXZbVYXRWWUSQTPSRUTTUVRWUYXRROSROSVSVVTVTSTSWURUUSTTTTTUUTTTSTRSSSTVTSTQUUUUUSUTVWWVVTSTPRTVSQSSXTWPUWVUNTPRQSWSUVacWTSTWQWTVWRSQNPVTSVRXUVXXUVXVPTXWYPSPOYbYVOTRTVUQOTSXSQSRTUQVUWZVRUNRPOSUSVWWWTSUTWTRUTSTTTTTTUUTUSUSSTSUUTSVSVWTUUSUVUUUVXUTQQRSVSRSQWTWTTYYZSTTQPRWUVWdUXTUVVVQPVTSULSNSVRUYYRUTUQXWbUZXUUSTTZXXRUMSSSSRSSUTXTVSPVUPWTSWVVXQSQRRRTTXWWTSUTWSSUTSUTTTTTUUUUSUSTVSVUUUVVVVSSSSUUSURVYWXTTSSUSUSQRVXVTXXZTWRRRQSXYaYYXQVUcWTUVVUQUQURWUVWWVTWTYWXUYUVQTQTaXXPPLQPPVRWUSSRURUVUWYQRURUVUUWTVTRPURYUWUTTUVSSUTSUUTTTTUTUUSVTTVTWTUUTVUSSQTSTTSVRXTUXXXVWTWQRPTSTXQWWbXTTPMTTTSYdZZUSUTTWRTUSRSUSTXYVcSXXWUUWSXPZSTSTWYWNOOPUWUUTVTRPRPSVWRUURTSVWPQQXUYRTSTQWSVVUTUUSTUTSUUSTTTUTUUSVTUVTVSTURUUQSQWTSURUTUQSWWZWVWTUSTQPVTUSTXRSUSSSSUWXZXUVVVVUSQVSPMPSbVTWUUTSTRVRXSSQRTTQSUTQOQXXZYYUVRRTTPTSXUSVPRVSWVPRRTUVQUWRSUQVWVTUTSTUTSUUSTTTUTUUSUSVVUUSTTRTTTTUVURUTSVORSSUWXXUXUUQRPRTOTTVXURQMSTVXZfWWTVWTYRVSUWTSTXVWUUVTSTTTTTWRRONSSRPQLUZYYSXSVUSWURVUWXTUVOQTVUSSTTSVSSUXRVTRUWVTUTTUUTSUUSTTTUTUUTTSVVUSTTTTTUWUURUTSVTUOSPOSUWVSURWSTQTRWPVSVSWRQSTTWaZdaVVWXVTQRRNRVVZUQQTOSOMNRPRONORRPTQPRTSbaVSPSNXUVRQTOVXVQTPUUUSTTQTWVTWRVUXTUTWVUUTUUUSSUUSTTTUTUUTRRUVUSTTTUUUVWRSSVSUUTUROSQTWSUQUSURQQRRQRTVVOSRQYWZaacbYWXWSRSSWSQRWUXTUXPRQORUPPRPQSRUQOQUSZTSPJMRVSSWTVSTVUWSURTWSRUSQSYVUXQTVWUWTVUWUUVUVSSUUSTTTUSUUTQSUVUSTTUUUURXPVSVUSUTWQSRRRSSSUUSSRSQRUMSUTVTSPSRSXbZeWYaXUXTSQRTRZYWWPSQOROQTRTVRWXXUTVQSUZWRQSTTWRSUSSVQTUSTTTRPRRSRUTTVVSWSUTTVXUUTXUVVUVSSUUSTTTUSUTUQSTVTTSTUVTVQURUTVTRSUTSVPSPQRSRTWUVUPQTOQRRXOVSRVWacbceXXYXUWPUWRYaVSRWSVRQSTSZXUUTZYXWVYXVVUORWXVUTSUUVOQUQQSRSSVRRVUUUTTVPTTVRRUVVTSXUWWUVSSUUSTTTUSUTURTSVSUSTVVRVRRUSUVRRRTRUVUTRTUSRTTWUWSSTLTQRVVUUTRaXbgbZXWUUVVTRRVWUbUWUSUUQRWXUZbXYXWYXQXdTRTVUXaZWTTSPRTSVTSVRXTXVSVYUTTUTPRTSSRRUWTSXTXWUWSTUUSTTTUSUTUSUSUSVSTVURWSRTSVSTSTTTVVVUTUPURUSUSXSRUPPQPSSVTNVVabfcddXYUUPUTTTWSXSQSNOVTYUZYfWXZVVQVXRbSPSUZTSQRVQUUTSUVRUWPWUTSUSWURTTSSRTQUUQTWUSVTXWUWSTUUSTTTUSUTVTUSUSVSTWURVSTTUTQVTTRVTRWTWSQWTVXUUXVSUSSPPVVVUUPXYaibgYZXTUQRTRWSVSTSRUURXYXYVWYTXUPSUUPUOSVUTVMQORVOUTXQQSUVOQVWNTRSQQRQSTTUSUXQSVUSTTXVTWSTUUSTTTURTUVUUTTTTSTWTSTRSTTRQVUUQUSRVWWWVVVRURXRUSTPRNQUQVTTWXdfecgWZYSTXPUVWWWOPTXQUUXcZRTZTSOVLRUTQSTTYUPRPLQTTRSVVSRWYVTTTWQTUUMTRRTTUWWTXRSTVTRTWUTWTTTUSTTTURTUVVUUTUSSTWTSTRRSTSSTTVUSSUSWTXUWVVSRTUUVWPVTRSXTUWSTZbeecbWaSUOWVWaYUSVONZWWYUXTRQOOWPUTXVQQTUVRTVTTWVUOWSWXVTXUVVTTUTUVRWUVTTUYYRUTRSVUQTUUTWTTTUSTTTURTUWUTUTVSSTWUSUSRRVSTSQVWRSRVQTUUXSYVSTRVRWQRPPQTUVVUacggdddbVXWSUQTUWSRPORUWUUUSTQSMQOUUWUUQTXWQQWUYTZVTUWURSaRWVQTVUTTSUVVWURTTWVRQUPSUUQTTTSVTUTUSTTTUSTUVTTVTVTSTVUSVTURWSTTQTTSUPRRSSWWSRTRSQVTWUWVSOUSWVUdZgighZZYWSRSYRTTTRUSVRTWOTTRNUQQVUWaSWRWZTQVVUSYVSUYSQVUUVWVSUVTUTTTSTUPRTRUSSPUOTUVRTRTTVTUTUSTTTVSTUVSTVTVUSUVSTUUVRVUUUVUTSVSTSUQVTTQRSSTUPYSVNTSVVYXVaddcehaXXVXTSRSXSRRQSUWUPTPSTVVUYVVZXVVVWRVXWPSQPSQQXTTWURUXTSSXTTSUURVSQSVRSTRSUPTUVTSQSTVTUSUSTTTVSTUURTVSUWSUVSUSTVRVWTTWWVSUTVRUPQSSRTTSUWTSVXUTPUTVYUadcnhfcWXUUSTVTRQTWSTVTTTQPSQSXWUZUTRRUUTWVVUTNQNNUWTSTSTXUUTSTTURSVXTWTUTYTSWQUUSSUUVSQSTUTUSUSTTTVSTTTRTVSTXRUUSUSTURUTTQTVTSSWVUQRRWRNQUTSVTQVUUSQZZUVYYcighjbZWURRXSRVTPUQVXURQPPRVWaZWUTTSLTOSVSYUSTQUNSTWTRURTTPXWWPSVUVXSUTVTZTSWQUVVRVUWSRSTUTVSUSTTTVSTTTSTUTTWRTUUUTUTSTQTRSTRSSXWVQTRVRQSVRVTPUTVYYTRWSVXYeffjbeYWVTVPUSSRXRWUTTQXPQVWTYWYWTNPQRQRSWVNVWSXRVVOUTWQQVSWQRSQYTUVQUTVTVSTSTSWWQUTWSRSUUTVSUSTTTVSTTSTTTTUUSTTVTTVTSUSTTUSTTVUSVRTSVVTUUTTTQUUVTWSTaZVZYdiifhdcSZUPSVOUQVTVTUSRTOTRRWWSSWTTSPQQQTTTVUVXZWQVUTWPVQWSTMRURRQWWQWTXTQSSQVQWWQTTVSSSUUTVSUSTTTVSTSRUTTUVSTTTUUSVTSUVTUVSTTXSPUVUUTRVUXWSURTRYWXXQUaXXXdhjkebYYSWUSQUQUQTTRSSTUUXVWUNROSRUTTUPUVWPQUSXSWQUVSTNYVOTUSXRRNRWWSVTXSQUSTUQVTRSTUSTSUUTVSUSTTTVSTSRVTSVWRUTTTVQUTRVVTTTURSRPSRVWTWWYUWRSUOURWYSVXWXYZafcgiicYYUPWQUQQQVVSRQSVWUVUUTRNOPUbVYRTZUURRTTSRQVTRWTSRUVZSRSNRVVTRSURURUXRXTRURSSUTSUSUUTVSUSTTTVSTSRVTSVWRUTTTVQUTRVVTTTURSRPSRVWTWWYUWRSUOURWYSVXWXYZafcgiicYYUPWQUQQQVVSRQSVWUVUUTRNOPUbVYRTZUURRTTSRQVTRWTSRUVZSRSNRVVTRSURURUXRXTRURSSUTSUSUUTVSUSTTTVSTSRUTTUVSTTTUUSVTSUVTUVSTTXSPUVUUTRVUXWSURTRYWXXQUaXXXdhjkebYYSWUSQUQUQTTRSSTUUXVWUNROSRUTTUPUVWPQUSXSWQUVSTNYVOTUSXRRNRWWSVTXSQUSTUQVTRSTUSTSUUTVSUSTTTVSTTSTTTTUUSTTVTTVTSUSTTUSTTVUSVRTSVVTUUTTTQUUVTWSTaZVZYdiifhdcSZUPSVOUQVTVTUSRTOTRRWWSSWTTSPQQQTTTVUVXZWQVUTWPVQWSTMRURRQWWQWTXTQSSQVQWWQTTVSSSUUTVSUSTTTVSTTTSTUTTWRTUUUTUTSTQTRSTRSSXWVQTRVRQSVRVTPUTVYYTRWSVXYeffjbeYWVTVPUSSRXRWUTTQXPQVWTYWYWTNPQRQRSWVNVWSXRVVOUTWQQVSWQRSQYTUVQUTVTVSTSTSWWQUTWSRSUUTVSUSTTTVSTTTRTVSTXRUUSUSTURUTTQTVTSSWVUQRRWRNQUTSVTQVUUSQZZUVYYcighjbZWURRXSRVTPUQVXURQPPRVWaZWUTTSLTOSVSYUSTQUNSTWTRURTTPXWWPSVUVXSUTVTZTSWQUVVRVUWSRSTUTVSUSTTTVSTUURTVSUWSUVSUSTVRVWTTWWVSUTVRUPQSSRTTSUWTSVXUTPUTVYUadcnhfcWXUUSTVTRQTWSTVTTTQPSQSXWUZUTRRUUTWVVUTNQNNUWTSTSTXUUTSTTURSVXTWTUTYTSWQUUSSUUVSQSTUTUSUSTTTVSTUVSTVTVUSUVSTUUVRVUUUVUTSVSTSUQVTTQRSSTUPYSVNTSVVYXVaddcehaXXVXTSRSXSRRQSUWUPTPSTVVUYVVZXVVVWRVXWPSQPSQQXTTWURUXTSSXTTSUURVSQSVRSTRSUPTUVTSQSTVTUSUSTTTUSTUVTTVTVTSTVUSVTURWSTTQTTSUPRRSSWWSRTRSQVTWUWVSOUSWVUdZgighZZYWSRSYRTTTRUSVRTWOTTRNUQQVUWaSWRWZTQVVUSYVSUYSQVUUVWVSUVTUTTTSTUPRTRUSSPUOTUVRTRTTVTUTUSTTTURTUWUTUTVSSTWUSUSRRVSTSQVWRSRVQTUUXSYVSTRVRWQRPPQTUVVUacggdddbVXWSUQTUWSRPORUWUUUSTQSMQOUUWUUQTXWQQWUYTZVTUWURSaRWVQTVUTTSUVVWURTTWVRQUPSUUQTTTSVTUTUSTTTURTUVVUUTUSSTWTSTRRSTSSTTVUSSUSWTXUWVVSRTUUVWPVTRSXTUWSTZbeecbWaSUOWVWaYUSVONZWWYUXTRQOOWPUTXVQQTUVRTVTTWVUOWSWXVTXUVVTTUTUVRWUVTTUYYRUTRSVUQTUUTWTTTUSTTTURTUVUUTTTTSTWTSTRSTTRQVUUQUSRVWWWVVVRURXRUSTPRNQUQVTTWXdfecgWZYSTXPUVWWWOPTXQUUXcZRTZTSOVLRUTQSTTYUPRPLQTTRSVVSRWYVTTTWQTUUMTRRTTUWWTXRSTVTRTWUTWTTTUSTTTUSUTVTUSUSVSTWURVSTTUTQVTTRVTRWTWSQWTVXUUXVSUSSPPVVVUUPXYaibgYZXTUQRTRWSVSTSRUURXYXYVWYTXUPSUUPUOSVUTVMQORVOUTXQQSUVOQVWNTRSQQRQSTTUSUXQSVUSTTXVTWSTUUSTTTUSUTUSUSUSVSTVURWSRTSVSTSTTTVVVUTUPURUSUSXSRUPPQPSSVTNVVabfcddXYUUPUTTTWSXSQSNOVTYUZYfWXZVVQVXRbSPSUZTSQRVQUUTSUVRUWPWUTSUSWURTTSSRTQUUQTWUSVTXWUWSTUUSTTTUSUTURTSVSUSTVVRVRRUSUVRRRTRUVUTRTUSRTTWUWSSTLTQRVVUUTRaXbgbZXWUUVVTRRVWUbUWUSUUQRWXUZbXYXWYXQXdTRTVUXaZWTTSPRTSVTSVRXTXVSVYUTTUTPRTSSRRUWTSXTXWUWSTUUSTTTUSUTUQSTVTTSTUVTVQURUTVTRSUTSVPSPQRSRTWUVUPQTOQRRXOVSRVWacbceXXYXUWPUWRYaVSRWSVRQSTSZXUUTZYXWVYXVVUORWXVUTSUUVOQUQQSRSSVRRVUUUTTVPTTVRRUVVTSXUWWUVSSUUSTTTUSUUTQSUVUSTTUUUURXPVSVUSUTWQSRRRSSSUUSSRSQRUMSUTVTSPSRSXbZeWYaXUXTSQRTRZYWWPSQOROQTRTVRWXXUTVQSUZWRQSTTWRSUSSVQTUSTTTRPRRSRUTTVVSWSUTTVXUUTXUVVUVSSUUSTTTUTUUTRRUVUSTTTUUUVWRSSVSUUTUROSQTWSUQUSURQQRRQRTVVOSRQYWZaacbYWXWSRSSWSQRWUXTUXPRQORUPPRPQSRUQOQUSZTSPJMRVSSWTVSTVUWSURTWSRUSQSYVUXQTVWUWTVUWUUVUVSSUUSTTTUTUUTTSVVUSTTTTTUWUURUTSVTUOSPOSUWVSURWSTQTRWPVSVSWRQSTTWaZdaVVWXVTQRRNRVVZUQQTOSOMNRPRONORRPTQPRTSbaVSPSNXUVRQTOVXVQTPUUUSTTQTWVTWRVUXTUTWVUUTUUUSSUUSTTTUTUUSUSVVUUSTTRTTTTUVURUTSVORSSUWXXUXUUQRPRTOTTVXURQMSTVXZfWWTVWTYRVSUWTSTXVWUUVTSTTTTTWRRONSSRPQLUZYYSXSVUSWURVUWXTUVOQTVUSSTTSVSSUXRVTRUWVTUTTUUTSUUSTTTUTUUSVTUVTVSTURUUQSQWTSURUTUQSWWZWVWTUSTQPVTUSTXRSUSSSSUWXZXUVVVVUSQVSPMPSbVTWUUTSTRVRXSSQRTTQSUTQOQXXZYYUVRRTTPTSXUSVPRVSWVPRRTUVQUWRSUQVWVTUTSTUTSUUSTTTUTUUSVTTVTWTUUTVUSSQTSTTSVRXTUXXXVWTWQRPTSTXQWWbXTTPMTTTSYdZZUSUTTWRTUSRSUSTXYVcSXXWUUWSXPZSTSTWYWNOOPUWUUTVTRPRPSVWRUURTSVWPQQXUYRTSTQWSVVUTUUSTUTSUUSTTTUUUUSUSTVSVUUUVVVVSSSSUUSURVYWXTTSSUSUSQRVXVTXXZTWRRRQSXYaYYXQVUcWTUVVUQUQURWUVWWVTWTYWXUYUVQTQTaXXPPLQPPVRWUSSRURUVUWYQRURUVUUWTVTRPURYUWUTTUVSSUTSUUTTTTUUTUSUSSTSUUTSVSVWTUUSUVUUUVXUTQQRSVSRSQWTWTTYYZSTTQPRWUVWdUXTUVVVQPVTSULSNSVRUYYRUTUQXWbUZXUUSTTZXXRUMSSSSRSSUTXTVSPVUPWTSWVVXQSQRRRTTXWWTSUTWSSUTSUTTTTUUTTTSTRSSSTVTSTQUUUUUSUTVWWVVTSTPRTVSQSSXTWPUWVUNTPRQSWSUVacWTSTWQWTVWRSQNPVTSVRXUVXXUVXVPTXWYPSPOYbYVOTRTVUQOTSXSQSRTUQVUWZVRUNRPOSUSVWWWTSUTWTRUTSTTTTTUUTTTSTRSSSTVTSSQTUUTTUUSWWUWSSUSVTTTTPURVXTSTWUWRRSSQTXZWbYaVUTTUVVSTRWRQOPPSRQVTTSRVUXUQTPUUWWSNKPXZbVYXRWWUSQTPSRUTTUVRWUYXRROSROSVSVVTVTSTSWURUUSTTTTTUUTTTSSRSSSTVTTSTSWVSTVWUXSTUPSSTXXWRSPUUXSUPWXVQRRSRUUUUVXbWRVQUTWVSSYZWVPQSROQQUOPQRSNOUTOSSVVXXLKRTZYXSURWSUQXSVVVRSUVTURSVTTPSSRTTUVVRVTTSSVURUUSTTTTTUUTSTSTRSTTUVTTUUSXVTTTWTWRURPTTVUSYUSSTUbSPUYYWQOSTQSXUUXUWWYSQVXURQVTTSTROVSSORQRURQPQSTQRORVPbZXPLMUXRPVSSUWVWSPTUUTaUURTORSURRSUUSVWVQUSURSUUSVUSTTTTTUUTSUTTTSUTVVTSVTSUUUTRTRSUTRQVXVTUVXUUTUUTRSYYSTOVTRRUPWTYVXWUVSSTVVUVVUZVUUYTRSSTSPSRUSQXRSMRTXXeTPOORTTWXXVTTQQSTWRUYXRSTTTTRUSSUVTVWVSURURRTUSVUTTTTTTUUTSUTTUSVSVVTSURSRTSTSSURWSSSUZXUUTQVVRUQSPVYUQTRSRSSZWWUTWSXRVQWSZQQUTVRSPQQSQPSSVOPVZRSVWONSRUVbWXTTSTRQUVVVVXQVVXUSWSQVTXUYSUVTTUWTWUUURURRSUSVTTTTTTTUUTSUUTVSVSVUTSTQRRTQUTRWTSRTVWWUWTXSTXTURRPVWOPQSTSRSTSUTYcWTRNUUXURSUUVZSXRWYVVQXQVTTUUSUZWWORQOVcZYXUXUTSRUTYZWSTVYSWRVVWUQXWRUUUTWSTTUVRUTSRTTVTTSTTTTUUTSUUTVTVRUUUTTSSTTRVTRTUPSTWZRTUUVWVWRSNQRYWQNTTRNUVVXTQWYXTRTWUVXVUQVVSaQOQYVSRNWUQTVYRXYaSVRTOMTTbdXWRRRSTWXQUXRVUYSXWTWVUSYQRVVTWTSSTVRTVSRSTVTTSTTTTUUTSUUSVTURTTUUUUTTRVVUTRRSTTUTQSVRPVWUUSPQYUTKQPVRURUZUSTYZVSOQOSXXTWWUWYWXTVVZXNUXUQPWZTPSUTWQVTMKLUSSSUWUQQURTUUTUVXWVTQTXZTWVQXWUVTTTRVSTWTRRTUTTSTTTTUUTSUURUTTRTTUUUVURQWUTVTRTUXTOSQUTRYVVSRPUYcTNMVXVQUWRTUWVaXVSRSUWWTOPVUVYWTQUTUSSUUTQTUWQRSURSUaPNJOMWSQUWVRYWQXRRRTTTTTPUVUUTXSXVUUTWUQUTTXURQTUTUSTTTTUUTSUURTUSSTUTTUUTQSTTRVUSSWYUOQVTSRWXUOQSWYXQKSUXTWSTWUQTXYWURRTTVXWNNUUWZTQSVTXXTTXZURSUUNTTUQVaWTRRNSTaUWVRUUVSTTRTUOTRSVUQSSXSUVSSUXUSUTTXVSQTUSUSTTTTUUTSTURTTSUTUSSUTRQURTRTQRVXSTURUSQUVVQSWUTYYONQXWVNSXWTQTWQVSOPSTTSSTTUSQWUSRQRVWUOUVSTUXXRONVTRXaZXTRUVTQSUQOXUPSWOWRVPOUXUXSUXTSVQRVVSUUTSVVTQTTSUSTTTTUUTSTTRSTSUUUSSUTQRVSVUTPSVUOQZWRQSVUSPSWUWUVPLTXZURSXUTUUVZUTSTORTXXSPSQSRZUUSPXZTQVXWRTXWVRQUSRTTZZXXOTTVRUPOVXSVRQWSSQUTXQYVVXXTTQTWQQVTSRTVUQTTSUSTTTTTVTSTTSSSRUUTRTUVRRTSUUSTVTRQQXXUTVTSSRSTWYUTNPTaaSPUWWVRQZYUTUSRSRVWTNRUQQUTUQQTVXOSVYYRQVWURTbSKNUZUXWVSXUXYPWWVTSVVVRSWSTPSUTUbURSWWOPUSSQQUURTTSUSSTTTTVTSTSTSSRTTTRUUWSQSTSSRVSUTSTVXTRXaRQNVYWVTPPSXSVUUYVTUVVWXZTPRUNRVWTRRQQMaURRTRUXVROUYRRWadVPRYRLNTSVWSQTYUSRRSRTTXTRTTQVTTUTTTYTRTXUQQTRSPQTURSTSUSSTTTTVTSTSTTSRSTTRVVVTQUWSSRURVWTVTRTTWURRPVYXTORPUWTUSUXTSaUSRZVTQQPPVNVWRRUSSWZRUUPTTWPSZXWSRUUVRQXWROTQNSWVQQWUUQSVYVTWTQURXUUYVWWTRSSVSUSSRSQQSUSSTSUSSTTTTUTSTSTTTSRSTSVUSTRVXVTRTVTUTWQOQWSTVTWSTVWPOPSaVTPQVVTRMRWbWQUSQUTVWWQRSSPRZXVPPTXVORSWWRSRbWTMXaWRPRROTVRSSPVORTWTQVTSRRVOTUVXWTRRQTSWUUSTRSRTSSUSUSSTTTTUTSTSTUTTRSTSUTQUTVTVVSTXVSTURSRSPTTUVUUTSPSRRXYSQTSVZWSSSYWVTQTQPVUVTPPRNNWUXVTQSXYSQWWTQPUZRRQWZZVRWSTWYUSTVOUURTTVQTTOVQSQUTSUUQQSSUVVUTTUSSTSUSUTSTTTTUTSTSSUUUTSTTTSTUTTRTUUTUWSTTQSWSUTRUXTUPQPTZVWSTUVRUWRORTTUQSWSNQSTTTSYVQQTWUXQMPXXTOMVXWOOVRPMTaWTSaXTRSXSQVSTQQUQVRVYQWVTUVSOSUTRSTRVWWTVVTRTSVSUTSTTTTUTSTSSUUUUSUTSRWURRTTRURTVTTRRUXSSUWUVTVSMRUTXWSRSUXSTVRNWXVWUTSMRUUVTQUUQSTWVRVVTTWVQRTVXTMSXWOLNWXRWUUQSXXUWUTTPSNSTVVPTQUXWWQQSYSRURTUWSVVURTSVTTTSTTTTUTSTTSUTUVTUTTSWURSVURTQTUTSPUYXRURWXWVPRQSWaVVMNQWVUUSTVVVTWNPUTTPVaVLPUOSRTQVSPPPVaWRPSVVYPTdXLMUUTORUSPTVQRRTZUUTSURVRRQUXVWRSQXTRUTSRUSTTVRUTVTTTSTTTTUTSTTSUTUWUUSUTSUUTUUSTTTTUUVTZUQVVWVVUQRRRVWXVPRVUWSTSVUUYUOVWRQLYVYWSTYWPRTWUSWROYZSRQRVUUQMVZWLOSTQSTYORSRUUSUWTRTQXWXSVSXVRPTRTTTSURQSSRRWSUTVTTTSTTTTUTSTTTTTTVUUSUUQTXUUTRUVTRTUXWXVQRVTVTSQSSTWYUUNMSXSWXSTTRSTTRWVURTRTSSUZZPLTSSUXVOPWWUPOTVaTRRYWRQTWOUTZSRUNQUTVWVQXQYUTSSRVWQPRTSTWQTSRRUPQVTUUVTSTSTTTTUTTTTUTTSTTTSSTRSWTUURSVVQSTTWSVQTUSURRSVRUTVQTNQYTYSSRORUYUTNUQPXQOSXSRVXNNTSSYXVRPRTVTTRSVVRQXYWUUQTUORTSXTRQQTWURWRUURSTVVSRRPUVSWRRUTRVPQVUUUVTSTSTTTTTUTTSUSTSSTTSQSUSTTUWURWVQUSSQPSUTSTVSQRWTUYUSRPRTTVUQOQUVXTSQTVTQUTVYSQSUQSSWSWWZRTSVWWPTNTZTMPUaWSRWXXQWSXWPSQTSURTSXTTVYVYOSSSUXRTURWVRWQRUVUVUTSTSTTTTTUTTSUSUTRSSTQTVUUUVVVTUSRUUSOTVVVVURVQSWWTTSQSRTYSTRUQTRVVWRRTQTTUSVVSLUZaPQUPQSXZPQPWYTTONWXROPTXVTUXVVQUUbRTURWUTUWTTRTTSVPUSVTWRQWSWUSVSUTWTVUTRTSTTTTTUUTSUTUTSTTTSUUWXUVSSTQRSUURMVWTTWWUUTRUSSVTQSUWXVTQSRVURSUURVXUWUPQUWQQWZOOUTQRUUWQQUTWbRMQYZPMQRUWOTXWURRWVVTRRSTVTTUTTQTPSVTURTRSWUVSTUUWTWTVTTRTSTTTTTUUTSUTUUTTTUUVUVXTTRSTRTVRUSPTXRRTRSVTWWXTUPPPTUYTPVUSUUTXRRSWWVVURUYVOTVZTOVURPVaTXKRVWUTPOSUXUTSTUQRQYPUQVTUSQPSTXUWTUYWWSTTSSRSRVSUUQTTVXTWSVSTRTSTTTTTUUTTTUTUUUUVUUVTUSRSUWSTWOSSVXYPTRSRRUYVVYWTQQRUXTVWSQWWRSSSTVSWSTSORZNQUXWRSWSQRXUSQQVRYYWNQTXTPRUPUNUVTSQQTVUPVSQSURUSVTSXURSSSSPWOSUPTTVXUVSVSTRTSTTTTTUUTTTVTTWVVVSTWSTTTUUWSTURPTWYTRRTQTQUSRTUSOSPSUTRQUQPWNUSURPUWTRTSRTXTRUXVWSTVSTXYWTTQSSTWXMRbXSTVQXVRRRZSRRVUSVWVRRUUVTPPUXRWSSRNTMQVRTTTWUUSVRTRTSUTTTTUVTTTWTTWUVUQSVUUUWUUTSVTXSWWWSTTWTTRVUSTVURQSXXTSSXOQQUSWUQUTSTTXVQVaWMTUWSRTUQMQSaTTMSSWaXQMVSXTVRVVXTUXVPVVVUVUWVVVRUVSTTYRXSTROSNQWTTUSUTTSURTRSSU", "c5": "NTTEENPIKEJGIHJNGDULJHEDEKHLMKILPLLLTIHFFBKDNHIIIIJHHHMXPGACJNKLRNKEMFCIHEHIACGDGGKMOKKGPMGaMPKGHDFRNLFOKQNPLI8GFJHJKEMNHEEK9FAACOKHJGFMQGFMMJHAEHJDFNFDEQNLOPKJLFIKIELGLHOMKJHIDHJFSKJFNNNKEMTFFJGFFGLIIKKBLGMOJQLFHIJOJPMJJMDGEIIEEFG9FIHKIMPGKMJMWQPIFHHLIMNLONKMMJMCIJBHMFIHQFFEGG9FEGJDMHGOGHLNCJLHGGFDJGIHGHIDONPLKDMJFOI9IHPLNHHJFIJKKRHKGMINEMLNLNGJEJHFHJGJLCMKOJHPKKJMKMGKMJOKEHEJDEJCFCJJHGKLQEMLIYUMICIMMFFOSPEKJHMHPECHGPGFHHOID9HHDDGLGIHKJHMJGQ9GJNGAGHHGGJSDDOMJPKLGJLJKD9QKKKNDGFLNINQIFKKGGOHNMLGHJQCGKBHLHEKJOKHGNSGMNMKCIMJNJL9JGEEIIEHFIIIFMOJKGQVRQHENIKFHTQIELKGILIAMHKLHGIEHIMEDBHGGKJIIFCPGHIIKDMJHJCGHEHSOJNDDQGONIHJIIJJJPJEJDJNIRHJLPLJIFGLMLKIIKLFMGJFGHHKCLPHHKHNSJOMGHJGLJOIKFEEGIIIEIIHJGGMNJJNVVJONIHHPNILQHGHJELILFHMNDKJEDLCFKCIEJKIIIDMEFKJDIMGELJHGEFTJHNHCGIOCPQIDEMJKKOIAHJITNDIJPLRJHEMHGOHJLFILKGILCELJHINDNKGGTRBLLHIIHFLQHIDEIHIGKIBMFFGDPNKQUSMPMOGLNHJFRLBFIHJKMFIMDOLALDIFBLEEMIELJGNEBGGENIJJJGKJFDVGIKBEHGGLNMLNDGHNMFOIFJLNFFQDSILQLHPICGIMKHMDGIFQGEIHLKOJEIIINNNOIJKFLCJIQMDJEJIFKIHNFCEHEIPMQSYILONLQDFFHPMDHDKFMKJDNKHIFHFKGIFFLKGKFKLDBJIDFHJKIILIFISIHHQBDIHHIPLJILEGOKLGLFRMCGMJJLJJULPHFFIEPEJGKEGIIMHDGOLJMKEEHNJKQNLDLIIENLLKGLHFJHIQADFEHJEJRQSXRNKONJDHDHLNJHHJELGILNIFFIHGFKJIGKLBIPJEBDJKECHHINHFIHTMCIOJFHEHLLDLHHMJHLMFMNOHIKHFJKDRMMRLIAKKFGLGL9KFGNIEOEMOLJFOBKEFMLNSECINMHKINKIHMDIQDFCHEGGIHXJOdMMUIEGGHIJEMNIHELEEFNQEEGD8PHIGNLIFJJKKDDIGGJAIDLJMCBYMBOMHHFLCGQHCFLLEKJNOCOQIKLDJIHHORILNKOFIFEJMDGJDHGMKBOGPNMHFGLIBGIINSGIEMRGJOFNHJKKHNEIDHDFFKDSTXWRQLIDGHFJJIFOKIIFHBLJKLGDEFKHLNFNHIKLBJFGHGHDIHKCGKFRMKLLJIEJGINHIDCGKLGJPONJIPODFHDQMLKLJENLLHDJHEKGLFGILJJJOHMMJDCJFLAMDKQMIKISILILCOIKOKHEFJGFCJIGSRXaMQIMCIEKFJFHNPJDFJKHHGHKHFK9FHRNFNLHDHHFLDJDDJKJFAEROGKOJEJHFDTEDEJCALJMLMRLJLENLGDMNJFQILCKMLLICFGELHMMBJKLNIJOJDHKGDFJHGLLMNJNFRJLGHKNNHNDIHGFGGKFLSVaVGILILJGFHFGCSNIFEMKDJBGIHLHKHLEKPNHHBFLFLHBDIHKHFILKJMLGNHDNINMJCDEHEBKIUIQJJLDKOLKLCHKSBLEGJOGPCCFGKDSJBLQHMHLODGFLDEFIHJKJHPPNLKMKGJMKMKELJIFGIEJMMSUcRKKALMJKEDGHHNMLFFQIHHBGHEMIAQGLJNGJFEJJMEGFHIKEFJIOHIJILELMCLOGIFG9GHBGOOTLHGIMIKQLBGFMSDEIJIKJGGKDEILEHUHKIKMGKKHJHECIEGFNJMLMTHLHLMKOGJHILMFDLHHKKUUPUSJICNGMJFBIIOFDPGKQIFFHEBFHOMGLNJFDIKGIMHFDIHJIELDMJLFBLLDMIGOCJGIFGAHIJOINQIGJNKNILFHELQIKDHKIIEJJCLHICQJPGNJODJENIAHH8IFDKOHRNLRGKJOPEKEIKNELIMGGNPRTPTQQBDMCJJJJHIJFDMRFMLHFFBEGFOPHLLEGFHGMLGGFJGGKFNHLJHKBEFJQJEMLGCIKFGFHLNHIIIUKIGOIJDKLJFGRHIJAJEIKIHLGINIGKOKPJKIGHGLEDEJEEJKOPPGLMHRNPFKBHOGIMKMFLTNMSQMQPCNCIHIGNJFFIFJQIMLGHFHCJKHHLQFDHFGLNGJDEHLJFLKJNIFBIFFIMLLICJGBJJEJKLJGEJKLRJMEGGNIFLHKLJLEEFK9IPEKJNFJGJMQJAOMGFGGHEDGJDJKNQJMLFPRMJMGIJFKGLOLIVHOLRRQPLPCILFEFHPGJFKHNMKGIJGIJBMHGILOFCLELIMDIAKFNHNJOIE9IFDMEIOMIJCGGEJOKLHJCFNLHNLKHHGKLHBNJNKJGJBKCININGJHJMIFMQJJLELDEDKHCGLKKPJLHOIQOHRHHMHDLGGMRSNPGNWLQLKPEOGEECGNHMIKFJQGGLDNIFKHIEGHPHGJLGHDHELHHGNMPIEBIEEMHIKIIJNGBJFJPMJKFFLHFOIGMHJGDKOIFJGRDNAGEPGIOIFJLKJLEHNRKIHGFDHFKJFFNJQDJLLQLGLPNJJJHFIINURPIHQULROGOMIKDCFIGLJMIGJNMNIDHLJLFFAHJHPIHKGGAEQHDIKGSNEAFHEHOFKIHHDGKGDJMJIQHAKIFKHKIHJGELFMPHHFJLFKHFMKEILJHNJIIJILMPGKFDBHIJKIJIMMHERJNMFMMQLHLIHFISSQKNOPRNUILMKJGE9NHCMMCNJHNNOKHCKKMBFFGHKOKAKCHFKLFIHBTLGIDFEKKKJGHHCFGHJKIIMIMILFIHIFFJJHEGIIJNMJFHMHEMMFJGJIKJKKLELHMLINJGCFEGPHMGJJMFOGPJKNKIOOMFMGJSLPOHQNRPQTIKJMLDDJFGNJGFFNISNPGEBMHJFEFLHKHIKFEGNJHEKMKILEDJFLILJIEJGBDFEOLGJLJIJLJHJEFFDIKEKFIKILGOBKKCOKGJIFJKGPJJKHLNJJIJLEBJJGNJKKIJMLJMGJPMIPOLJFOQ9QOKNMSVNUMEKKLLGDHJIMGAGHGSPQJGIKFIGCHFOJCIFNDGHPFCILQHDEGGEPFLKHGIEGDCGDMKKJJJIKIMHFIDCECGLGHNGKELDGPHMIMFFILLGGMJLGPGQHHFHGPFKFLHMFNJJLKHHMILOLHOQNIOETHMINOPZNWKKGBPKFIFLJIDIHIMMLSHKILIDEFILHHJEFJLGMKEHHNMHCH8EPGNIJFJFEEFEEKDKHGRIGHPGIJEECDDCKOFHGGKIILHHSEJGJLHKILJHJLMMDQGEGJIRHEGJJKNKHOKBLIMASMENOQQFNJKNIJTTTTQNHIIKIMCQEAKMDKHNJMPKLLIDGIFLEIEIHIICRGHGOFHLEFFHJGOIIFJEGDICILDMBCPMKGGOGFFIBBEDGHLIEJALJIKEPFMHDKJLGMJNEELPJHPIJICNKIMBJJQMFPFIJFMEOFOQEWOJLKGKPJLSWTPORGKCIOODLEIKNHEHIKOOGSICHHGIGIGHGIBMKNJHMFEKFHFMEILGIFJJEDGFHG9JFFCLSEKJMDFDGEEBIIEASEFFELFKINHHMJEPHICMQEJKEQGMJNFIGMLFHLOKNGNDILIIJLJKQRKQOLLGJLLPRTXNTHIIGKMPLKCIILJEIFKOKOKHIHKHCKDFILAIIPKNICLK9HGMCJNI9FJJCHEDFGNIFGDLIJLGOJECKCBDGEGICLMEIDGIJM9LNFHNHKLFGKMLMIGRLGNNGDKIGNNLLNLHIIKFOFIHQRNLNRIMHKOFSURUUKGFIOILSHKGGNHGEKFNJMMKGKKJBHFDLHIAGORFOEILBGGICOMGDEECMDHFEGIHKGDKLFKGNFLEDEIE9DJDEDNILGDFHLICLGJQFJLMIJHEMKMIKNOPHEJGHHKRJMMNGMEHJMGGPNNKJPLTGKJNFXRUSTGHHFOPGRMHILDIIKBIOLNKFLLIGIHDJCKGJFWBNFNGFHMDCLMJBCHEGEJGDJHGEBKFKJIJGCNGIGEDIDBFFEHFHOHEIIGIIDMDDNOJLNIHFHJHMQOMLODJGKGCQOOLLMHGHILINLMFRLNDSNGOINVNaOOGJLNIHLMQNKEEIKGDIPQGLGMGJHIHFHGLCHTELGIODJKFBMLGEEDFGGHDDKGGEICIJIJJEI8LGIGHFBEIDBHHGGDMLDMHGAOFIEFJIRMOJCLJIGOMJRMNFIFJIKKUJOJNFGIIRLKEJNNETOHLPMNTUSPPHRKOFFDNXGJLDJFGFPQKIJJNEFIJHILGHJLQKFBMKIJHCJMEEFEFDDLEBGGHDJGHEKHIKHEDGHGIJDFBGHCFDHFDJJNIGHIDKHIHGGIPOQHLLGFLGKPNRMCAKKKLMQPKINDKMNKHJLJIONNPJQMQRVONPOPLFFLHNMOIKJEDIMMQMENGJLDBHMJJLFQHNDELJHJICNKGBG9HCDKFHFCFGHDIIHCFLKGFEGFJDIIEEDFHJ9EGDIMIJJLGEDKJJGHKHENURJIBIMHJISPFIEJNQGMOOJKKONHEJMKGKNOLNOJVRSQSJMUMGLGHMENLLMLDFKONOGLJKNGDBFIPHMOGMGEIHNHIEMNFCDCJADHGEGGDDGDKGGGFEHIMFDGFIEGFKBDFMCFCDFJKKGGJLEECKLLLHCELOVINDKOGLGJLPLIIMONMKLMLRQDFFMLDJLLNMMREXRVTMSDKRNJKIDLMJHMLFKMPQNGDJSDFEBALPNKLMGHHIKFKDONFDF8JCCDIDGDEHE9JHHEGFCCMFKIDBIFFCFIGDNDBEDHEMKHDOC9MEILOKEDJJNETPEOMLEKGIINOOLOQNFILXKGKDMJHELKLHQMMQRZPXMJIMMOOIICIKNLFIKPMSUFFGMPEHDDIKSHILLFKHO9GKQCIJACBK8FHHCCDHF9GGJGDHCBEHLJIG9FHKABFHMGGDEEDKGKGILGEEENHQJFLJENIGOPFOLIJHIHJOPPPIQKFYIOFJKMEJIGKPHOBTQUSVWMLHKKNQKHDGJLMGGJQPWOHKFNKDI9LGGQINKIHMKFEJOGELF9EJCDGFDBFGBBGFKEEI6FDDDMMEEFCFIEDGDJJIGCEIFFKIELIJEFELOFPJJKFMHNHPPFKMHIIMHQLVMKPRIOEOLJMGJIJFPHJMJWTXWOQNIHFPMPBKJGOIGGMJUVFOKGMLBEKIJENKPJDNHJHKMHEFLABMDEFIBBGF9CCFLFDB7D8IAGGMICEHAJCHGDFHDOFDEKDHIKLIEHFJGLNKJNLFMIIIKLOLFJMHRGLNMVKUNKJJHRDMMEJKJIIKJRYQZUINQLGMJOFNEMKLKFFOMVNMRILIGHHEODGOPLFKMGHOKKBDGHEGCIFL6DHCADEAIJCBHBBBCHCFHNBEDIEDFIGCFGINFDGFHKILHIGGJKKLDMHPNIBLOAHOHNLLLLMLLQNTQMJJKKHLNJKMLGELHLPXYWPOFKRILLILHMNFKKLIPQPOFQMHNIIIJGGKRIJKDOKKMGGDFGCIDEHM9BGE8AGAHG9DG88DCCDGDFLJBECKFCKFDDIGEJJJFEHLFPHEMCJKKJIMGJOHLIKKHLKNNRELQHTOJPSGOMFIKMKNPEJDIGLWUfLRJHJJPIJNIJLOJCONQJUPBJEROMIBOFHESKLHIJNJOGGICFDEKBDKFFFCCBFCFGBAAECC9EDD9FGILDEECJGGGFADMCIFNCIFGHONJGHJIJIJKKEPIOIMGHIMMQJMNHUIRLHNTOKIKILKOPIGFIIIbRXZMIINGFQILNLJKJJNPOTOKDGIJOSIIIHIHRLHHKPKNGEKGF9DJHDJDIHDADGCCHBD8A9DBE6ECBBDJJGGBFEKHCGICCLIIJHHFHLKQHIJIJKGEKGNKGSMFHLKHMPMFSVELQHNKLSNPENHJOMKCJJFTSVXVJMMJGFMMKLNMJKKPOMUMLHHFJOHSNEIIMNPGKIRHMGGHGAGCIHGHDFGDCHDBEFA7BA8BCAC8DCAAFLGHCGEIHCHIEGBMIHHEKDQIOLFIJMIFFJJJIPLMPIFNGNMGRRFQKKLRLFNVHNJOGJMMGKGKUTWUKOLQFEJHLLNJHPKRPQIQPNDGIKKKJLNNHPLINJNQELIJEEDFI9NDHFBFFGGACFA789BA989BAAE99DEKKDCGFJGDMBHGILHGJIIJEXIKEGJHJIHOIEHNRMKIKGPMOQJMILPRLGJMIWQLLIIGHPIIOUaSPJLQJLFJJKMJJLHQROPRITCOBHOJEIHLQRMIJMPFPIJJHCGGBHLFDFDEBJGBDGA5789BAB986CABCA8HDJKCEGHFIFHFICRHBIJFNKOOHGGHEGIMNHCPMKQCNPINRHQEJMNJSNJJJOLOSLMFFLHOJObXOLOERHKKJLJGLHMKPORSNIUGNFLLHHIHHQPUJKJIQHHMJDIEHFIICIAGAIIDCGC7677BBAA97879CD9B7JFGJI9KFEGHFJGLKJKHMLIOMHHHKHIHIEPKIOKEOHSMQJIPHHMKRIPLKHNOIVNKGLDOETTcQNLBKLPFKOHMGFNNIMQNRPOIMOOCLOFFFIMSQOLIKMLMEGLGJCGIHDGEDGHFEDC8877B9B899874AACC8CAKCIFJHGBDICOEGSEKLMJGKOJDMHJHJDLKKMIOKHNQNQHONGMILLPHONKIQIKXLJHKJJIfXSOI8KHMNNEMGINKOJLMSSJNJKPOIMGIJHDJUSJJQLKQEGGOGDFEKEFFEHFEHEC9897B9C6979676698EA9EBGGHJJDI8HHAJPJIPOBMGKQFJNGDOGKEKIKPEJOQLQHPPRHGIMJJQIMOLESLLQMOGMFSYaWEHGHJLSJHEHPGQKLIQOJLQNJRLJNFOEEINROOMIONMIFJIIEJKCHGFIBECHDAA698CA987876777788EC8FDCIIKFGJFFDGKRKMJOGEMPLJDMGNJGIKKIOCNNPKJQLRMNIIGLNMKLLMPLNJKSJJLLWZXQGIHGIOPIHMHJJLRIOPHJINMRQGHSIGGLKMQNNMIMOFQGLCHINGCGMDCDE8J8A7A9BA9A76866768569BDB9GDCKGIGHHIFHKLKRHILJLQMDJJKNIFJELQLJMLFMHVNMJSIHLKLLKKLIPPMHPJJTJMcaMKOEJIJQKJNGKDOERNRLHKLFTHORNJMGEPPKOKJORGOHJOHLFHKEJNCDFC9DH999BAB7A787576676866BCCCAJCCHGNADJKFMNGOKJMISJKLIJMKKJDFPOKLJHKLKQSFNNKNMIHOJIHLONOJOILOLWcULLJJJOHMLOEHHKFNIUONLGOIMMJIROFFSMBMSJJRKMKKJMKMHGGHKKDFBAAGD89CAAA97885575578567BABCDEHAH9KPBDHMEPNGLIONMOFLRIGJLFJJQPLGFHOKLOJNLQJQLIKKNFEKRMSEOLKIQaeNLNFLLKNMNGKFEGOJMRPLIMOJJMGMLNKKPIOERNMOJLINILSMBJNDFMFB8BDEEABAB8AA86674555777589AACDH9FBHDHNEHJHLNKKPNHQATPFJLKEIRNKKMM9GMNMKQJJMPQHKNLFLHEMTLRLMGIWadILLLFKLSILJIJHEJQNKONJSGJILMNJBRJJNOJSGQMLHKILMQNHP9ICFI9DBCCDDB7AA9985558846558987ABBCID9FGBGIJMJELIPNLMNMLMFONICJPLMINOIHFHKSKREMKPJPJMGLIJGIQUJLKOKVgMQHTEGJSMIIKEOJFQFPOPLLOLDGQNIFHPMMDMQQJNPHHKOLMDRSFJEIABHABD9IAB69BA847665384658A87ABADFEH9BFBEJPHILMITHMJOOLILFRNJJIMOGKMJLEKOMTHJOJMOMDJNHEMIRISJONMZaREUJHKTIKJKENLKILNIMSNMMEMJMKGNLEJMNQNJLMJQINHQIOMJNIGIABCDFCICC979B97746655665677B96ACAFGAGCDBEJHMLLPKLMLJIQLMLLSMKIGLOFLGNOEMJKULLKNKKHGNJINDTMGMQKPSeONPGSMPLLFGJNFLMMLNKDRRLMGFNMLAQMELKJRKLIKLLQIKSHMNHHMNECECAFEGDB9B97B8565666467588AA8BBEECD9GCAHFGFTNIMLJOCMPMJPQNHLINMJJHUHAKMNNNQPERFFJMFMINRIIHOMQIeYMIOJMUKQGJDIMIKHQSBQGNLVJIHFJOMJLMOKFHOMFMHRJNMMPMKEJILLDDDHDAJCB9C8889666476665799BA6CCBGADABEIBHCQGOOKIPHJJNNNLQJUFKSDIERMFLHMQHTJONMEJIIHJLPQIGJNNEWeYJIJLRJUOFGMFFOMIKSNIONKJSMG9DOOGROMDJMFIMRKJOMGPLMMJGIFLLDGEDBICCB8A956866555666799A8DBADFD9CADHKBNJDGWKHINKJNOMPLMKMNMMGRIKKJGSEMPNQKMLFEKFOMOILNFGQGVeYLHJPHTMOMGFJMIMKPHQMKLQGONIEFKRMNJHLHHFPLIJRNLMIJONGNHAFMLDHAHBFCBAC67678557657977B9ADA8DGBABDEENKCFJIOLLIGOKRIMQNHKPKFGWIJIMMNHLLQUKJJLHIBOJPIJNHKMIQeZKOLLKNPIRNHJGQHJJMMLMKRMNNFKIJJSOGEIJJKNIFOFOQKJJMLMMFJHGBGMJECDGBBBD848587666777988CC999EFDBFCCMIGHJHKFLLKNJKSMDQKOQGGLJLRNLMNJMENPNTCQCLFNFMQILHGJPMXdQILVHMNLPJMMJMLMGMGGVFKPSLOEJKKLSHFKGJLKILCIRMKHMIMONLEIJFIBIKJADFE9DDA668577686779ABB97A9GEDFACKJDGMIJDLENMJMNLMNQJNMIEJNOEQISNKLGPPJQJKNCOHJJRLGGJDLXaZMGODUMJMMMKNLOMHPGIGJSLMQNLMJQIGQKJJFJLIJJELNRFFNLGRQJIGEFHIDIJHHAFBC9E78688569668ABD696C8GHG9HGGHDHHIJEJKENMLOOGRSLJHFLHNJJMRKJTJJONMJPINKDIJSLJHDIHLYfSKMHLHUKMIQHKRIPLKJLHIQMRGSINONHJQGMDKHNEDNKEIUGLCOPJJKODCJAHFBMGGGEDB9DA7968687887CC5A78ADHHAIEHFBGLFEENIGENMKJPIOWNEEHIFNIOQKLNIRVLFPMLGNIKGMPJHM9HITSfSMEMJIIYILPILHRJOLMHKKLRHKSRNJDNLNKKIHJEKJIJBPPEJHOMBTIBODGHBHGGJHDIDC9BC9A64A888AAC6978CAHFFIFEEDJHEGGGKHHHOINJMMMWMJDHEGPEOLMLOIPTQPDPIMGLHLMHQJJHHOQYZSHKIHIIIZIKPIJJNORHOIFLNIPORLLKILPILLIIFHJHGIJSIKMFLKDQHFHHEHDJEFFLFHB99DBB78899A9D6887ACFBIIEGBFDIFFJDIDKGKJOKJHORRMLHGIGMLGMFSLLOVQKMPHKGGOLJJJQDNMORXYKHPJGGLJNUOMKJHMNSOHKIQGOQJKNJMMKQEFHOMDHEIGGMRKJKJK9IPHGFHHHGDJCEIIHDD9ADAB988ABB99859DEBHFHFCDHFJHDGGDGLJHGOOINFONPOKDJJNHEOCNMTNNSPMHKKKOCKIKKKPJORTYSHJNJJHINJKXKMNGKPRNGNJPNNNHNAONOQFGHLLDMHJCEMHPPKCKKDGMLBJCJHGJDGDCIKGDC9AEAC78CAAA87ACF7HGGCCFHCMDGEHCEHJMFPIJQJKNJPKNKKFLKEGKQPLRNQNLOEMPIIHKGHPQLNXXQQGLHMMIIINKKVOAMQINIRHNVFIOLMHHDRNLNHHLHCILJGGLOLPDEJHJHNAEHDJGFKCGAJEKI9BBE9AC9B99B8AAH8FFDDEHDDLHEGGCDHELLFMOIIOIOLJBNTGHNJHFJMRPNTJMJIOKNKKKDHOLMSUWTRLJLBJMQHJNEGQPSENKNNHPVHMQIJMIKFITHJPCLEGKGKIKHKPJFKGGIHHOE9HHCJFIFBHEIKF8CDBBDCC9C7DAHBDFDBDDJEHFGIGACGHGJMIQLDIMNPHGJGJNTJMEEJNTNPPHKKMGONILNEKLILUYWTTIJFGFPLQLGHKIPOTHKPLRLJRINLPEJKJIIPNIKIJKIJFKHGMPGKGHFGLGFIKBDIDEKEGCGIKGE9DCF9CCBCB9HECEEACEGEJFCHHEDCGJDLLQJJGJKRIHFNGEKSREKCNTMONPGGNMHMKJJJRGKKRMeRVNKIFFHJRHOKIDKMPJUJPTJMOFPOJOLIHHJIOLMGNEMMGLDIIHIMKJDFGGLIBMDEDDJBJFFBFNGDDCFDBAAFEAGEECE8EFF7MEDFGHECGEHMINLHFJKPMHGKHJHHMKSGOLTMNHLMFMMKKHKKKNNFNROYZQPHMEELLMJGOGJLLJKPWPPKJNLMJNLLLIGMNAIMNILHMKIJHEKFMKIEJGEGOEHFBIDIEDFHEALLCEHCADAAHCIGCDE9DFF8KFCIGDIDEDJIOJGMJHIPMKEGMGJFIMGNRMTOPFGLKJNFNGKMLJKMQJSUWXSLJKKEKOELMEQJFLINQMUQNJIRGNHJHOMIINFMGJNKLHQHGFIEGNIGKCIIADNHDHDGGEHBFHDGNHI9DFABGCGIFEBBDGEAHHFAJFBJGEEJPHELGMILOJKKHDLCILHJLMRURLGIEQGFGKNINMIHOOPSWTRVLLGJOJIJELLHPGNKQNMLRPMPINHJHMIJSKKHKLGLGJNMNFFDHFPEHJGFICGDGJLFECFHGE9IEKMGD9FBDCGIEHDCEGCBHHADIGBCLGEMNGBLMGIHOLMLEKFHCIOIJGNUQSIGGIOKDHEMOKLMJLHVUVTTJOOGHRGJIFKKJHKLZDINOKQTNJJFJHJHPHOQJFNHIKHKKOKGFCFLFKIHJGFDDGFMHDG7IIFABKHLIEBBGGGGHFEEDGECGGG6JCADEN9QLFCLJIHFQIHQLKDDDHIRGDFRVKNMKEJMMFGELMMPJOHMVRZOUOKIRKLLEFLHIHLKWJNDNMRJITNFLGJFKMNILQMHOKEBKLRHAKHBNGHFOHHEBDBGMEHHEBIIDDHLBNEBCIEIGIDAFICGFIECCIABEGHQGIGNIGFGMLKLOMJBDFDONEFMPRLJGMLIKLNDDNKLKTEQPPOaSQPJKRNKJFKKIEGPRJHQKOFQPGHKRLIIKHNKCMGURIGEGINHMFDFLFKHHMLGBDFCJHFBJGFDGHFEGLFKDEFHHGHFDGBGFIIC9JBFCDHSGHFOHGHALKONHOKDDDGMLDNGNRPKGBKJOJMJJIIJHNPQLQPVOWJNPLMNMIENLBJKRJJIHSOCSLJHHHPPLIILMBHGPUQIGHGJHNHFEFGOGLFOAGFBIGEGEEIHDFIHGEELGKCHHGFGJG9DGGNCAEFGBBIPFDLKIKGDDRQDKGNDPCDFMFMHMJQPHFCHLJMOPFKHGLIRQMQRVQNQJQNOINKJLGJMOLCINILUEPHNJCANQJPNFMHGGOGQQQEJIFHIIFGGJIMIMCGEGEGHEDDDHJIFHEFGHJIJFHHFHDIFDDNDDDFEECJODIGLHMDHIMQJBKILFKIEGNGKJFRRFEIHGJGJPWIFAOMQHFVPVQTKLNNOSFKOOBKLQLGFIILOJSOFMKDJFMMNNMKMIILDENQPKLEEIFLGGHGJGLJDIHEDEFIC8IIHCOCFHJHJLHDFIHDHJDGGEHEEEHIPB9JLFLLEJHSJGHIIDIHKJCMJKJMQLDFJHGGGPGSOGKLKNDMSaNUMOKLLOOMLQDKLPJLHIDGMNJPLQHFLGK9LPLKTKJHKBIKHRJNKJ9MGIHFIKEHJKFJFBHBEIDDGEKFKFLALMFJFLGFGHDJHEGFECIJOCBHLGDKMKGTHFJFJIFHHEKHNHKGPPHCKJIDCOKFQOQGMEIIPRYRSNLNGJOQIRJMMSDHMKHEMGHRLJOLLFFKHFQIONJNKLGHKENKJJMNEFJHLIDHGJJIJDCFGCEHEEDILLHEKHKIDHJIGHDIEIICFCHFRDDKHAFNDMHQLJEDLIGDICJKKHHKOLPEIGIHHMEJGTNKLKHFFWTPUVHNENJJNSHMQQJMGJKGMHFMIRDRJLFKFCPJLKTGCMKQDMGFOHIKHMJGMJHGDIBKPDDIFEHADJBEHOHGOGILDHFFNGDFGDJJG9GIQCHLI9IJGFMNLMJ9IJGFJEALIFJMPIJPHJDHINJ9IMMOLIDMHSKVTSSLINGLGQOMPOQEJOEKLEJLKKIPMIFLLGJGGOLIMKJLFJRGEIPEJMBKFPJFLICIEOGEJIBCFEDGDKLIIMJKCHHELGHHDCKHFJHHLEKHJCEMGKHKJOKFGIHFHHHIEIECTJMNMEKDHKNHDEMIQJCIHLTOQWTQEOMJEPEQTMOJMMINGJEKPEHRMIEDLOLFIEIRHINOFEGOMGJKKEDMJNIIJILFEJEOIFDEDCIECJKLHIHSDBM8GIBHFFEKDKFLLFMFFGJGGODKGPFJGIGHIFLHGEFFMHPHRILIKDKNCDKKGMMCIJMOVRUUJILNHOGNNRPDORGHNHGGOIMKLJJFIFRKKEEHMJNJPJEKJHKMIKIIFJOIHKJGEJJFMLECFBEDKIBNNEFPLIJDGKCGDGGJDFJOIFODGCIMFPHGJKGJIIGGIIHLDHAKKIFLITMJNFJ9LIKHJAKOEFKKPTTWKPMMIRGNJOPKKMPFNGNHJJLKOFKJHHJJHNGFGHQHOHKIQFIJKGGKKINEQFFMFJGIJIKK9CGDIDGNILGHNJLIELHHBHFGGIIKILJELDDHNPGFGKMDHKHHEIPCIEHFIKJBKLTPMFHFBLHNGBGKMJEKMVOUTMNHQMJNKNIKOPIJRGKMHKINILHJLKJGFEINHGLLOHHKKMKHJIDMIIOGHLENEIJLKGJFIICGGAKIINIGLMIJFQEDCCFHFIIMIFJIHCNBMOHIHJJIH9JKKDINFCHKGIIBFQLSJMIFEIMGGJEEJOFKLKUMWLQLJQOJOJKGKJTLLERENNKFLLLELIPKEFCFIIOHQENGHLLINGKGGGOKFIFNDJOEPKEGHHFNEFDKJGLHLIKLGMLGHGCDKEKKKKFGDGJDOQGELJMEFFFGINIKHFHBKKLEGFRIQGJKEINFHLEDCLKKNFTQMTQMFSSMRHHGKJKMQIMMKLQELDRFMFMGLHCDFEJMPHNJFJJHOHIKFLNEIMBHPFFKKQCJIDHKIJHIHHKFHNKKLMCGLEDEGHKILKFIFBCGTKJKBIMIEDIIGILMIGEEFJMLFGINGQJGILKMFJHEBJGJSHLSNQRKKPPRRHLEJGLKMLPIJQNHOBOHOKGIKFIAGHDLINOKIHLINEJFQGILIDEHJPHEKJMMCEILLHEOIDNFEKHOKNHGEFMJFLIJJMFDDGDGMPOHEIMDJDDILIICSIFEEGPDHNIFLERJGIKJKLIDDDGNGLLNQMTRFMNUNQMDKFIIMEQHMSJHOIKRIJJIFEKDEFHHLKIPODJMHKICLMLIELAIGKHOJDLHMHFKIGNMIJLKBGILLOKBIFEIINLMFLFEIAAKMIMIMIJEHDFLMGLDFLKKIGIIHGJGLHKJMMKGJGNJEFGKHFOLNOTSINLUOKPIJFKHJEMKOROIKLGNTIKHBMFCHHHEHJMJHPPIFJGHOHFOJEELCGLHMLDMHGHNFEJKONJPAIFMKLEJKBFFGLLLNIFEHEDIILINIDLLFDFGOLHFGGEMOLFLHFIAIEKOIOJHKFFJLJIFKDJIKNRQTMNSNILHOJIJLCJHONRGMJJIVNMJBGHIBELEIIFJGPMLOFKFOFMIGKLDHFHICONHJGNFJGIKKJUEMJCNNJEEGLFEIGKIKPKFCEHKHLIOEGKHHGHEINKGGGELKJLQHFFBGEHHOINQEFFKHHMHJGGKBMQWLVMUKMGJKKHLMHFHIMRGNEQKORKKNCFJ7GGCGNFHGHNKNNJOGHEHKJFJIIKFGHFQOGFGLHMILLJHQKJLOHHDGCHKKAMGGOCKNDAJPIHNDGKEJEGGHPHJFIFGPHKNNIEDEHDGGJOLOEEOFLDCLJJLEAKRXQSVLIJGLDENJJIHJMLKNFMHSNMKHNIHFEGEGIHJJGLJKKJRMEGLGFGIIIKKIIEBNTFGCHMQHNIGIHPRLNCCJAFDGKLNELLFFMIJHGOLEDLGJDHEIJHJCMFJJOFJNGKJFIBDHKLLEKLNJGHEBIKKMEIJQXTVPGNGGIGBLMDLLLJKHMKKNNNOFMKLFIGAFMEGDPLGNEMQEJNKGLEDCKJNLIDNCNOKAJNJONCLILMLOSKDCEIBGBLRGNGHKIGONJILGELHHGCGIILEFHFNOHKMGHJIIGJCEIHQFALLNMHCKAJILGHLKPdXNOILFFGGHGGMFQMHIHHKOLLMKOKLHGLBHCILAHLOKLKNHEILJNEGFEFLMMHFMFOLJHPFFKRCGNLPQKLLKDCGHCBTEGHJHHNLHMPMADJJKDEDHIJGBIIFRGMMKFGJFHLIBJIKIHDEPQCIIHJFICIJPHWZVUKHKCEHGIDIJNGMNGFKLLOKJKLMPGJFHFKHDILLKPIIIJLHEKGIJDJGHLHMLIJLMOMIGFCNOIINRLIIMKHDCHGOIGIGFINLMMNLLCHIGKAIGHHEHEKILFMIOJJHGFDFHNFMHEHHGJMLDNGIGGDHJPSUYPTMHIDGHEFFJNIKILKGNKFPOFDKMSHLGDCOBHJ9TOEIKHKKGFFIFMIFFIFNLLKMQMKEIJDKHNKPILPJHILIIBEOLCJHHFMLILUJBMJIHGCJHGGGDJKEOCGMLIGILIBGFGNPDICKGHJMIJHKCIHHGLRRUaLVJGGGHFDFFRFGLGELOJHHMPFHCNQONBIK9JJGIOQELJHMFFICLHGIHKGFGFUPKPKKFIFKJHLOKIKQHJEMIJILLGGHEIMLDLRMIGFOHIFEFKFGEDEPMBHLJHJJHIGJEFHJNKHGIKFFJNHNDFFGLRLMQTYOTIIHIEEDCPENIBKHJLLLMGFLJHIPONHMIGEHMIOLJHCNLHDHJDJIMHIEHGKOWFMIKMJHFFTIKJFOMHGKIKHSIEJHGBJPGINMIJHKJJFMHCFLC9JMJGJJJIEIFJJGEIHMGMFIMILBHCLRGGEDMNQKOKUXPOKNHGHCDKJIHKFIIFGKNPCIILIIKKQNMJIGFJMMFNDJ9LMKGCJJLCOIEHPGJLSHPGJOHKMLDJKHLPJDHKJPNHKFGGELIIPMCGKMIJIHGLGFECKKHHIINEEIGFJCJDHRBLFILFNJJDDISIHIKOEONOHSXOOKOIGHDLFIIEIJGHDHFRLFGJJIFQCLWJHKIKGPGIKFFIKHGPJFJFMMJGLGIGONLPHGLSKGGGAQINHMHCHOOIKMHDHKJJRHFDHGKMFNFIGMECJJJCMIJEKDDMBIJDGOCIOMFILLDKGFILOKDUDHJNQIRQVILPLGEJJIHCJHJHFDFJHPHNDLHENOJLSLJFHPMGHJGCJIHLILJGJLMKKIHGKHQMIKPHPEIJGEPKILFIKJJNOGQEEJKMSIFFIDGELOCLDKJDPGDGKLIFKCFDDNAMDJGHJNCODCOIGILHEPUKGLINEEPRUSIMHMOEKJFIICIIFEFHEHKOIMDIJMMKLMRIFJMNJGEMJAEMAMMHHKNLLMFIIMFJQJMHRCJDMKHPLIBJIMIGMFQKMILESMEGDKGCFHLLAMJGNIGJLDJMFDCFJCCEMMJEGINKDBQAMLHNBMRQLFHRJBIMQZNJNDHSNFIHIHG9KEFJEDHHNJIOGOKLFNMOJIKOMFIKGLFEEMAGJMMIQIKMHLGJISKJKJFDKIINQHKBFNIGLGLJPNLKHFGHEJHHFEIDKLDHQGHLKIKDHIEECHDFGCQHELJL9FLDHLKMKQHPKPGNHJECQNXPIMJJNMILHKEBGDHDJEFIBOKGKQJJMKGIKQJPIIMFGOFHMHGFFIIEROFKMONGDNSFJFCKHGNLOJLFIHGLIDKLKJTKNSGDDMIFFIGBEILMJFKNJGJIDPFD6EBJFFENKHHMFLGGAGLGTLLQGKLTHDGHERGaMIRIJIKNOGHCDFBELDFKDEOFILOPMOHFCENWOIEJJGKIIJMFLECHFGULKLSJEPBSHMCGDFJJWDBMNDJIIDIHHQLGPWL"};
var A="0123456789ABCDEFGHIJKLMNOPQRSTUVWXYZabcdefghijklmnopqrstuvwxyz+/";var L={};for(var i=0;i<64;i++)L[A.charCodeAt(i)]=i;
for(var k in D){var c=document.getElementById(k);var x=c.getContext('2d');var w=c.width,h=c.height;var im=x.createImageData(w,h);var s=D[k];
for(var i=0;i<w*h;i++){var q=L[s.charCodeAt(i)]*3;im.data[4*i]=P[q];im.data[4*i+1]=P[q+1];im.data[4*i+2]=P[q+2];im.data[4*i+3]=255;}
x.putImageData(im,0,0);}
</script>
</body></html>
